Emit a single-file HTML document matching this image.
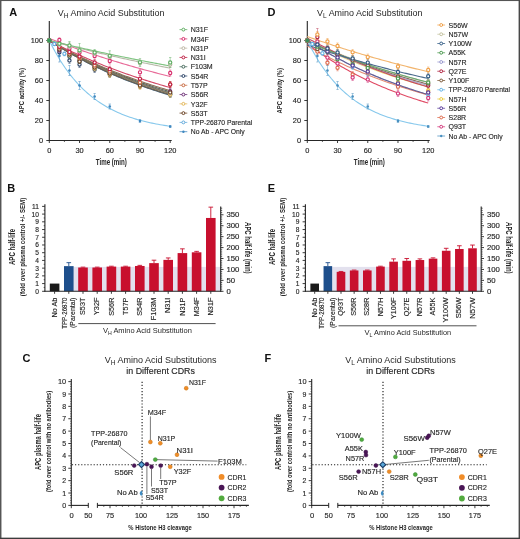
<!DOCTYPE html>
<html><head><meta charset="utf-8"><style>
html,body{margin:0;padding:0;background:#fff;}
svg{display:block;filter:blur(0.3px);}
text{font-family:"Liberation Sans", sans-serif;}
</style></head><body>
<svg width="520" height="539" viewBox="0 0 520 539" font-family="Liberation Sans, sans-serif">
<rect x="0" y="0" width="520" height="539" fill="#fff"/>
<text x="9.20" y="15.58" font-size="11" fill="#111" font-weight="bold">A</text>
<text x="7.20" y="191.58" font-size="11" fill="#111" font-weight="bold">B</text>
<text x="22.50" y="362.18" font-size="11" fill="#111" font-weight="bold">C</text>
<text x="267.50" y="16.28" font-size="11" fill="#111" font-weight="bold">D</text>
<text x="267.70" y="191.68" font-size="11" fill="#111" font-weight="bold">E</text>
<text x="264.50" y="362.08" font-size="11" fill="#111" font-weight="bold">F</text>
<text x="57.80" y="16.3" font-size="8.95" fill="#262626">V<tspan font-size="6.6" dy="1.5">H</tspan><tspan dy="-1.5"> Amino Acid Substitution</tspan></text>
<line x1="49.30" y1="21.00" x2="49.30" y2="141.00" stroke="#262626" stroke-width="1.1"/>
<line x1="48.80" y1="140.50" x2="171.71" y2="140.50" stroke="#262626" stroke-width="1.1"/>
<line x1="46.30" y1="140.50" x2="49.30" y2="140.50" stroke="#262626" stroke-width="0.9"/>
<text x="43.00" y="143.05" font-size="7.4" fill="#262626" stroke="#262626" stroke-width="0.15" text-anchor="end">0</text>
<line x1="46.30" y1="120.50" x2="49.30" y2="120.50" stroke="#262626" stroke-width="0.9"/>
<text x="43.00" y="123.05" font-size="7.4" fill="#262626" stroke="#262626" stroke-width="0.15" text-anchor="end">20</text>
<line x1="46.30" y1="100.50" x2="49.30" y2="100.50" stroke="#262626" stroke-width="0.9"/>
<text x="43.00" y="103.05" font-size="7.4" fill="#262626" stroke="#262626" stroke-width="0.15" text-anchor="end">40</text>
<line x1="46.30" y1="80.50" x2="49.30" y2="80.50" stroke="#262626" stroke-width="0.9"/>
<text x="43.00" y="83.05" font-size="7.4" fill="#262626" stroke="#262626" stroke-width="0.15" text-anchor="end">60</text>
<line x1="46.30" y1="60.50" x2="49.30" y2="60.50" stroke="#262626" stroke-width="0.9"/>
<text x="43.00" y="63.05" font-size="7.4" fill="#262626" stroke="#262626" stroke-width="0.15" text-anchor="end">80</text>
<line x1="46.30" y1="40.50" x2="49.30" y2="40.50" stroke="#262626" stroke-width="0.9"/>
<text x="43.00" y="43.05" font-size="7.4" fill="#262626" stroke="#262626" stroke-width="0.15" text-anchor="end">100</text>
<line x1="49.30" y1="140.50" x2="49.30" y2="143.00" stroke="#262626" stroke-width="0.9"/>
<text x="49.30" y="152.75" font-size="7.4" fill="#262626" stroke="#262626" stroke-width="0.15" text-anchor="middle">0</text>
<line x1="79.53" y1="140.50" x2="79.53" y2="143.00" stroke="#262626" stroke-width="0.9"/>
<text x="79.53" y="152.75" font-size="7.4" fill="#262626" stroke="#262626" stroke-width="0.15" text-anchor="middle">30</text>
<line x1="109.75" y1="140.50" x2="109.75" y2="143.00" stroke="#262626" stroke-width="0.9"/>
<text x="109.75" y="152.75" font-size="7.4" fill="#262626" stroke="#262626" stroke-width="0.15" text-anchor="middle">60</text>
<line x1="139.98" y1="140.50" x2="139.98" y2="143.00" stroke="#262626" stroke-width="0.9"/>
<text x="139.98" y="152.75" font-size="7.4" fill="#262626" stroke="#262626" stroke-width="0.15" text-anchor="middle">90</text>
<line x1="170.20" y1="140.50" x2="170.20" y2="143.00" stroke="#262626" stroke-width="0.9"/>
<text x="170.20" y="152.75" font-size="7.4" fill="#262626" stroke="#262626" stroke-width="0.15" text-anchor="middle">120</text>
<line x1="64.41" y1="140.50" x2="64.41" y2="142.00" stroke="#262626" stroke-width="0.7"/>
<line x1="94.64" y1="140.50" x2="94.64" y2="142.00" stroke="#262626" stroke-width="0.7"/>
<line x1="124.86" y1="140.50" x2="124.86" y2="142.00" stroke="#262626" stroke-width="0.7"/>
<line x1="155.09" y1="140.50" x2="155.09" y2="142.00" stroke="#262626" stroke-width="0.7"/>
<text x="111.30" y="164.86" font-size="8.3" fill="#262626" font-weight="bold" text-anchor="middle" textLength="31" lengthAdjust="spacingAndGlyphs">Time (min)</text>
<text transform="translate(21.50,90.70) rotate(-90)" x="0" y="2.68" font-size="7.8" fill="#262626" font-weight="bold" text-anchor="middle" textLength="45.5" lengthAdjust="spacingAndGlyphs">APC activity (%)</text>
<path d="M49.30,40.50 L51.31,41.81 L53.33,43.11 L55.34,44.38 L57.36,45.64 L59.38,46.89 L61.39,48.11 L63.41,49.33 L65.42,50.52 L67.44,51.70 L69.45,52.87 L71.47,54.02 L73.48,55.15 L75.50,56.27 L77.51,57.37 L79.53,58.46 L81.54,59.54 L83.56,60.60 L85.57,61.65 L87.59,62.68 L89.60,63.70 L91.62,64.71 L93.63,65.70 L95.65,66.68 L97.66,67.65 L99.67,68.61 L101.69,69.55 L103.70,70.48 L105.72,71.40 L107.73,72.31 L109.75,73.20 L111.77,74.08 L113.78,74.95 L115.80,75.81 L117.81,76.66 L119.83,77.50 L121.84,78.32 L123.86,79.14 L125.87,79.94 L127.89,80.74 L129.90,81.52 L131.92,82.30 L133.93,83.06 L135.94,83.81 L137.96,84.55 L139.98,85.29 L141.99,86.01 L144.00,86.73 L146.02,87.43 L148.03,88.13 L150.05,88.81 L152.06,89.49 L154.08,90.16 L156.09,90.82 L158.11,91.47 L160.12,92.12 L162.14,92.75 L164.16,93.38 L166.17,93.99 L168.19,94.60 L170.20,95.21" stroke="#8cc6ea" stroke-width="1.1" fill="none"/>
<path d="M49.30,40.50 L51.31,41.81 L53.33,43.11 L55.34,44.38 L57.36,45.64 L59.38,46.89 L61.39,48.11 L63.41,49.33 L65.42,50.52 L67.44,51.70 L69.45,52.87 L71.47,54.02 L73.48,55.15 L75.50,56.27 L77.51,57.37 L79.53,58.46 L81.54,59.54 L83.56,60.60 L85.57,61.65 L87.59,62.68 L89.60,63.70 L91.62,64.71 L93.63,65.70 L95.65,66.68 L97.66,67.65 L99.67,68.61 L101.69,69.55 L103.70,70.48 L105.72,71.40 L107.73,72.31 L109.75,73.20 L111.77,74.08 L113.78,74.95 L115.80,75.81 L117.81,76.66 L119.83,77.50 L121.84,78.32 L123.86,79.14 L125.87,79.94 L127.89,80.74 L129.90,81.52 L131.92,82.30 L133.93,83.06 L135.94,83.81 L137.96,84.55 L139.98,85.29 L141.99,86.01 L144.00,86.73 L146.02,87.43 L148.03,88.13 L150.05,88.81 L152.06,89.49 L154.08,90.16 L156.09,90.82 L158.11,91.47 L160.12,92.12 L162.14,92.75 L164.16,93.38 L166.17,93.99 L168.19,94.60 L170.20,95.21" stroke="#56606a" stroke-width="1.1" fill="none"/>
<path d="M49.30,40.50 L51.31,41.73 L53.33,42.95 L55.34,44.15 L57.36,45.34 L59.38,46.51 L61.39,47.67 L63.41,48.81 L65.42,49.94 L67.44,51.06 L69.45,52.16 L71.47,53.25 L73.48,54.33 L75.50,55.39 L77.51,56.44 L79.53,57.47 L81.54,58.50 L83.56,59.51 L85.57,60.50 L87.59,61.49 L89.60,62.46 L91.62,63.43 L93.63,64.38 L95.65,65.31 L97.66,66.24 L99.67,67.16 L101.69,68.06 L103.70,68.95 L105.72,69.83 L107.73,70.70 L109.75,71.56 L111.77,72.41 L113.78,73.25 L115.80,74.08 L117.81,74.90 L119.83,75.71 L121.84,76.51 L123.86,77.30 L125.87,78.07 L127.89,78.84 L129.90,79.60 L131.92,80.35 L133.93,81.10 L135.94,81.83 L137.96,82.55 L139.98,83.26 L141.99,83.97 L144.00,84.67 L146.02,85.35 L148.03,86.03 L150.05,86.71 L152.06,87.37 L154.08,88.02 L156.09,88.67 L158.11,89.31 L160.12,89.94 L162.14,90.56 L164.16,91.18 L166.17,91.79 L168.19,92.39 L170.20,92.98" stroke="#66586a" stroke-width="1.1" fill="none"/>
<path d="M49.30,40.50 L51.31,41.69 L53.33,42.87 L55.34,44.04 L57.36,45.19 L59.38,46.32 L61.39,47.45 L63.41,48.56 L65.42,49.65 L67.44,50.74 L69.45,51.81 L71.47,52.87 L73.48,53.91 L75.50,54.94 L77.51,55.96 L79.53,56.97 L81.54,57.97 L83.56,58.95 L85.57,59.93 L87.59,60.89 L89.60,61.84 L91.62,62.78 L93.63,63.70 L95.65,64.62 L97.66,65.52 L99.67,66.42 L101.69,67.30 L103.70,68.17 L105.72,69.04 L107.73,69.89 L109.75,70.73 L111.77,71.56 L113.78,72.39 L115.80,73.20 L117.81,74.00 L119.83,74.80 L121.84,75.58 L123.86,76.35 L125.87,77.12 L127.89,77.87 L129.90,78.62 L131.92,79.36 L133.93,80.09 L135.94,80.81 L137.96,81.52 L139.98,82.23 L141.99,82.92 L144.00,83.61 L146.02,84.29 L148.03,84.96 L150.05,85.62 L152.06,86.27 L154.08,86.92 L156.09,87.56 L158.11,88.19 L160.12,88.81 L162.14,89.43 L164.16,90.04 L166.17,90.64 L168.19,91.24 L170.20,91.82" stroke="#5a6a5a" stroke-width="1.1" fill="none"/>
<path d="M49.30,40.50 L51.31,41.75 L53.33,42.99 L55.34,44.21 L57.36,45.42 L59.38,46.61 L61.39,47.78 L63.41,48.94 L65.42,50.09 L67.44,51.22 L69.45,52.34 L71.47,53.44 L73.48,54.53 L75.50,55.61 L77.51,56.67 L79.53,57.72 L81.54,58.76 L83.56,59.78 L85.57,60.79 L87.59,61.79 L89.60,62.78 L91.62,63.75 L93.63,64.71 L95.65,65.66 L97.66,66.60 L99.67,67.52 L101.69,68.43 L103.70,69.34 L105.72,70.23 L107.73,71.11 L109.75,71.98 L111.77,72.83 L113.78,73.68 L115.80,74.52 L117.81,75.34 L119.83,76.16 L121.84,76.97 L123.86,77.76 L125.87,78.55 L127.89,79.32 L129.90,80.09 L131.92,80.85 L133.93,81.59 L135.94,82.33 L137.96,83.06 L139.98,83.78 L141.99,84.49 L144.00,85.19 L146.02,85.88 L148.03,86.57 L150.05,87.24 L152.06,87.91 L154.08,88.57 L156.09,89.22 L158.11,89.86 L160.12,90.49 L162.14,91.12 L164.16,91.74 L166.17,92.35 L168.19,92.95 L170.20,93.55" stroke="#8a8060" stroke-width="1.1" fill="none"/>
<path d="M49.30,40.50 L51.31,41.79 L53.33,43.07 L55.34,44.32 L57.36,45.57 L59.38,46.79 L61.39,48.00 L63.41,49.20 L65.42,50.38 L67.44,51.54 L69.45,52.69 L71.47,53.82 L73.48,54.94 L75.50,56.05 L77.51,57.14 L79.53,58.22 L81.54,59.28 L83.56,60.33 L85.57,61.36 L87.59,62.39 L89.60,63.39 L91.62,64.39 L93.63,65.37 L95.65,66.34 L97.66,67.30 L99.67,68.25 L101.69,69.18 L103.70,70.10 L105.72,71.01 L107.73,71.91 L109.75,72.79 L111.77,73.67 L113.78,74.53 L115.80,75.38 L117.81,76.23 L119.83,77.06 L121.84,77.87 L123.86,78.68 L125.87,79.48 L127.89,80.27 L129.90,81.05 L131.92,81.82 L133.93,82.57 L135.94,83.32 L137.96,84.06 L139.98,84.79 L141.99,85.51 L144.00,86.22 L146.02,86.92 L148.03,87.61 L150.05,88.30 L152.06,88.97 L154.08,89.64 L156.09,90.29 L158.11,90.94 L160.12,91.58 L162.14,92.21 L164.16,92.84 L166.17,93.45 L168.19,94.06 L170.20,94.66" stroke="#6a6050" stroke-width="1.1" fill="none"/>
<path d="M49.30,40.50 L51.31,41.65 L53.33,42.79 L55.34,43.92 L57.36,45.03 L59.38,46.14 L61.39,47.22 L63.41,48.30 L65.42,49.36 L67.44,50.41 L69.45,51.45 L71.47,52.48 L73.48,53.49 L75.50,54.50 L77.51,55.49 L79.53,56.47 L81.54,57.44 L83.56,58.40 L85.57,59.34 L87.59,60.28 L89.60,61.21 L91.62,62.12 L93.63,63.02 L95.65,63.92 L97.66,64.80 L99.67,65.67 L101.69,66.54 L103.70,67.39 L105.72,68.23 L107.73,69.07 L109.75,69.89 L111.77,70.70 L113.78,71.51 L115.80,72.31 L117.81,73.09 L119.83,73.87 L121.84,74.64 L123.86,75.40 L125.87,76.15 L127.89,76.89 L129.90,77.62 L131.92,78.35 L133.93,79.07 L135.94,79.77 L137.96,80.47 L139.98,81.17 L141.99,81.85 L144.00,82.53 L146.02,83.20 L148.03,83.86 L150.05,84.51 L152.06,85.16 L154.08,85.79 L156.09,86.43 L158.11,87.05 L160.12,87.67 L162.14,88.27 L164.16,88.88 L166.17,89.47 L168.19,90.06 L170.20,90.64" stroke="#8a7058" stroke-width="1.1" fill="none"/>
<path d="M49.30,40.50 L51.31,41.55 L53.33,42.60 L55.34,43.63 L57.36,44.65 L59.38,45.66 L61.39,46.66 L63.41,47.65 L65.42,48.63 L67.44,49.60 L69.45,50.56 L71.47,51.51 L73.48,52.44 L75.50,53.37 L77.51,54.29 L79.53,55.20 L81.54,56.10 L83.56,56.99 L85.57,57.87 L87.59,58.74 L89.60,59.60 L91.62,60.46 L93.63,61.30 L95.65,62.14 L97.66,62.96 L99.67,63.78 L101.69,64.59 L103.70,65.39 L105.72,66.18 L107.73,66.96 L109.75,67.74 L111.77,68.51 L113.78,69.27 L115.80,70.02 L117.81,70.76 L119.83,71.50 L121.84,72.22 L123.86,72.94 L125.87,73.66 L127.89,74.36 L129.90,75.06 L131.92,75.75 L133.93,76.43 L135.94,77.11 L137.96,77.77 L139.98,78.44 L141.99,79.09 L144.00,79.74 L146.02,80.38 L148.03,81.01 L150.05,81.64 L152.06,82.26 L154.08,82.87 L156.09,83.48 L158.11,84.08 L160.12,84.68 L162.14,85.27 L164.16,85.85 L166.17,86.43 L168.19,87.00 L170.20,87.56" stroke="#d04a66" stroke-width="1.1" fill="none"/>
<path d="M49.30,38.50 L51.31,39.29 L53.33,40.07 L55.34,40.85 L57.36,41.62 L59.38,42.38 L61.39,43.14 L63.41,43.89 L65.42,44.64 L67.44,45.38 L69.45,46.12 L71.47,46.85 L73.48,47.57 L75.50,48.29 L77.51,49.00 L79.53,49.71 L81.54,50.41 L83.56,51.11 L85.57,51.80 L87.59,52.48 L89.60,53.16 L91.62,53.84 L93.63,54.51 L95.65,55.17 L97.66,55.83 L99.67,56.49 L101.69,57.14 L103.70,57.78 L105.72,58.42 L107.73,59.05 L109.75,59.68 L111.77,60.31 L113.78,60.93 L115.80,61.54 L117.81,62.15 L119.83,62.76 L121.84,63.36 L123.86,63.96 L125.87,64.55 L127.89,65.14 L129.90,65.72 L131.92,66.30 L133.93,66.87 L135.94,67.44 L137.96,68.00 L139.98,68.56 L141.99,69.12 L144.00,69.67 L146.02,70.22 L148.03,70.76 L150.05,71.30 L152.06,71.84 L154.08,72.37 L156.09,72.89 L158.11,73.42 L160.12,73.94 L162.14,74.45 L164.16,74.96 L166.17,75.47 L168.19,75.97 L170.20,76.47" stroke="#e86a98" stroke-width="1.1" fill="none"/>
<path d="M49.30,40.50 L51.31,41.04 L53.33,41.57 L55.34,42.11 L57.36,42.64 L59.38,43.16 L61.39,43.69 L63.41,44.21 L65.42,44.73 L67.44,45.24 L69.45,45.76 L71.47,46.27 L73.48,46.77 L75.50,47.28 L77.51,47.78 L79.53,48.28 L81.54,48.78 L83.56,49.27 L85.57,49.76 L87.59,50.25 L89.60,50.74 L91.62,51.22 L93.63,51.70 L95.65,52.18 L97.66,52.66 L99.67,53.13 L101.69,53.60 L103.70,54.07 L105.72,54.53 L107.73,55.00 L109.75,55.46 L111.77,55.91 L113.78,56.37 L115.80,56.82 L117.81,57.27 L119.83,57.72 L121.84,58.17 L123.86,58.61 L125.87,59.05 L127.89,59.49 L129.90,59.93 L131.92,60.36 L133.93,60.79 L135.94,61.22 L137.96,61.65 L139.98,62.07 L141.99,62.50 L144.00,62.92 L146.02,63.33 L148.03,63.75 L150.05,64.16 L152.06,64.57 L154.08,64.98 L156.09,65.39 L158.11,65.79 L160.12,66.20 L162.14,66.60 L164.16,66.99 L166.17,67.39 L168.19,67.78 L170.20,68.17" stroke="#b8b8a8" stroke-width="1.1" fill="none"/>
<path d="M49.30,40.50 L51.31,40.99 L53.33,41.48 L55.34,41.96 L57.36,42.44 L59.38,42.92 L61.39,43.40 L63.41,43.87 L65.42,44.34 L67.44,44.81 L69.45,45.28 L71.47,45.75 L73.48,46.21 L75.50,46.67 L77.51,47.13 L79.53,47.59 L81.54,48.04 L83.56,48.49 L85.57,48.94 L87.59,49.39 L89.60,49.84 L91.62,50.28 L93.63,50.72 L95.65,51.16 L97.66,51.59 L99.67,52.03 L101.69,52.46 L103.70,52.89 L105.72,53.32 L107.73,53.75 L109.75,54.17 L111.77,54.59 L113.78,55.01 L115.80,55.43 L117.81,55.85 L119.83,56.26 L121.84,56.67 L123.86,57.08 L125.87,57.49 L127.89,57.90 L129.90,58.30 L131.92,58.70 L133.93,59.10 L135.94,59.50 L137.96,59.89 L139.98,60.29 L141.99,60.68 L144.00,61.07 L146.02,61.46 L148.03,61.85 L150.05,62.23 L152.06,62.61 L154.08,62.99 L156.09,63.37 L158.11,63.75 L160.12,64.12 L162.14,64.50 L164.16,64.87 L166.17,65.24 L168.19,65.61 L170.20,65.97" stroke="#7cc27e" stroke-width="1.1" fill="none"/>
<path d="M49.30,40.50 L51.31,44.53 L53.33,48.38 L55.34,52.07 L57.36,55.59 L59.38,58.96 L61.39,62.18 L63.41,65.27 L65.42,68.21 L67.44,71.03 L69.45,73.72 L71.47,76.30 L73.48,78.76 L75.50,81.11 L77.51,83.36 L79.53,85.52 L81.54,87.58 L83.56,89.54 L85.57,91.43 L87.59,93.22 L89.60,94.95 L91.62,96.59 L93.63,98.16 L95.65,99.67 L97.66,101.11 L99.67,102.48 L101.69,103.80 L103.70,105.05 L105.72,106.26 L107.73,107.41 L109.75,108.51 L111.77,109.56 L113.78,110.56 L115.80,111.52 L117.81,112.44 L119.83,113.32 L121.84,114.16 L123.86,114.97 L125.87,115.73 L127.89,116.47 L129.90,117.17 L131.92,117.84 L133.93,118.48 L135.94,119.10 L137.96,119.69 L139.98,120.25 L141.99,120.78 L144.00,121.30 L146.02,121.79 L148.03,122.26 L150.05,122.71 L152.06,123.13 L154.08,123.55 L156.09,123.94 L158.11,124.31 L160.12,124.67 L162.14,125.01 L164.16,125.34 L166.17,125.66 L168.19,125.96 L170.20,126.24" stroke="#86c8ec" stroke-width="1.1" fill="none"/>
<line x1="54.34" y1="42.50" x2="54.34" y2="45.50" stroke="#62aadc" stroke-width="0.6" opacity="0.8"/>
<line x1="53.14" y1="42.50" x2="55.54" y2="42.50" stroke="#62aadc" stroke-width="0.6" opacity="0.8"/>
<line x1="53.14" y1="45.50" x2="55.54" y2="45.50" stroke="#62aadc" stroke-width="0.6" opacity="0.8"/>
<line x1="64.41" y1="51.80" x2="64.41" y2="55.80" stroke="#62aadc" stroke-width="0.6" opacity="0.8"/>
<line x1="63.21" y1="51.80" x2="65.61" y2="51.80" stroke="#62aadc" stroke-width="0.6" opacity="0.8"/>
<line x1="63.21" y1="55.80" x2="65.61" y2="55.80" stroke="#62aadc" stroke-width="0.6" opacity="0.8"/>
<line x1="79.53" y1="55.50" x2="79.53" y2="61.50" stroke="#62aadc" stroke-width="0.6" opacity="0.8"/>
<line x1="78.33" y1="55.50" x2="80.73" y2="55.50" stroke="#62aadc" stroke-width="0.6" opacity="0.8"/>
<line x1="78.33" y1="61.50" x2="80.73" y2="61.50" stroke="#62aadc" stroke-width="0.6" opacity="0.8"/>
<line x1="94.64" y1="63.50" x2="94.64" y2="69.50" stroke="#62aadc" stroke-width="0.6" opacity="0.8"/>
<line x1="93.44" y1="63.50" x2="95.84" y2="63.50" stroke="#62aadc" stroke-width="0.6" opacity="0.8"/>
<line x1="93.44" y1="69.50" x2="95.84" y2="69.50" stroke="#62aadc" stroke-width="0.6" opacity="0.8"/>
<line x1="109.75" y1="70.50" x2="109.75" y2="76.50" stroke="#62aadc" stroke-width="0.6" opacity="0.8"/>
<line x1="108.55" y1="70.50" x2="110.95" y2="70.50" stroke="#62aadc" stroke-width="0.6" opacity="0.8"/>
<line x1="108.55" y1="76.50" x2="110.95" y2="76.50" stroke="#62aadc" stroke-width="0.6" opacity="0.8"/>
<line x1="139.98" y1="82.50" x2="139.98" y2="88.50" stroke="#62aadc" stroke-width="0.6" opacity="0.8"/>
<line x1="138.78" y1="82.50" x2="141.18" y2="82.50" stroke="#62aadc" stroke-width="0.6" opacity="0.8"/>
<line x1="138.78" y1="88.50" x2="141.18" y2="88.50" stroke="#62aadc" stroke-width="0.6" opacity="0.8"/>
<line x1="170.20" y1="91.50" x2="170.20" y2="97.50" stroke="#62aadc" stroke-width="0.6" opacity="0.8"/>
<line x1="169.00" y1="91.50" x2="171.40" y2="91.50" stroke="#62aadc" stroke-width="0.6" opacity="0.8"/>
<line x1="169.00" y1="97.50" x2="171.40" y2="97.50" stroke="#62aadc" stroke-width="0.6" opacity="0.8"/>
<line x1="59.38" y1="49.20" x2="59.38" y2="55.20" stroke="#2c4468" stroke-width="0.6" opacity="0.8"/>
<line x1="58.17" y1="49.20" x2="60.58" y2="49.20" stroke="#2c4468" stroke-width="0.6" opacity="0.8"/>
<line x1="58.17" y1="55.20" x2="60.58" y2="55.20" stroke="#2c4468" stroke-width="0.6" opacity="0.8"/>
<line x1="69.45" y1="57.40" x2="69.45" y2="63.40" stroke="#2c4468" stroke-width="0.6" opacity="0.8"/>
<line x1="68.25" y1="57.40" x2="70.65" y2="57.40" stroke="#2c4468" stroke-width="0.6" opacity="0.8"/>
<line x1="68.25" y1="63.40" x2="70.65" y2="63.40" stroke="#2c4468" stroke-width="0.6" opacity="0.8"/>
<line x1="79.53" y1="61.50" x2="79.53" y2="67.50" stroke="#2c4468" stroke-width="0.6" opacity="0.8"/>
<line x1="78.33" y1="61.50" x2="80.73" y2="61.50" stroke="#2c4468" stroke-width="0.6" opacity="0.8"/>
<line x1="78.33" y1="67.50" x2="80.73" y2="67.50" stroke="#2c4468" stroke-width="0.6" opacity="0.8"/>
<line x1="94.64" y1="66.50" x2="94.64" y2="72.50" stroke="#2c4468" stroke-width="0.6" opacity="0.8"/>
<line x1="93.44" y1="66.50" x2="95.84" y2="66.50" stroke="#2c4468" stroke-width="0.6" opacity="0.8"/>
<line x1="93.44" y1="72.50" x2="95.84" y2="72.50" stroke="#2c4468" stroke-width="0.6" opacity="0.8"/>
<line x1="109.75" y1="71.50" x2="109.75" y2="77.50" stroke="#2c4468" stroke-width="0.6" opacity="0.8"/>
<line x1="108.55" y1="71.50" x2="110.95" y2="71.50" stroke="#2c4468" stroke-width="0.6" opacity="0.8"/>
<line x1="108.55" y1="77.50" x2="110.95" y2="77.50" stroke="#2c4468" stroke-width="0.6" opacity="0.8"/>
<line x1="139.98" y1="82.50" x2="139.98" y2="88.50" stroke="#2c4468" stroke-width="0.6" opacity="0.8"/>
<line x1="138.78" y1="82.50" x2="141.18" y2="82.50" stroke="#2c4468" stroke-width="0.6" opacity="0.8"/>
<line x1="138.78" y1="88.50" x2="141.18" y2="88.50" stroke="#2c4468" stroke-width="0.6" opacity="0.8"/>
<line x1="170.20" y1="91.50" x2="170.20" y2="97.50" stroke="#2c4468" stroke-width="0.6" opacity="0.8"/>
<line x1="169.00" y1="91.50" x2="171.40" y2="91.50" stroke="#2c4468" stroke-width="0.6" opacity="0.8"/>
<line x1="169.00" y1="97.50" x2="171.40" y2="97.50" stroke="#2c4468" stroke-width="0.6" opacity="0.8"/>
<line x1="59.38" y1="47.50" x2="59.38" y2="53.50" stroke="#6a2c74" stroke-width="0.6" opacity="0.8"/>
<line x1="58.17" y1="47.50" x2="60.58" y2="47.50" stroke="#6a2c74" stroke-width="0.6" opacity="0.8"/>
<line x1="58.17" y1="53.50" x2="60.58" y2="53.50" stroke="#6a2c74" stroke-width="0.6" opacity="0.8"/>
<line x1="69.45" y1="52.50" x2="69.45" y2="58.50" stroke="#6a2c74" stroke-width="0.6" opacity="0.8"/>
<line x1="68.25" y1="52.50" x2="70.65" y2="52.50" stroke="#6a2c74" stroke-width="0.6" opacity="0.8"/>
<line x1="68.25" y1="58.50" x2="70.65" y2="58.50" stroke="#6a2c74" stroke-width="0.6" opacity="0.8"/>
<line x1="79.53" y1="57.50" x2="79.53" y2="63.50" stroke="#6a2c74" stroke-width="0.6" opacity="0.8"/>
<line x1="78.33" y1="57.50" x2="80.73" y2="57.50" stroke="#6a2c74" stroke-width="0.6" opacity="0.8"/>
<line x1="78.33" y1="63.50" x2="80.73" y2="63.50" stroke="#6a2c74" stroke-width="0.6" opacity="0.8"/>
<line x1="94.64" y1="63.50" x2="94.64" y2="69.50" stroke="#6a2c74" stroke-width="0.6" opacity="0.8"/>
<line x1="93.44" y1="63.50" x2="95.84" y2="63.50" stroke="#6a2c74" stroke-width="0.6" opacity="0.8"/>
<line x1="93.44" y1="69.50" x2="95.84" y2="69.50" stroke="#6a2c74" stroke-width="0.6" opacity="0.8"/>
<line x1="109.75" y1="70.50" x2="109.75" y2="76.50" stroke="#6a2c74" stroke-width="0.6" opacity="0.8"/>
<line x1="108.55" y1="70.50" x2="110.95" y2="70.50" stroke="#6a2c74" stroke-width="0.6" opacity="0.8"/>
<line x1="108.55" y1="76.50" x2="110.95" y2="76.50" stroke="#6a2c74" stroke-width="0.6" opacity="0.8"/>
<line x1="139.98" y1="81.50" x2="139.98" y2="87.50" stroke="#6a2c74" stroke-width="0.6" opacity="0.8"/>
<line x1="138.78" y1="81.50" x2="141.18" y2="81.50" stroke="#6a2c74" stroke-width="0.6" opacity="0.8"/>
<line x1="138.78" y1="87.50" x2="141.18" y2="87.50" stroke="#6a2c74" stroke-width="0.6" opacity="0.8"/>
<line x1="170.20" y1="88.50" x2="170.20" y2="94.50" stroke="#6a2c74" stroke-width="0.6" opacity="0.8"/>
<line x1="169.00" y1="88.50" x2="171.40" y2="88.50" stroke="#6a2c74" stroke-width="0.6" opacity="0.8"/>
<line x1="169.00" y1="94.50" x2="171.40" y2="94.50" stroke="#6a2c74" stroke-width="0.6" opacity="0.8"/>
<line x1="59.38" y1="45.70" x2="59.38" y2="51.70" stroke="#466a5c" stroke-width="0.6" opacity="0.8"/>
<line x1="58.17" y1="45.70" x2="60.58" y2="45.70" stroke="#466a5c" stroke-width="0.6" opacity="0.8"/>
<line x1="58.17" y1="51.70" x2="60.58" y2="51.70" stroke="#466a5c" stroke-width="0.6" opacity="0.8"/>
<line x1="69.45" y1="53.50" x2="69.45" y2="59.50" stroke="#466a5c" stroke-width="0.6" opacity="0.8"/>
<line x1="68.25" y1="53.50" x2="70.65" y2="53.50" stroke="#466a5c" stroke-width="0.6" opacity="0.8"/>
<line x1="68.25" y1="59.50" x2="70.65" y2="59.50" stroke="#466a5c" stroke-width="0.6" opacity="0.8"/>
<line x1="79.53" y1="58.50" x2="79.53" y2="64.50" stroke="#466a5c" stroke-width="0.6" opacity="0.8"/>
<line x1="78.33" y1="58.50" x2="80.73" y2="58.50" stroke="#466a5c" stroke-width="0.6" opacity="0.8"/>
<line x1="78.33" y1="64.50" x2="80.73" y2="64.50" stroke="#466a5c" stroke-width="0.6" opacity="0.8"/>
<line x1="94.64" y1="64.50" x2="94.64" y2="70.50" stroke="#466a5c" stroke-width="0.6" opacity="0.8"/>
<line x1="93.44" y1="64.50" x2="95.84" y2="64.50" stroke="#466a5c" stroke-width="0.6" opacity="0.8"/>
<line x1="93.44" y1="70.50" x2="95.84" y2="70.50" stroke="#466a5c" stroke-width="0.6" opacity="0.8"/>
<line x1="109.75" y1="70.00" x2="109.75" y2="76.00" stroke="#466a5c" stroke-width="0.6" opacity="0.8"/>
<line x1="108.55" y1="70.00" x2="110.95" y2="70.00" stroke="#466a5c" stroke-width="0.6" opacity="0.8"/>
<line x1="108.55" y1="76.00" x2="110.95" y2="76.00" stroke="#466a5c" stroke-width="0.6" opacity="0.8"/>
<line x1="139.98" y1="81.50" x2="139.98" y2="87.50" stroke="#466a5c" stroke-width="0.6" opacity="0.8"/>
<line x1="138.78" y1="81.50" x2="141.18" y2="81.50" stroke="#466a5c" stroke-width="0.6" opacity="0.8"/>
<line x1="138.78" y1="87.50" x2="141.18" y2="87.50" stroke="#466a5c" stroke-width="0.6" opacity="0.8"/>
<line x1="170.20" y1="90.50" x2="170.20" y2="96.50" stroke="#466a5c" stroke-width="0.6" opacity="0.8"/>
<line x1="169.00" y1="90.50" x2="171.40" y2="90.50" stroke="#466a5c" stroke-width="0.6" opacity="0.8"/>
<line x1="169.00" y1="96.50" x2="171.40" y2="96.50" stroke="#466a5c" stroke-width="0.6" opacity="0.8"/>
<line x1="59.38" y1="44.50" x2="59.38" y2="50.50" stroke="#e4b85a" stroke-width="0.6" opacity="0.8"/>
<line x1="58.17" y1="44.50" x2="60.58" y2="44.50" stroke="#e4b85a" stroke-width="0.6" opacity="0.8"/>
<line x1="58.17" y1="50.50" x2="60.58" y2="50.50" stroke="#e4b85a" stroke-width="0.6" opacity="0.8"/>
<line x1="69.45" y1="51.50" x2="69.45" y2="57.50" stroke="#e4b85a" stroke-width="0.6" opacity="0.8"/>
<line x1="68.25" y1="51.50" x2="70.65" y2="51.50" stroke="#e4b85a" stroke-width="0.6" opacity="0.8"/>
<line x1="68.25" y1="57.50" x2="70.65" y2="57.50" stroke="#e4b85a" stroke-width="0.6" opacity="0.8"/>
<line x1="79.53" y1="55.50" x2="79.53" y2="61.50" stroke="#e4b85a" stroke-width="0.6" opacity="0.8"/>
<line x1="78.33" y1="55.50" x2="80.73" y2="55.50" stroke="#e4b85a" stroke-width="0.6" opacity="0.8"/>
<line x1="78.33" y1="61.50" x2="80.73" y2="61.50" stroke="#e4b85a" stroke-width="0.6" opacity="0.8"/>
<line x1="94.64" y1="65.50" x2="94.64" y2="71.50" stroke="#e4b85a" stroke-width="0.6" opacity="0.8"/>
<line x1="93.44" y1="65.50" x2="95.84" y2="65.50" stroke="#e4b85a" stroke-width="0.6" opacity="0.8"/>
<line x1="93.44" y1="71.50" x2="95.84" y2="71.50" stroke="#e4b85a" stroke-width="0.6" opacity="0.8"/>
<line x1="109.75" y1="71.50" x2="109.75" y2="77.50" stroke="#e4b85a" stroke-width="0.6" opacity="0.8"/>
<line x1="108.55" y1="71.50" x2="110.95" y2="71.50" stroke="#e4b85a" stroke-width="0.6" opacity="0.8"/>
<line x1="108.55" y1="77.50" x2="110.95" y2="77.50" stroke="#e4b85a" stroke-width="0.6" opacity="0.8"/>
<line x1="139.98" y1="83.50" x2="139.98" y2="89.50" stroke="#e4b85a" stroke-width="0.6" opacity="0.8"/>
<line x1="138.78" y1="83.50" x2="141.18" y2="83.50" stroke="#e4b85a" stroke-width="0.6" opacity="0.8"/>
<line x1="138.78" y1="89.50" x2="141.18" y2="89.50" stroke="#e4b85a" stroke-width="0.6" opacity="0.8"/>
<line x1="170.20" y1="91.50" x2="170.20" y2="97.50" stroke="#e4b85a" stroke-width="0.6" opacity="0.8"/>
<line x1="169.00" y1="91.50" x2="171.40" y2="91.50" stroke="#e4b85a" stroke-width="0.6" opacity="0.8"/>
<line x1="169.00" y1="97.50" x2="171.40" y2="97.50" stroke="#e4b85a" stroke-width="0.6" opacity="0.8"/>
<line x1="59.38" y1="46.50" x2="59.38" y2="52.50" stroke="#6e4628" stroke-width="0.6" opacity="0.8"/>
<line x1="58.17" y1="46.50" x2="60.58" y2="46.50" stroke="#6e4628" stroke-width="0.6" opacity="0.8"/>
<line x1="58.17" y1="52.50" x2="60.58" y2="52.50" stroke="#6e4628" stroke-width="0.6" opacity="0.8"/>
<line x1="69.45" y1="51.50" x2="69.45" y2="57.50" stroke="#6e4628" stroke-width="0.6" opacity="0.8"/>
<line x1="68.25" y1="51.50" x2="70.65" y2="51.50" stroke="#6e4628" stroke-width="0.6" opacity="0.8"/>
<line x1="68.25" y1="57.50" x2="70.65" y2="57.50" stroke="#6e4628" stroke-width="0.6" opacity="0.8"/>
<line x1="79.53" y1="58.50" x2="79.53" y2="64.50" stroke="#6e4628" stroke-width="0.6" opacity="0.8"/>
<line x1="78.33" y1="58.50" x2="80.73" y2="58.50" stroke="#6e4628" stroke-width="0.6" opacity="0.8"/>
<line x1="78.33" y1="64.50" x2="80.73" y2="64.50" stroke="#6e4628" stroke-width="0.6" opacity="0.8"/>
<line x1="94.64" y1="64.50" x2="94.64" y2="70.50" stroke="#6e4628" stroke-width="0.6" opacity="0.8"/>
<line x1="93.44" y1="64.50" x2="95.84" y2="64.50" stroke="#6e4628" stroke-width="0.6" opacity="0.8"/>
<line x1="93.44" y1="70.50" x2="95.84" y2="70.50" stroke="#6e4628" stroke-width="0.6" opacity="0.8"/>
<line x1="109.75" y1="70.50" x2="109.75" y2="76.50" stroke="#6e4628" stroke-width="0.6" opacity="0.8"/>
<line x1="108.55" y1="70.50" x2="110.95" y2="70.50" stroke="#6e4628" stroke-width="0.6" opacity="0.8"/>
<line x1="108.55" y1="76.50" x2="110.95" y2="76.50" stroke="#6e4628" stroke-width="0.6" opacity="0.8"/>
<line x1="139.98" y1="82.50" x2="139.98" y2="88.50" stroke="#6e4628" stroke-width="0.6" opacity="0.8"/>
<line x1="138.78" y1="82.50" x2="141.18" y2="82.50" stroke="#6e4628" stroke-width="0.6" opacity="0.8"/>
<line x1="138.78" y1="88.50" x2="141.18" y2="88.50" stroke="#6e4628" stroke-width="0.6" opacity="0.8"/>
<line x1="170.20" y1="89.50" x2="170.20" y2="95.50" stroke="#6e4628" stroke-width="0.6" opacity="0.8"/>
<line x1="169.00" y1="89.50" x2="171.40" y2="89.50" stroke="#6e4628" stroke-width="0.6" opacity="0.8"/>
<line x1="169.00" y1="95.50" x2="171.40" y2="95.50" stroke="#6e4628" stroke-width="0.6" opacity="0.8"/>
<line x1="59.38" y1="44.50" x2="59.38" y2="50.50" stroke="#c86a40" stroke-width="0.6" opacity="0.8"/>
<line x1="58.17" y1="44.50" x2="60.58" y2="44.50" stroke="#c86a40" stroke-width="0.6" opacity="0.8"/>
<line x1="58.17" y1="50.50" x2="60.58" y2="50.50" stroke="#c86a40" stroke-width="0.6" opacity="0.8"/>
<line x1="69.45" y1="49.50" x2="69.45" y2="55.50" stroke="#c86a40" stroke-width="0.6" opacity="0.8"/>
<line x1="68.25" y1="49.50" x2="70.65" y2="49.50" stroke="#c86a40" stroke-width="0.6" opacity="0.8"/>
<line x1="68.25" y1="55.50" x2="70.65" y2="55.50" stroke="#c86a40" stroke-width="0.6" opacity="0.8"/>
<line x1="79.53" y1="54.50" x2="79.53" y2="60.50" stroke="#c86a40" stroke-width="0.6" opacity="0.8"/>
<line x1="78.33" y1="54.50" x2="80.73" y2="54.50" stroke="#c86a40" stroke-width="0.6" opacity="0.8"/>
<line x1="78.33" y1="60.50" x2="80.73" y2="60.50" stroke="#c86a40" stroke-width="0.6" opacity="0.8"/>
<line x1="94.64" y1="62.50" x2="94.64" y2="68.50" stroke="#c86a40" stroke-width="0.6" opacity="0.8"/>
<line x1="93.44" y1="62.50" x2="95.84" y2="62.50" stroke="#c86a40" stroke-width="0.6" opacity="0.8"/>
<line x1="93.44" y1="68.50" x2="95.84" y2="68.50" stroke="#c86a40" stroke-width="0.6" opacity="0.8"/>
<line x1="109.75" y1="68.50" x2="109.75" y2="74.50" stroke="#c86a40" stroke-width="0.6" opacity="0.8"/>
<line x1="108.55" y1="68.50" x2="110.95" y2="68.50" stroke="#c86a40" stroke-width="0.6" opacity="0.8"/>
<line x1="108.55" y1="74.50" x2="110.95" y2="74.50" stroke="#c86a40" stroke-width="0.6" opacity="0.8"/>
<line x1="139.98" y1="79.50" x2="139.98" y2="85.50" stroke="#c86a40" stroke-width="0.6" opacity="0.8"/>
<line x1="138.78" y1="79.50" x2="141.18" y2="79.50" stroke="#c86a40" stroke-width="0.6" opacity="0.8"/>
<line x1="138.78" y1="85.50" x2="141.18" y2="85.50" stroke="#c86a40" stroke-width="0.6" opacity="0.8"/>
<line x1="170.20" y1="81.50" x2="170.20" y2="87.50" stroke="#c86a40" stroke-width="0.6" opacity="0.8"/>
<line x1="169.00" y1="81.50" x2="171.40" y2="81.50" stroke="#c86a40" stroke-width="0.6" opacity="0.8"/>
<line x1="169.00" y1="87.50" x2="171.40" y2="87.50" stroke="#c86a40" stroke-width="0.6" opacity="0.8"/>
<line x1="59.38" y1="43.80" x2="59.38" y2="49.80" stroke="#be1a40" stroke-width="0.6" opacity="0.8"/>
<line x1="58.17" y1="43.80" x2="60.58" y2="43.80" stroke="#be1a40" stroke-width="0.6" opacity="0.8"/>
<line x1="58.17" y1="49.80" x2="60.58" y2="49.80" stroke="#be1a40" stroke-width="0.6" opacity="0.8"/>
<line x1="69.45" y1="48.90" x2="69.45" y2="54.90" stroke="#be1a40" stroke-width="0.6" opacity="0.8"/>
<line x1="68.25" y1="48.90" x2="70.65" y2="48.90" stroke="#be1a40" stroke-width="0.6" opacity="0.8"/>
<line x1="68.25" y1="54.90" x2="70.65" y2="54.90" stroke="#be1a40" stroke-width="0.6" opacity="0.8"/>
<line x1="79.53" y1="53.50" x2="79.53" y2="59.50" stroke="#be1a40" stroke-width="0.6" opacity="0.8"/>
<line x1="78.33" y1="53.50" x2="80.73" y2="53.50" stroke="#be1a40" stroke-width="0.6" opacity="0.8"/>
<line x1="78.33" y1="59.50" x2="80.73" y2="59.50" stroke="#be1a40" stroke-width="0.6" opacity="0.8"/>
<line x1="94.64" y1="59.50" x2="94.64" y2="65.50" stroke="#be1a40" stroke-width="0.6" opacity="0.8"/>
<line x1="93.44" y1="59.50" x2="95.84" y2="59.50" stroke="#be1a40" stroke-width="0.6" opacity="0.8"/>
<line x1="93.44" y1="65.50" x2="95.84" y2="65.50" stroke="#be1a40" stroke-width="0.6" opacity="0.8"/>
<line x1="109.75" y1="66.20" x2="109.75" y2="72.20" stroke="#be1a40" stroke-width="0.6" opacity="0.8"/>
<line x1="108.55" y1="66.20" x2="110.95" y2="66.20" stroke="#be1a40" stroke-width="0.6" opacity="0.8"/>
<line x1="108.55" y1="72.20" x2="110.95" y2="72.20" stroke="#be1a40" stroke-width="0.6" opacity="0.8"/>
<line x1="139.98" y1="75.80" x2="139.98" y2="81.80" stroke="#be1a40" stroke-width="0.6" opacity="0.8"/>
<line x1="138.78" y1="75.80" x2="141.18" y2="75.80" stroke="#be1a40" stroke-width="0.6" opacity="0.8"/>
<line x1="138.78" y1="81.80" x2="141.18" y2="81.80" stroke="#be1a40" stroke-width="0.6" opacity="0.8"/>
<line x1="170.20" y1="81.50" x2="170.20" y2="87.50" stroke="#be1a40" stroke-width="0.6" opacity="0.8"/>
<line x1="169.00" y1="81.50" x2="171.40" y2="81.50" stroke="#be1a40" stroke-width="0.6" opacity="0.8"/>
<line x1="169.00" y1="87.50" x2="171.40" y2="87.50" stroke="#be1a40" stroke-width="0.6" opacity="0.8"/>
<line x1="59.38" y1="37.90" x2="59.38" y2="41.90" stroke="#d8306e" stroke-width="0.6" opacity="0.8"/>
<line x1="58.17" y1="37.90" x2="60.58" y2="37.90" stroke="#d8306e" stroke-width="0.6" opacity="0.8"/>
<line x1="58.17" y1="41.90" x2="60.58" y2="41.90" stroke="#d8306e" stroke-width="0.6" opacity="0.8"/>
<line x1="69.45" y1="45.50" x2="69.45" y2="51.50" stroke="#d8306e" stroke-width="0.6" opacity="0.8"/>
<line x1="68.25" y1="45.50" x2="70.65" y2="45.50" stroke="#d8306e" stroke-width="0.6" opacity="0.8"/>
<line x1="68.25" y1="51.50" x2="70.65" y2="51.50" stroke="#d8306e" stroke-width="0.6" opacity="0.8"/>
<line x1="79.53" y1="49.50" x2="79.53" y2="55.50" stroke="#d8306e" stroke-width="0.6" opacity="0.8"/>
<line x1="78.33" y1="49.50" x2="80.73" y2="49.50" stroke="#d8306e" stroke-width="0.6" opacity="0.8"/>
<line x1="78.33" y1="55.50" x2="80.73" y2="55.50" stroke="#d8306e" stroke-width="0.6" opacity="0.8"/>
<line x1="94.64" y1="54.00" x2="94.64" y2="58.00" stroke="#d8306e" stroke-width="0.6" opacity="0.8"/>
<line x1="93.44" y1="54.00" x2="95.84" y2="54.00" stroke="#d8306e" stroke-width="0.6" opacity="0.8"/>
<line x1="93.44" y1="58.00" x2="95.84" y2="58.00" stroke="#d8306e" stroke-width="0.6" opacity="0.8"/>
<line x1="109.75" y1="58.00" x2="109.75" y2="64.00" stroke="#d8306e" stroke-width="0.6" opacity="0.8"/>
<line x1="108.55" y1="58.00" x2="110.95" y2="58.00" stroke="#d8306e" stroke-width="0.6" opacity="0.8"/>
<line x1="108.55" y1="64.00" x2="110.95" y2="64.00" stroke="#d8306e" stroke-width="0.6" opacity="0.8"/>
<line x1="139.98" y1="69.30" x2="139.98" y2="75.30" stroke="#d8306e" stroke-width="0.6" opacity="0.8"/>
<line x1="138.78" y1="69.30" x2="141.18" y2="69.30" stroke="#d8306e" stroke-width="0.6" opacity="0.8"/>
<line x1="138.78" y1="75.30" x2="141.18" y2="75.30" stroke="#d8306e" stroke-width="0.6" opacity="0.8"/>
<line x1="170.20" y1="70.00" x2="170.20" y2="76.00" stroke="#d8306e" stroke-width="0.6" opacity="0.8"/>
<line x1="169.00" y1="70.00" x2="171.40" y2="70.00" stroke="#d8306e" stroke-width="0.6" opacity="0.8"/>
<line x1="169.00" y1="76.00" x2="171.40" y2="76.00" stroke="#d8306e" stroke-width="0.6" opacity="0.8"/>
<line x1="59.38" y1="41.50" x2="59.38" y2="47.50" stroke="#bdb6a4" stroke-width="0.6" opacity="0.8"/>
<line x1="58.17" y1="41.50" x2="60.58" y2="41.50" stroke="#bdb6a4" stroke-width="0.6" opacity="0.8"/>
<line x1="58.17" y1="47.50" x2="60.58" y2="47.50" stroke="#bdb6a4" stroke-width="0.6" opacity="0.8"/>
<line x1="69.45" y1="42.50" x2="69.45" y2="50.50" stroke="#bdb6a4" stroke-width="0.6" opacity="0.8"/>
<line x1="68.25" y1="42.50" x2="70.65" y2="42.50" stroke="#bdb6a4" stroke-width="0.6" opacity="0.8"/>
<line x1="68.25" y1="50.50" x2="70.65" y2="50.50" stroke="#bdb6a4" stroke-width="0.6" opacity="0.8"/>
<line x1="79.53" y1="47.00" x2="79.53" y2="55.00" stroke="#bdb6a4" stroke-width="0.6" opacity="0.8"/>
<line x1="78.33" y1="47.00" x2="80.73" y2="47.00" stroke="#bdb6a4" stroke-width="0.6" opacity="0.8"/>
<line x1="78.33" y1="55.00" x2="80.73" y2="55.00" stroke="#bdb6a4" stroke-width="0.6" opacity="0.8"/>
<line x1="94.64" y1="50.50" x2="94.64" y2="56.50" stroke="#bdb6a4" stroke-width="0.6" opacity="0.8"/>
<line x1="93.44" y1="50.50" x2="95.84" y2="50.50" stroke="#bdb6a4" stroke-width="0.6" opacity="0.8"/>
<line x1="93.44" y1="56.50" x2="95.84" y2="56.50" stroke="#bdb6a4" stroke-width="0.6" opacity="0.8"/>
<line x1="109.75" y1="54.00" x2="109.75" y2="60.00" stroke="#bdb6a4" stroke-width="0.6" opacity="0.8"/>
<line x1="108.55" y1="54.00" x2="110.95" y2="54.00" stroke="#bdb6a4" stroke-width="0.6" opacity="0.8"/>
<line x1="108.55" y1="60.00" x2="110.95" y2="60.00" stroke="#bdb6a4" stroke-width="0.6" opacity="0.8"/>
<line x1="139.98" y1="60.00" x2="139.98" y2="66.00" stroke="#bdb6a4" stroke-width="0.6" opacity="0.8"/>
<line x1="138.78" y1="60.00" x2="141.18" y2="60.00" stroke="#bdb6a4" stroke-width="0.6" opacity="0.8"/>
<line x1="138.78" y1="66.00" x2="141.18" y2="66.00" stroke="#bdb6a4" stroke-width="0.6" opacity="0.8"/>
<line x1="170.20" y1="61.50" x2="170.20" y2="67.50" stroke="#bdb6a4" stroke-width="0.6" opacity="0.8"/>
<line x1="169.00" y1="61.50" x2="171.40" y2="61.50" stroke="#bdb6a4" stroke-width="0.6" opacity="0.8"/>
<line x1="169.00" y1="67.50" x2="171.40" y2="67.50" stroke="#bdb6a4" stroke-width="0.6" opacity="0.8"/>
<line x1="59.38" y1="40.70" x2="59.38" y2="46.70" stroke="#5fae62" stroke-width="0.6" opacity="0.8"/>
<line x1="58.17" y1="40.70" x2="60.58" y2="40.70" stroke="#5fae62" stroke-width="0.6" opacity="0.8"/>
<line x1="58.17" y1="46.70" x2="60.58" y2="46.70" stroke="#5fae62" stroke-width="0.6" opacity="0.8"/>
<line x1="69.45" y1="41.50" x2="69.45" y2="49.50" stroke="#5fae62" stroke-width="0.6" opacity="0.8"/>
<line x1="68.25" y1="41.50" x2="70.65" y2="41.50" stroke="#5fae62" stroke-width="0.6" opacity="0.8"/>
<line x1="68.25" y1="49.50" x2="70.65" y2="49.50" stroke="#5fae62" stroke-width="0.6" opacity="0.8"/>
<line x1="79.53" y1="43.30" x2="79.53" y2="57.30" stroke="#5fae62" stroke-width="0.6" opacity="0.8"/>
<line x1="78.33" y1="43.30" x2="80.73" y2="43.30" stroke="#5fae62" stroke-width="0.6" opacity="0.8"/>
<line x1="78.33" y1="57.30" x2="80.73" y2="57.30" stroke="#5fae62" stroke-width="0.6" opacity="0.8"/>
<line x1="94.64" y1="49.50" x2="94.64" y2="55.50" stroke="#5fae62" stroke-width="0.6" opacity="0.8"/>
<line x1="93.44" y1="49.50" x2="95.84" y2="49.50" stroke="#5fae62" stroke-width="0.6" opacity="0.8"/>
<line x1="93.44" y1="55.50" x2="95.84" y2="55.50" stroke="#5fae62" stroke-width="0.6" opacity="0.8"/>
<line x1="109.75" y1="50.80" x2="109.75" y2="60.80" stroke="#5fae62" stroke-width="0.6" opacity="0.8"/>
<line x1="108.55" y1="50.80" x2="110.95" y2="50.80" stroke="#5fae62" stroke-width="0.6" opacity="0.8"/>
<line x1="108.55" y1="60.80" x2="110.95" y2="60.80" stroke="#5fae62" stroke-width="0.6" opacity="0.8"/>
<line x1="139.98" y1="58.30" x2="139.98" y2="66.30" stroke="#5fae62" stroke-width="0.6" opacity="0.8"/>
<line x1="138.78" y1="58.30" x2="141.18" y2="58.30" stroke="#5fae62" stroke-width="0.6" opacity="0.8"/>
<line x1="138.78" y1="66.30" x2="141.18" y2="66.30" stroke="#5fae62" stroke-width="0.6" opacity="0.8"/>
<line x1="170.20" y1="57.50" x2="170.20" y2="67.50" stroke="#5fae62" stroke-width="0.6" opacity="0.8"/>
<line x1="169.00" y1="57.50" x2="171.40" y2="57.50" stroke="#5fae62" stroke-width="0.6" opacity="0.8"/>
<line x1="169.00" y1="67.50" x2="171.40" y2="67.50" stroke="#5fae62" stroke-width="0.6" opacity="0.8"/>
<line x1="59.38" y1="50.00" x2="59.38" y2="62.00" stroke="#3f88c0" stroke-width="0.6" opacity="0.8"/>
<line x1="58.17" y1="50.00" x2="60.58" y2="50.00" stroke="#3f88c0" stroke-width="0.6" opacity="0.8"/>
<line x1="58.17" y1="62.00" x2="60.58" y2="62.00" stroke="#3f88c0" stroke-width="0.6" opacity="0.8"/>
<line x1="69.45" y1="65.50" x2="69.45" y2="75.50" stroke="#3f88c0" stroke-width="0.6" opacity="0.8"/>
<line x1="68.25" y1="65.50" x2="70.65" y2="65.50" stroke="#3f88c0" stroke-width="0.6" opacity="0.8"/>
<line x1="68.25" y1="75.50" x2="70.65" y2="75.50" stroke="#3f88c0" stroke-width="0.6" opacity="0.8"/>
<line x1="79.53" y1="81.50" x2="79.53" y2="89.50" stroke="#3f88c0" stroke-width="0.6" opacity="0.8"/>
<line x1="78.33" y1="81.50" x2="80.73" y2="81.50" stroke="#3f88c0" stroke-width="0.6" opacity="0.8"/>
<line x1="78.33" y1="89.50" x2="80.73" y2="89.50" stroke="#3f88c0" stroke-width="0.6" opacity="0.8"/>
<line x1="94.64" y1="93.50" x2="94.64" y2="99.50" stroke="#3f88c0" stroke-width="0.6" opacity="0.8"/>
<line x1="93.44" y1="93.50" x2="95.84" y2="93.50" stroke="#3f88c0" stroke-width="0.6" opacity="0.8"/>
<line x1="93.44" y1="99.50" x2="95.84" y2="99.50" stroke="#3f88c0" stroke-width="0.6" opacity="0.8"/>
<line x1="109.75" y1="104.00" x2="109.75" y2="109.00" stroke="#3f88c0" stroke-width="0.6" opacity="0.8"/>
<line x1="108.55" y1="104.00" x2="110.95" y2="104.00" stroke="#3f88c0" stroke-width="0.6" opacity="0.8"/>
<line x1="108.55" y1="109.00" x2="110.95" y2="109.00" stroke="#3f88c0" stroke-width="0.6" opacity="0.8"/>
<line x1="139.98" y1="119.50" x2="139.98" y2="122.50" stroke="#3f88c0" stroke-width="0.6" opacity="0.8"/>
<line x1="138.78" y1="119.50" x2="141.18" y2="119.50" stroke="#3f88c0" stroke-width="0.6" opacity="0.8"/>
<line x1="138.78" y1="122.50" x2="141.18" y2="122.50" stroke="#3f88c0" stroke-width="0.6" opacity="0.8"/>
<line x1="170.20" y1="125.50" x2="170.20" y2="127.50" stroke="#3f88c0" stroke-width="0.6" opacity="0.8"/>
<line x1="169.00" y1="125.50" x2="171.40" y2="125.50" stroke="#3f88c0" stroke-width="0.6" opacity="0.8"/>
<line x1="169.00" y1="127.50" x2="171.40" y2="127.50" stroke="#3f88c0" stroke-width="0.6" opacity="0.8"/>
<circle cx="49.30" cy="40.50" r="1.6" fill="white" stroke="#62aadc" stroke-width="1.15"/>
<circle cx="54.34" cy="44.00" r="1.6" fill="white" stroke="#62aadc" stroke-width="1.15"/>
<circle cx="64.41" cy="53.80" r="1.6" fill="white" stroke="#62aadc" stroke-width="1.15"/>
<circle cx="79.53" cy="58.50" r="1.6" fill="white" stroke="#62aadc" stroke-width="1.15"/>
<circle cx="94.64" cy="66.50" r="1.6" fill="white" stroke="#62aadc" stroke-width="1.15"/>
<circle cx="109.75" cy="73.50" r="1.6" fill="white" stroke="#62aadc" stroke-width="1.15"/>
<circle cx="139.98" cy="85.50" r="1.6" fill="white" stroke="#62aadc" stroke-width="1.15"/>
<circle cx="170.20" cy="94.50" r="1.6" fill="white" stroke="#62aadc" stroke-width="1.15"/>
<circle cx="49.30" cy="40.50" r="1.6" fill="white" stroke="#2c4468" stroke-width="1.15"/>
<circle cx="59.38" cy="52.20" r="1.6" fill="white" stroke="#2c4468" stroke-width="1.15"/>
<circle cx="69.45" cy="60.40" r="1.6" fill="white" stroke="#2c4468" stroke-width="1.15"/>
<circle cx="79.53" cy="64.50" r="1.6" fill="white" stroke="#2c4468" stroke-width="1.15"/>
<circle cx="94.64" cy="69.50" r="1.6" fill="white" stroke="#2c4468" stroke-width="1.15"/>
<circle cx="109.75" cy="74.50" r="1.6" fill="white" stroke="#2c4468" stroke-width="1.15"/>
<circle cx="139.98" cy="85.50" r="1.6" fill="white" stroke="#2c4468" stroke-width="1.15"/>
<circle cx="170.20" cy="94.50" r="1.6" fill="white" stroke="#2c4468" stroke-width="1.15"/>
<circle cx="49.30" cy="40.50" r="1.6" fill="white" stroke="#6a2c74" stroke-width="1.15"/>
<circle cx="59.38" cy="50.50" r="1.6" fill="white" stroke="#6a2c74" stroke-width="1.15"/>
<circle cx="69.45" cy="55.50" r="1.6" fill="white" stroke="#6a2c74" stroke-width="1.15"/>
<circle cx="79.53" cy="60.50" r="1.6" fill="white" stroke="#6a2c74" stroke-width="1.15"/>
<circle cx="94.64" cy="66.50" r="1.6" fill="white" stroke="#6a2c74" stroke-width="1.15"/>
<circle cx="109.75" cy="73.50" r="1.6" fill="white" stroke="#6a2c74" stroke-width="1.15"/>
<circle cx="139.98" cy="84.50" r="1.6" fill="white" stroke="#6a2c74" stroke-width="1.15"/>
<circle cx="170.20" cy="91.50" r="1.6" fill="white" stroke="#6a2c74" stroke-width="1.15"/>
<circle cx="49.30" cy="40.50" r="1.6" fill="white" stroke="#466a5c" stroke-width="1.15"/>
<circle cx="59.38" cy="48.70" r="1.6" fill="white" stroke="#466a5c" stroke-width="1.15"/>
<circle cx="69.45" cy="56.50" r="1.6" fill="white" stroke="#466a5c" stroke-width="1.15"/>
<circle cx="79.53" cy="61.50" r="1.6" fill="white" stroke="#466a5c" stroke-width="1.15"/>
<circle cx="94.64" cy="67.50" r="1.6" fill="white" stroke="#466a5c" stroke-width="1.15"/>
<circle cx="109.75" cy="73.00" r="1.6" fill="white" stroke="#466a5c" stroke-width="1.15"/>
<circle cx="139.98" cy="84.50" r="1.6" fill="white" stroke="#466a5c" stroke-width="1.15"/>
<circle cx="170.20" cy="93.50" r="1.6" fill="white" stroke="#466a5c" stroke-width="1.15"/>
<circle cx="49.30" cy="40.50" r="1.6" fill="white" stroke="#e4b85a" stroke-width="1.15"/>
<circle cx="59.38" cy="47.50" r="1.6" fill="white" stroke="#e4b85a" stroke-width="1.15"/>
<circle cx="69.45" cy="54.50" r="1.6" fill="white" stroke="#e4b85a" stroke-width="1.15"/>
<circle cx="79.53" cy="58.50" r="1.6" fill="white" stroke="#e4b85a" stroke-width="1.15"/>
<circle cx="94.64" cy="68.50" r="1.6" fill="white" stroke="#e4b85a" stroke-width="1.15"/>
<circle cx="109.75" cy="74.50" r="1.6" fill="white" stroke="#e4b85a" stroke-width="1.15"/>
<circle cx="139.98" cy="86.50" r="1.6" fill="white" stroke="#e4b85a" stroke-width="1.15"/>
<circle cx="170.20" cy="94.50" r="1.6" fill="white" stroke="#e4b85a" stroke-width="1.15"/>
<circle cx="49.30" cy="40.50" r="1.6" fill="white" stroke="#6e4628" stroke-width="1.15"/>
<circle cx="59.38" cy="49.50" r="1.6" fill="white" stroke="#6e4628" stroke-width="1.15"/>
<circle cx="69.45" cy="54.50" r="1.6" fill="white" stroke="#6e4628" stroke-width="1.15"/>
<circle cx="79.53" cy="61.50" r="1.6" fill="white" stroke="#6e4628" stroke-width="1.15"/>
<circle cx="94.64" cy="67.50" r="1.6" fill="white" stroke="#6e4628" stroke-width="1.15"/>
<circle cx="109.75" cy="73.50" r="1.6" fill="white" stroke="#6e4628" stroke-width="1.15"/>
<circle cx="139.98" cy="85.50" r="1.6" fill="white" stroke="#6e4628" stroke-width="1.15"/>
<circle cx="170.20" cy="92.50" r="1.6" fill="white" stroke="#6e4628" stroke-width="1.15"/>
<circle cx="49.30" cy="40.50" r="1.6" fill="white" stroke="#c86a40" stroke-width="1.15"/>
<circle cx="59.38" cy="47.50" r="1.6" fill="white" stroke="#c86a40" stroke-width="1.15"/>
<circle cx="69.45" cy="52.50" r="1.6" fill="white" stroke="#c86a40" stroke-width="1.15"/>
<circle cx="79.53" cy="57.50" r="1.6" fill="white" stroke="#c86a40" stroke-width="1.15"/>
<circle cx="94.64" cy="65.50" r="1.6" fill="white" stroke="#c86a40" stroke-width="1.15"/>
<circle cx="109.75" cy="71.50" r="1.6" fill="white" stroke="#c86a40" stroke-width="1.15"/>
<circle cx="139.98" cy="82.50" r="1.6" fill="white" stroke="#c86a40" stroke-width="1.15"/>
<circle cx="170.20" cy="84.50" r="1.6" fill="white" stroke="#c86a40" stroke-width="1.15"/>
<circle cx="49.30" cy="40.50" r="1.6" fill="white" stroke="#be1a40" stroke-width="1.15"/>
<circle cx="59.38" cy="46.80" r="1.6" fill="white" stroke="#be1a40" stroke-width="1.15"/>
<circle cx="69.45" cy="51.90" r="1.6" fill="white" stroke="#be1a40" stroke-width="1.15"/>
<circle cx="79.53" cy="56.50" r="1.6" fill="white" stroke="#be1a40" stroke-width="1.15"/>
<circle cx="94.64" cy="62.50" r="1.6" fill="white" stroke="#be1a40" stroke-width="1.15"/>
<circle cx="109.75" cy="69.20" r="1.6" fill="white" stroke="#be1a40" stroke-width="1.15"/>
<circle cx="139.98" cy="78.80" r="1.6" fill="white" stroke="#be1a40" stroke-width="1.15"/>
<circle cx="170.20" cy="84.50" r="1.6" fill="white" stroke="#be1a40" stroke-width="1.15"/>
<circle cx="49.30" cy="40.50" r="1.6" fill="white" stroke="#d8306e" stroke-width="1.15"/>
<circle cx="59.38" cy="39.90" r="1.6" fill="white" stroke="#d8306e" stroke-width="1.15"/>
<circle cx="69.45" cy="48.50" r="1.6" fill="white" stroke="#d8306e" stroke-width="1.15"/>
<circle cx="79.53" cy="52.50" r="1.6" fill="white" stroke="#d8306e" stroke-width="1.15"/>
<circle cx="94.64" cy="56.00" r="1.6" fill="white" stroke="#d8306e" stroke-width="1.15"/>
<circle cx="109.75" cy="61.00" r="1.6" fill="white" stroke="#d8306e" stroke-width="1.15"/>
<circle cx="139.98" cy="72.30" r="1.6" fill="white" stroke="#d8306e" stroke-width="1.15"/>
<circle cx="170.20" cy="73.00" r="1.6" fill="white" stroke="#d8306e" stroke-width="1.15"/>
<circle cx="49.30" cy="40.50" r="1.6" fill="white" stroke="#bdb6a4" stroke-width="1.15"/>
<circle cx="59.38" cy="44.50" r="1.6" fill="white" stroke="#bdb6a4" stroke-width="1.15"/>
<circle cx="69.45" cy="46.50" r="1.6" fill="white" stroke="#bdb6a4" stroke-width="1.15"/>
<circle cx="79.53" cy="51.00" r="1.6" fill="white" stroke="#bdb6a4" stroke-width="1.15"/>
<circle cx="94.64" cy="53.50" r="1.6" fill="white" stroke="#bdb6a4" stroke-width="1.15"/>
<circle cx="109.75" cy="57.00" r="1.6" fill="white" stroke="#bdb6a4" stroke-width="1.15"/>
<circle cx="139.98" cy="63.00" r="1.6" fill="white" stroke="#bdb6a4" stroke-width="1.15"/>
<circle cx="170.20" cy="64.50" r="1.6" fill="white" stroke="#bdb6a4" stroke-width="1.15"/>
<circle cx="49.30" cy="40.50" r="1.6" fill="white" stroke="#5fae62" stroke-width="1.15"/>
<circle cx="59.38" cy="43.70" r="1.6" fill="white" stroke="#5fae62" stroke-width="1.15"/>
<circle cx="69.45" cy="45.50" r="1.6" fill="white" stroke="#5fae62" stroke-width="1.15"/>
<circle cx="79.53" cy="50.30" r="1.6" fill="white" stroke="#5fae62" stroke-width="1.15"/>
<circle cx="94.64" cy="52.50" r="1.6" fill="white" stroke="#5fae62" stroke-width="1.15"/>
<circle cx="109.75" cy="55.80" r="1.6" fill="white" stroke="#5fae62" stroke-width="1.15"/>
<circle cx="139.98" cy="62.30" r="1.6" fill="white" stroke="#5fae62" stroke-width="1.15"/>
<circle cx="170.20" cy="62.50" r="1.6" fill="white" stroke="#5fae62" stroke-width="1.15"/>
<circle cx="49.30" cy="40.50" r="1.3" fill="#3f88c0" stroke="none" stroke-width="1"/>
<circle cx="59.38" cy="56.00" r="1.3" fill="#3f88c0" stroke="none" stroke-width="1"/>
<circle cx="69.45" cy="70.50" r="1.3" fill="#3f88c0" stroke="none" stroke-width="1"/>
<circle cx="79.53" cy="85.50" r="1.3" fill="#3f88c0" stroke="none" stroke-width="1"/>
<circle cx="94.64" cy="96.50" r="1.3" fill="#3f88c0" stroke="none" stroke-width="1"/>
<circle cx="109.75" cy="106.50" r="1.3" fill="#3f88c0" stroke="none" stroke-width="1"/>
<circle cx="139.98" cy="121.00" r="1.3" fill="#3f88c0" stroke="none" stroke-width="1"/>
<circle cx="170.20" cy="126.50" r="1.3" fill="#3f88c0" stroke="none" stroke-width="1"/>
<circle cx="49.30" cy="40.50" r="1.7" fill="#3a9a5c" stroke="#3a9a5c" stroke-width="0.9"/>
<line x1="179.50" y1="29.60" x2="187.30" y2="29.60" stroke="#5fae62" stroke-width="1.0" opacity="0.75"/>
<circle cx="183.40" cy="29.60" r="1.45" fill="white" stroke="#5fae62" stroke-width="1.0"/>
<text x="190.80" y="32.28" font-size="7.8" fill="#262626" stroke="#262626" stroke-width="0.15" textLength="17.17" lengthAdjust="spacingAndGlyphs">N31F</text>
<line x1="179.50" y1="38.88" x2="187.30" y2="38.88" stroke="#d8306e" stroke-width="1.0" opacity="0.75"/>
<circle cx="183.40" cy="38.88" r="1.45" fill="white" stroke="#d8306e" stroke-width="1.0"/>
<text x="190.80" y="41.56" font-size="7.8" fill="#262626" stroke="#262626" stroke-width="0.15" textLength="17.94" lengthAdjust="spacingAndGlyphs">M34F</text>
<line x1="179.50" y1="48.16" x2="187.30" y2="48.16" stroke="#bdb6a4" stroke-width="1.0" opacity="0.75"/>
<circle cx="183.40" cy="48.16" r="1.45" fill="white" stroke="#bdb6a4" stroke-width="1.0"/>
<text x="190.80" y="50.84" font-size="7.8" fill="#262626" stroke="#262626" stroke-width="0.15" textLength="17.56" lengthAdjust="spacingAndGlyphs">N31P</text>
<line x1="179.50" y1="57.44" x2="187.30" y2="57.44" stroke="#be1a40" stroke-width="1.0" opacity="0.75"/>
<circle cx="183.40" cy="57.44" r="1.45" fill="white" stroke="#be1a40" stroke-width="1.0"/>
<text x="190.80" y="60.12" font-size="7.8" fill="#262626" stroke="#262626" stroke-width="0.15" textLength="14.83" lengthAdjust="spacingAndGlyphs">N31I</text>
<line x1="179.50" y1="66.72" x2="187.30" y2="66.72" stroke="#466a5c" stroke-width="1.0" opacity="0.75"/>
<circle cx="183.40" cy="66.72" r="1.45" fill="white" stroke="#466a5c" stroke-width="1.0"/>
<text x="190.80" y="69.40" font-size="7.8" fill="#262626" stroke="#262626" stroke-width="0.15" textLength="21.85" lengthAdjust="spacingAndGlyphs">F103M</text>
<line x1="179.50" y1="76.00" x2="187.30" y2="76.00" stroke="#2c4468" stroke-width="1.0" opacity="0.75"/>
<circle cx="183.40" cy="76.00" r="1.45" fill="white" stroke="#2c4468" stroke-width="1.0"/>
<text x="190.80" y="78.68" font-size="7.8" fill="#262626" stroke="#262626" stroke-width="0.15" textLength="17.56" lengthAdjust="spacingAndGlyphs">S54R</text>
<line x1="179.50" y1="85.28" x2="187.30" y2="85.28" stroke="#c86a40" stroke-width="1.0" opacity="0.75"/>
<circle cx="183.40" cy="85.28" r="1.45" fill="white" stroke="#c86a40" stroke-width="1.0"/>
<text x="190.80" y="87.96" font-size="7.8" fill="#262626" stroke="#262626" stroke-width="0.15" textLength="16.78" lengthAdjust="spacingAndGlyphs">T57P</text>
<line x1="179.50" y1="94.56" x2="187.30" y2="94.56" stroke="#6a2c74" stroke-width="1.0" opacity="0.75"/>
<circle cx="183.40" cy="94.56" r="1.45" fill="white" stroke="#6a2c74" stroke-width="1.0"/>
<text x="190.80" y="97.24" font-size="7.8" fill="#262626" stroke="#262626" stroke-width="0.15" textLength="17.56" lengthAdjust="spacingAndGlyphs">S56R</text>
<line x1="179.50" y1="103.84" x2="187.30" y2="103.84" stroke="#e4b85a" stroke-width="1.0" opacity="0.75"/>
<circle cx="183.40" cy="103.84" r="1.45" fill="white" stroke="#e4b85a" stroke-width="1.0"/>
<text x="190.80" y="106.52" font-size="7.8" fill="#262626" stroke="#262626" stroke-width="0.15" textLength="16.78" lengthAdjust="spacingAndGlyphs">Y32F</text>
<line x1="179.50" y1="113.12" x2="187.30" y2="113.12" stroke="#6e4628" stroke-width="1.0" opacity="0.75"/>
<circle cx="183.40" cy="113.12" r="1.45" fill="white" stroke="#6e4628" stroke-width="1.0"/>
<text x="190.80" y="115.80" font-size="7.8" fill="#262626" stroke="#262626" stroke-width="0.15" textLength="16.78" lengthAdjust="spacingAndGlyphs">S53T</text>
<line x1="179.50" y1="122.40" x2="187.30" y2="122.40" stroke="#62aadc" stroke-width="1.0" opacity="0.75"/>
<circle cx="183.40" cy="122.40" r="1.45" fill="white" stroke="#62aadc" stroke-width="1.0"/>
<text x="190.80" y="125.08" font-size="7.8" fill="#262626" stroke="#262626" stroke-width="0.15" textLength="61.49" lengthAdjust="spacingAndGlyphs">TPP-26870 Parental</text>
<line x1="179.50" y1="131.68" x2="187.30" y2="131.68" stroke="#3f88c0" stroke-width="1.0" opacity="0.75"/>
<circle cx="183.40" cy="131.68" r="1.2" fill="#3f88c0" stroke="none" stroke-width="1"/>
<text x="190.80" y="134.36" font-size="7.8" fill="#262626" stroke="#262626" stroke-width="0.15" textLength="53.93" lengthAdjust="spacingAndGlyphs">No Ab - APC Only</text>
<text x="317.00" y="16.3" font-size="8.95" fill="#262626">V<tspan font-size="6.6" dy="1.5">L</tspan><tspan dy="-1.5"> Amino Acid Substitution</tspan></text>
<line x1="307.30" y1="21.00" x2="307.30" y2="141.00" stroke="#262626" stroke-width="1.1"/>
<line x1="306.80" y1="140.50" x2="429.71" y2="140.50" stroke="#262626" stroke-width="1.1"/>
<line x1="304.30" y1="140.50" x2="307.30" y2="140.50" stroke="#262626" stroke-width="0.9"/>
<text x="301.00" y="143.05" font-size="7.4" fill="#262626" stroke="#262626" stroke-width="0.15" text-anchor="end">0</text>
<line x1="304.30" y1="120.50" x2="307.30" y2="120.50" stroke="#262626" stroke-width="0.9"/>
<text x="301.00" y="123.05" font-size="7.4" fill="#262626" stroke="#262626" stroke-width="0.15" text-anchor="end">20</text>
<line x1="304.30" y1="100.50" x2="307.30" y2="100.50" stroke="#262626" stroke-width="0.9"/>
<text x="301.00" y="103.05" font-size="7.4" fill="#262626" stroke="#262626" stroke-width="0.15" text-anchor="end">40</text>
<line x1="304.30" y1="80.50" x2="307.30" y2="80.50" stroke="#262626" stroke-width="0.9"/>
<text x="301.00" y="83.05" font-size="7.4" fill="#262626" stroke="#262626" stroke-width="0.15" text-anchor="end">60</text>
<line x1="304.30" y1="60.50" x2="307.30" y2="60.50" stroke="#262626" stroke-width="0.9"/>
<text x="301.00" y="63.05" font-size="7.4" fill="#262626" stroke="#262626" stroke-width="0.15" text-anchor="end">80</text>
<line x1="304.30" y1="40.50" x2="307.30" y2="40.50" stroke="#262626" stroke-width="0.9"/>
<text x="301.00" y="43.05" font-size="7.4" fill="#262626" stroke="#262626" stroke-width="0.15" text-anchor="end">100</text>
<line x1="307.30" y1="140.50" x2="307.30" y2="143.00" stroke="#262626" stroke-width="0.9"/>
<text x="307.30" y="152.75" font-size="7.4" fill="#262626" stroke="#262626" stroke-width="0.15" text-anchor="middle">0</text>
<line x1="337.53" y1="140.50" x2="337.53" y2="143.00" stroke="#262626" stroke-width="0.9"/>
<text x="337.53" y="152.75" font-size="7.4" fill="#262626" stroke="#262626" stroke-width="0.15" text-anchor="middle">30</text>
<line x1="367.75" y1="140.50" x2="367.75" y2="143.00" stroke="#262626" stroke-width="0.9"/>
<text x="367.75" y="152.75" font-size="7.4" fill="#262626" stroke="#262626" stroke-width="0.15" text-anchor="middle">60</text>
<line x1="397.98" y1="140.50" x2="397.98" y2="143.00" stroke="#262626" stroke-width="0.9"/>
<text x="397.98" y="152.75" font-size="7.4" fill="#262626" stroke="#262626" stroke-width="0.15" text-anchor="middle">90</text>
<line x1="428.20" y1="140.50" x2="428.20" y2="143.00" stroke="#262626" stroke-width="0.9"/>
<text x="428.20" y="152.75" font-size="7.4" fill="#262626" stroke="#262626" stroke-width="0.15" text-anchor="middle">120</text>
<line x1="322.41" y1="140.50" x2="322.41" y2="142.00" stroke="#262626" stroke-width="0.7"/>
<line x1="352.64" y1="140.50" x2="352.64" y2="142.00" stroke="#262626" stroke-width="0.7"/>
<line x1="382.86" y1="140.50" x2="382.86" y2="142.00" stroke="#262626" stroke-width="0.7"/>
<line x1="413.09" y1="140.50" x2="413.09" y2="142.00" stroke="#262626" stroke-width="0.7"/>
<text x="369.30" y="164.86" font-size="8.3" fill="#262626" font-weight="bold" text-anchor="middle" textLength="31" lengthAdjust="spacingAndGlyphs">Time (min)</text>
<text transform="translate(279.50,90.70) rotate(-90)" x="0" y="2.68" font-size="7.8" fill="#262626" font-weight="bold" text-anchor="middle" textLength="45.5" lengthAdjust="spacingAndGlyphs">APC activity (%)</text>
<path d="M307.30,40.50 L309.31,41.79 L311.33,43.07 L313.35,44.32 L315.36,45.57 L317.38,46.79 L319.39,48.00 L321.41,49.20 L323.42,50.38 L325.44,51.54 L327.45,52.69 L329.47,53.82 L331.48,54.94 L333.50,56.05 L335.51,57.14 L337.53,58.22 L339.54,59.28 L341.56,60.33 L343.57,61.36 L345.59,62.39 L347.60,63.39 L349.62,64.39 L351.63,65.37 L353.65,66.34 L355.66,67.30 L357.68,68.25 L359.69,69.18 L361.71,70.10 L363.72,71.01 L365.74,71.91 L367.75,72.79 L369.76,73.67 L371.78,74.53 L373.80,75.38 L375.81,76.23 L377.83,77.06 L379.84,77.87 L381.86,78.68 L383.87,79.48 L385.88,80.27 L387.90,81.05 L389.92,81.82 L391.93,82.57 L393.95,83.32 L395.96,84.06 L397.98,84.79 L399.99,85.51 L402.00,86.22 L404.02,86.92 L406.04,87.61 L408.05,88.30 L410.06,88.97 L412.08,89.64 L414.10,90.29 L416.11,90.94 L418.12,91.58 L420.14,92.21 L422.16,92.84 L424.17,93.45 L426.19,94.06 L428.20,94.66" stroke="#90caee" stroke-width="1.1" fill="none"/>
<path d="M307.30,40.50 L309.31,41.53 L311.33,42.56 L313.35,43.57 L315.36,44.57 L317.38,45.57 L319.39,46.55 L321.41,47.52 L323.42,48.48 L325.44,49.44 L327.45,50.38 L329.47,51.31 L331.48,52.23 L333.50,53.15 L335.51,54.05 L337.53,54.94 L339.54,55.83 L341.56,56.71 L343.57,57.57 L345.59,58.43 L347.60,59.28 L349.62,60.12 L351.63,60.95 L353.65,61.77 L355.66,62.59 L357.68,63.39 L359.69,64.19 L361.71,64.98 L363.72,65.76 L365.74,66.54 L367.75,67.30 L369.76,68.06 L371.78,68.81 L373.80,69.55 L375.81,70.28 L377.83,71.01 L379.84,71.73 L381.86,72.44 L383.87,73.15 L385.88,73.84 L387.90,74.53 L389.92,75.21 L391.93,75.89 L393.95,76.56 L395.96,77.22 L397.98,77.87 L399.99,78.52 L402.00,79.16 L404.02,79.80 L406.04,80.43 L408.05,81.05 L410.06,81.66 L412.08,82.27 L414.10,82.87 L416.11,83.47 L418.12,84.06 L420.14,84.64 L422.16,85.22 L424.17,85.79 L426.19,86.36 L428.20,86.92" stroke="#eed468" stroke-width="1.1" fill="none"/>
<path d="M307.30,45.90 L309.31,47.05 L311.33,48.18 L313.35,49.30 L315.36,50.41 L317.38,51.50 L319.39,52.58 L321.41,53.64 L323.42,54.70 L325.44,55.74 L327.45,56.76 L329.47,57.78 L331.48,58.78 L333.50,59.77 L335.51,60.75 L337.53,61.72 L339.54,62.68 L341.56,63.62 L343.57,64.55 L345.59,65.47 L347.60,66.38 L349.62,67.28 L351.63,68.17 L353.65,69.05 L355.66,69.91 L357.68,70.77 L359.69,71.61 L361.71,72.45 L363.72,73.27 L365.74,74.09 L367.75,74.89 L369.76,75.69 L371.78,76.48 L373.80,77.25 L375.81,78.02 L377.83,78.78 L379.84,79.53 L381.86,80.26 L383.87,81.00 L385.88,81.72 L387.90,82.43 L389.92,83.13 L391.93,83.83 L393.95,84.52 L395.96,85.20 L397.98,85.87 L399.99,86.53 L402.00,87.18 L404.02,87.83 L406.04,88.47 L408.05,89.10 L410.06,89.72 L412.08,90.34 L414.10,90.95 L416.11,91.55 L418.12,92.14 L420.14,92.73 L422.16,93.31 L424.17,93.88 L426.19,94.44 L428.20,95.00" stroke="#e48c74" stroke-width="1.1" fill="none"/>
<path d="M307.30,40.50 L309.31,41.50 L311.33,42.48 L313.35,43.46 L315.36,44.42 L317.38,45.38 L319.39,46.32 L321.41,47.26 L323.42,48.19 L325.44,49.11 L327.45,50.02 L329.47,50.92 L331.48,51.81 L333.50,52.69 L335.51,53.56 L337.53,54.43 L339.54,55.29 L341.56,56.13 L343.57,56.97 L345.59,57.80 L347.60,58.63 L349.62,59.44 L351.63,60.25 L353.65,61.05 L355.66,61.84 L357.68,62.62 L359.69,63.39 L361.71,64.16 L363.72,64.92 L365.74,65.67 L367.75,66.42 L369.76,67.16 L371.78,67.89 L373.80,68.61 L375.81,69.32 L377.83,70.03 L379.84,70.73 L381.86,71.43 L383.87,72.11 L385.88,72.79 L387.90,73.47 L389.92,74.13 L391.93,74.80 L393.95,75.45 L395.96,76.10 L397.98,76.74 L399.99,77.37 L402.00,78.00 L404.02,78.62 L406.04,79.24 L408.05,79.85 L410.06,80.45 L412.08,81.05 L414.10,81.64 L416.11,82.23 L418.12,82.81 L420.14,83.38 L422.16,83.95 L424.17,84.51 L426.19,85.07 L428.20,85.62" stroke="#aaaad4" stroke-width="1.1" fill="none"/>
<path d="M307.30,40.50 L309.31,41.40 L311.33,42.30 L313.35,43.19 L315.36,44.07 L317.38,44.94 L319.39,45.80 L321.41,46.66 L323.42,47.51 L325.44,48.35 L327.45,49.18 L329.47,50.01 L331.48,50.82 L333.50,51.63 L335.51,52.44 L337.53,53.23 L339.54,54.02 L341.56,54.80 L343.57,55.58 L345.59,56.35 L347.60,57.11 L349.62,57.86 L351.63,58.61 L353.65,59.35 L355.66,60.08 L357.68,60.81 L359.69,61.53 L361.71,62.24 L363.72,62.95 L365.74,63.65 L367.75,64.35 L369.76,65.03 L371.78,65.72 L373.80,66.39 L375.81,67.06 L377.83,67.73 L379.84,68.38 L381.86,69.03 L383.87,69.68 L385.88,70.32 L387.90,70.96 L389.92,71.58 L391.93,72.21 L393.95,72.82 L395.96,73.44 L397.98,74.04 L399.99,74.64 L402.00,75.24 L404.02,75.83 L406.04,76.41 L408.05,76.99 L410.06,77.57 L412.08,78.13 L414.10,78.70 L416.11,79.26 L418.12,79.81 L420.14,80.36 L422.16,80.90 L424.17,81.44 L426.19,81.98 L428.20,82.50" stroke="#c8c8b0" stroke-width="1.1" fill="none"/>
<path d="M307.30,38.10 L309.31,39.20 L311.33,40.29 L313.35,41.36 L315.36,42.43 L317.38,43.48 L319.39,44.53 L321.41,45.56 L323.42,46.58 L325.44,47.58 L327.45,48.58 L329.47,49.57 L331.48,50.55 L333.50,51.51 L335.51,52.47 L337.53,53.41 L339.54,54.35 L341.56,55.28 L343.57,56.19 L345.59,57.10 L347.60,57.99 L349.62,58.88 L351.63,59.76 L353.65,60.62 L355.66,61.48 L357.68,62.33 L359.69,63.17 L361.71,64.00 L363.72,64.82 L365.74,65.63 L367.75,66.44 L369.76,67.23 L371.78,68.02 L373.80,68.80 L375.81,69.57 L377.83,70.33 L379.84,71.09 L381.86,71.83 L383.87,72.57 L385.88,73.30 L387.90,74.02 L389.92,74.74 L391.93,75.44 L393.95,76.14 L395.96,76.83 L397.98,77.52 L399.99,78.19 L402.00,78.86 L404.02,79.52 L406.04,80.18 L408.05,80.83 L410.06,81.47 L412.08,82.10 L414.10,82.73 L416.11,83.35 L418.12,83.96 L420.14,84.57 L422.16,85.17 L424.17,85.77 L426.19,86.35 L428.20,86.94" stroke="#c44a62" stroke-width="1.1" fill="none"/>
<path d="M307.30,40.50 L309.31,41.46 L311.33,42.40 L313.35,43.34 L315.36,44.27 L317.38,45.19 L319.39,46.10 L321.41,47.00 L323.42,47.89 L325.44,48.78 L327.45,49.65 L329.47,50.52 L331.48,51.38 L333.50,52.23 L335.51,53.08 L337.53,53.91 L339.54,54.74 L341.56,55.56 L343.57,56.37 L345.59,57.17 L347.60,57.97 L349.62,58.76 L351.63,59.54 L353.65,60.31 L355.66,61.08 L357.68,61.84 L359.69,62.59 L361.71,63.33 L363.72,64.07 L365.74,64.80 L367.75,65.52 L369.76,66.24 L371.78,66.95 L373.80,67.65 L375.81,68.35 L377.83,69.04 L379.84,69.72 L381.86,70.40 L383.87,71.07 L385.88,71.73 L387.90,72.39 L389.92,73.04 L391.93,73.68 L393.95,74.32 L395.96,74.95 L397.98,75.58 L399.99,76.20 L402.00,76.81 L404.02,77.42 L406.04,78.02 L408.05,78.62 L410.06,79.21 L412.08,79.80 L414.10,80.38 L416.11,80.95 L418.12,81.52 L420.14,82.09 L422.16,82.64 L424.17,83.20 L426.19,83.74 L428.20,84.29" stroke="#857060" stroke-width="1.1" fill="none"/>
<path d="M307.30,41.80 L309.31,42.66 L311.33,43.52 L313.35,44.37 L315.36,45.21 L317.38,46.05 L319.39,46.88 L321.41,47.70 L323.42,48.51 L325.44,49.32 L327.45,50.11 L329.47,50.91 L331.48,51.69 L333.50,52.47 L335.51,53.24 L337.53,54.01 L339.54,54.76 L341.56,55.51 L343.57,56.26 L345.59,57.00 L347.60,57.73 L349.62,58.45 L351.63,59.17 L353.65,59.88 L355.66,60.59 L357.68,61.29 L359.69,61.99 L361.71,62.67 L363.72,63.36 L365.74,64.03 L367.75,64.70 L369.76,65.37 L371.78,66.02 L373.80,66.68 L375.81,67.32 L377.83,67.96 L379.84,68.60 L381.86,69.23 L383.87,69.85 L385.88,70.47 L387.90,71.09 L389.92,71.69 L391.93,72.30 L393.95,72.89 L395.96,73.49 L397.98,74.07 L399.99,74.66 L402.00,75.23 L404.02,75.80 L406.04,76.37 L408.05,76.93 L410.06,77.49 L412.08,78.04 L414.10,78.59 L416.11,79.13 L418.12,79.67 L420.14,80.20 L422.16,80.73 L424.17,81.25 L426.19,81.77 L428.20,82.29" stroke="#6aa86e" stroke-width="1.1" fill="none"/>
<path d="M307.30,40.50 L309.31,41.79 L311.33,43.07 L313.35,44.32 L315.36,45.57 L317.38,46.79 L319.39,48.00 L321.41,49.20 L323.42,50.38 L325.44,51.54 L327.45,52.69 L329.47,53.82 L331.48,54.94 L333.50,56.05 L335.51,57.14 L337.53,58.22 L339.54,59.28 L341.56,60.33 L343.57,61.36 L345.59,62.39 L347.60,63.39 L349.62,64.39 L351.63,65.37 L353.65,66.34 L355.66,67.30 L357.68,68.25 L359.69,69.18 L361.71,70.10 L363.72,71.01 L365.74,71.91 L367.75,72.79 L369.76,73.67 L371.78,74.53 L373.80,75.38 L375.81,76.23 L377.83,77.06 L379.84,77.87 L381.86,78.68 L383.87,79.48 L385.88,80.27 L387.90,81.05 L389.92,81.82 L391.93,82.57 L393.95,83.32 L395.96,84.06 L397.98,84.79 L399.99,85.51 L402.00,86.22 L404.02,86.92 L406.04,87.61 L408.05,88.30 L410.06,88.97 L412.08,89.64 L414.10,90.29 L416.11,90.94 L418.12,91.58 L420.14,92.21 L422.16,92.84 L424.17,93.45 L426.19,94.06 L428.20,94.66" stroke="#6a5a90" stroke-width="1.1" fill="none"/>
<path d="M307.30,43.90 L309.31,45.41 L311.33,46.90 L313.35,48.37 L315.36,49.82 L317.38,51.24 L319.39,52.64 L321.41,54.01 L323.42,55.37 L325.44,56.70 L327.45,58.02 L329.47,59.31 L331.48,60.58 L333.50,61.84 L335.51,63.07 L337.53,64.28 L339.54,65.48 L341.56,66.65 L343.57,67.81 L345.59,68.95 L347.60,70.07 L349.62,71.18 L351.63,72.26 L353.65,73.33 L355.66,74.39 L357.68,75.42 L359.69,76.44 L361.71,77.45 L363.72,78.44 L365.74,79.41 L367.75,80.37 L369.76,81.31 L371.78,82.24 L373.80,83.15 L375.81,84.05 L377.83,84.93 L379.84,85.80 L381.86,86.66 L383.87,87.51 L385.88,88.34 L387.90,89.15 L389.92,89.96 L391.93,90.75 L393.95,91.53 L395.96,92.30 L397.98,93.05 L399.99,93.80 L402.00,94.53 L404.02,95.25 L406.04,95.96 L408.05,96.66 L410.06,97.35 L412.08,98.02 L414.10,98.69 L416.11,99.34 L418.12,99.99 L420.14,100.62 L422.16,101.25 L424.17,101.86 L426.19,102.47 L428.20,103.07" stroke="#e04a64" stroke-width="1.1" fill="none"/>
<path d="M307.30,45.00 L309.31,45.69 L311.33,46.37 L313.35,47.04 L315.36,47.71 L317.38,48.38 L319.39,49.04 L321.41,49.69 L323.42,50.35 L325.44,50.99 L327.45,51.63 L329.47,52.27 L331.48,52.90 L333.50,53.53 L335.51,54.16 L337.53,54.78 L339.54,55.39 L341.56,56.00 L343.57,56.61 L345.59,57.21 L347.60,57.81 L349.62,58.40 L351.63,58.99 L353.65,59.57 L355.66,60.16 L357.68,60.73 L359.69,61.30 L361.71,61.87 L363.72,62.44 L365.74,63.00 L367.75,63.55 L369.76,64.10 L371.78,64.65 L373.80,65.20 L375.81,65.74 L377.83,66.27 L379.84,66.81 L381.86,67.33 L383.87,67.86 L385.88,68.38 L387.90,68.90 L389.92,69.41 L391.93,69.92 L393.95,70.43 L395.96,70.93 L397.98,71.43 L399.99,71.93 L402.00,72.42 L404.02,72.91 L406.04,73.39 L408.05,73.87 L410.06,74.35 L412.08,74.82 L414.10,75.30 L416.11,75.76 L418.12,76.23 L420.14,76.69 L422.16,77.15 L424.17,77.60 L426.19,78.05 L428.20,78.50" stroke="#4a6a8c" stroke-width="1.1" fill="none"/>
<path d="M307.30,36.50 L309.31,37.22 L311.33,37.93 L313.35,38.63 L315.36,39.33 L317.38,40.03 L319.39,40.72 L321.41,41.40 L323.42,42.09 L325.44,42.76 L327.45,43.43 L329.47,44.10 L331.48,44.76 L333.50,45.42 L335.51,46.08 L337.53,46.73 L339.54,47.37 L341.56,48.01 L343.57,48.65 L345.59,49.28 L347.60,49.91 L349.62,50.53 L351.63,51.15 L353.65,51.76 L355.66,52.37 L357.68,52.98 L359.69,53.58 L361.71,54.18 L363.72,54.77 L365.74,55.36 L367.75,55.95 L369.76,56.53 L371.78,57.10 L373.80,57.68 L375.81,58.25 L377.83,58.81 L379.84,59.38 L381.86,59.93 L383.87,60.49 L385.88,61.04 L387.90,61.58 L389.92,62.13 L391.93,62.67 L393.95,63.20 L395.96,63.73 L397.98,64.26 L399.99,64.78 L402.00,65.30 L404.02,65.82 L406.04,66.34 L408.05,66.85 L410.06,67.35 L412.08,67.85 L414.10,68.35 L416.11,68.85 L418.12,69.34 L420.14,69.83 L422.16,70.32 L424.17,70.80 L426.19,71.28 L428.20,71.76" stroke="#f2b46c" stroke-width="1.1" fill="none"/>
<path d="M307.30,40.50 L309.31,44.53 L311.33,48.38 L313.35,52.07 L315.36,55.59 L317.38,58.96 L319.39,62.18 L321.41,65.27 L323.42,68.21 L325.44,71.03 L327.45,73.72 L329.47,76.30 L331.48,78.76 L333.50,81.11 L335.51,83.36 L337.53,85.52 L339.54,87.58 L341.56,89.54 L343.57,91.43 L345.59,93.22 L347.60,94.95 L349.62,96.59 L351.63,98.16 L353.65,99.67 L355.66,101.11 L357.68,102.48 L359.69,103.80 L361.71,105.05 L363.72,106.26 L365.74,107.41 L367.75,108.51 L369.76,109.56 L371.78,110.56 L373.80,111.52 L375.81,112.44 L377.83,113.32 L379.84,114.16 L381.86,114.97 L383.87,115.73 L385.88,116.47 L387.90,117.17 L389.92,117.84 L391.93,118.48 L393.95,119.10 L395.96,119.69 L397.98,120.25 L399.99,120.78 L402.00,121.30 L404.02,121.79 L406.04,122.26 L408.05,122.71 L410.06,123.13 L412.08,123.55 L414.10,123.94 L416.11,124.31 L418.12,124.67 L420.14,125.01 L422.16,125.34 L424.17,125.66 L426.19,125.96 L428.20,126.24" stroke="#86c8ec" stroke-width="1.1" fill="none"/>
<line x1="312.34" y1="42.50" x2="312.34" y2="45.50" stroke="#64b4e6" stroke-width="0.6" opacity="0.8"/>
<line x1="311.14" y1="42.50" x2="313.54" y2="42.50" stroke="#64b4e6" stroke-width="0.6" opacity="0.8"/>
<line x1="311.14" y1="45.50" x2="313.54" y2="45.50" stroke="#64b4e6" stroke-width="0.6" opacity="0.8"/>
<line x1="322.41" y1="51.30" x2="322.41" y2="55.30" stroke="#64b4e6" stroke-width="0.6" opacity="0.8"/>
<line x1="321.21" y1="51.30" x2="323.61" y2="51.30" stroke="#64b4e6" stroke-width="0.6" opacity="0.8"/>
<line x1="321.21" y1="55.30" x2="323.61" y2="55.30" stroke="#64b4e6" stroke-width="0.6" opacity="0.8"/>
<line x1="337.53" y1="55.50" x2="337.53" y2="61.50" stroke="#64b4e6" stroke-width="0.6" opacity="0.8"/>
<line x1="336.33" y1="55.50" x2="338.73" y2="55.50" stroke="#64b4e6" stroke-width="0.6" opacity="0.8"/>
<line x1="336.33" y1="61.50" x2="338.73" y2="61.50" stroke="#64b4e6" stroke-width="0.6" opacity="0.8"/>
<line x1="352.64" y1="63.50" x2="352.64" y2="69.50" stroke="#64b4e6" stroke-width="0.6" opacity="0.8"/>
<line x1="351.44" y1="63.50" x2="353.84" y2="63.50" stroke="#64b4e6" stroke-width="0.6" opacity="0.8"/>
<line x1="351.44" y1="69.50" x2="353.84" y2="69.50" stroke="#64b4e6" stroke-width="0.6" opacity="0.8"/>
<line x1="367.75" y1="70.50" x2="367.75" y2="76.50" stroke="#64b4e6" stroke-width="0.6" opacity="0.8"/>
<line x1="366.55" y1="70.50" x2="368.95" y2="70.50" stroke="#64b4e6" stroke-width="0.6" opacity="0.8"/>
<line x1="366.55" y1="76.50" x2="368.95" y2="76.50" stroke="#64b4e6" stroke-width="0.6" opacity="0.8"/>
<line x1="397.98" y1="82.50" x2="397.98" y2="88.50" stroke="#64b4e6" stroke-width="0.6" opacity="0.8"/>
<line x1="396.78" y1="82.50" x2="399.18" y2="82.50" stroke="#64b4e6" stroke-width="0.6" opacity="0.8"/>
<line x1="396.78" y1="88.50" x2="399.18" y2="88.50" stroke="#64b4e6" stroke-width="0.6" opacity="0.8"/>
<line x1="428.20" y1="91.50" x2="428.20" y2="97.50" stroke="#64b4e6" stroke-width="0.6" opacity="0.8"/>
<line x1="427.00" y1="91.50" x2="429.40" y2="91.50" stroke="#64b4e6" stroke-width="0.6" opacity="0.8"/>
<line x1="427.00" y1="97.50" x2="429.40" y2="97.50" stroke="#64b4e6" stroke-width="0.6" opacity="0.8"/>
<line x1="317.38" y1="38.50" x2="317.38" y2="44.50" stroke="#eccc40" stroke-width="0.6" opacity="0.8"/>
<line x1="316.18" y1="38.50" x2="318.57" y2="38.50" stroke="#eccc40" stroke-width="0.6" opacity="0.8"/>
<line x1="316.18" y1="44.50" x2="318.57" y2="44.50" stroke="#eccc40" stroke-width="0.6" opacity="0.8"/>
<line x1="327.45" y1="46.50" x2="327.45" y2="52.50" stroke="#eccc40" stroke-width="0.6" opacity="0.8"/>
<line x1="326.25" y1="46.50" x2="328.65" y2="46.50" stroke="#eccc40" stroke-width="0.6" opacity="0.8"/>
<line x1="326.25" y1="52.50" x2="328.65" y2="52.50" stroke="#eccc40" stroke-width="0.6" opacity="0.8"/>
<line x1="337.53" y1="53.50" x2="337.53" y2="59.50" stroke="#eccc40" stroke-width="0.6" opacity="0.8"/>
<line x1="336.33" y1="53.50" x2="338.73" y2="53.50" stroke="#eccc40" stroke-width="0.6" opacity="0.8"/>
<line x1="336.33" y1="59.50" x2="338.73" y2="59.50" stroke="#eccc40" stroke-width="0.6" opacity="0.8"/>
<line x1="352.64" y1="60.50" x2="352.64" y2="66.50" stroke="#eccc40" stroke-width="0.6" opacity="0.8"/>
<line x1="351.44" y1="60.50" x2="353.84" y2="60.50" stroke="#eccc40" stroke-width="0.6" opacity="0.8"/>
<line x1="351.44" y1="66.50" x2="353.84" y2="66.50" stroke="#eccc40" stroke-width="0.6" opacity="0.8"/>
<line x1="367.75" y1="65.50" x2="367.75" y2="71.50" stroke="#eccc40" stroke-width="0.6" opacity="0.8"/>
<line x1="366.55" y1="65.50" x2="368.95" y2="65.50" stroke="#eccc40" stroke-width="0.6" opacity="0.8"/>
<line x1="366.55" y1="71.50" x2="368.95" y2="71.50" stroke="#eccc40" stroke-width="0.6" opacity="0.8"/>
<line x1="397.98" y1="79.50" x2="397.98" y2="85.50" stroke="#eccc40" stroke-width="0.6" opacity="0.8"/>
<line x1="396.78" y1="79.50" x2="399.18" y2="79.50" stroke="#eccc40" stroke-width="0.6" opacity="0.8"/>
<line x1="396.78" y1="85.50" x2="399.18" y2="85.50" stroke="#eccc40" stroke-width="0.6" opacity="0.8"/>
<line x1="428.20" y1="87.50" x2="428.20" y2="93.50" stroke="#eccc40" stroke-width="0.6" opacity="0.8"/>
<line x1="427.00" y1="87.50" x2="429.40" y2="87.50" stroke="#eccc40" stroke-width="0.6" opacity="0.8"/>
<line x1="427.00" y1="93.50" x2="429.40" y2="93.50" stroke="#eccc40" stroke-width="0.6" opacity="0.8"/>
<line x1="317.38" y1="48.60" x2="317.38" y2="54.60" stroke="#de6a4c" stroke-width="0.6" opacity="0.8"/>
<line x1="316.18" y1="48.60" x2="318.57" y2="48.60" stroke="#de6a4c" stroke-width="0.6" opacity="0.8"/>
<line x1="316.18" y1="54.60" x2="318.57" y2="54.60" stroke="#de6a4c" stroke-width="0.6" opacity="0.8"/>
<line x1="327.45" y1="59.70" x2="327.45" y2="65.70" stroke="#de6a4c" stroke-width="0.6" opacity="0.8"/>
<line x1="326.25" y1="59.70" x2="328.65" y2="59.70" stroke="#de6a4c" stroke-width="0.6" opacity="0.8"/>
<line x1="326.25" y1="65.70" x2="328.65" y2="65.70" stroke="#de6a4c" stroke-width="0.6" opacity="0.8"/>
<line x1="337.53" y1="64.80" x2="337.53" y2="70.80" stroke="#de6a4c" stroke-width="0.6" opacity="0.8"/>
<line x1="336.33" y1="64.80" x2="338.73" y2="64.80" stroke="#de6a4c" stroke-width="0.6" opacity="0.8"/>
<line x1="336.33" y1="70.80" x2="338.73" y2="70.80" stroke="#de6a4c" stroke-width="0.6" opacity="0.8"/>
<line x1="352.64" y1="71.50" x2="352.64" y2="77.50" stroke="#de6a4c" stroke-width="0.6" opacity="0.8"/>
<line x1="351.44" y1="71.50" x2="353.84" y2="71.50" stroke="#de6a4c" stroke-width="0.6" opacity="0.8"/>
<line x1="351.44" y1="77.50" x2="353.84" y2="77.50" stroke="#de6a4c" stroke-width="0.6" opacity="0.8"/>
<line x1="367.75" y1="69.70" x2="367.75" y2="75.70" stroke="#de6a4c" stroke-width="0.6" opacity="0.8"/>
<line x1="366.55" y1="69.70" x2="368.95" y2="69.70" stroke="#de6a4c" stroke-width="0.6" opacity="0.8"/>
<line x1="366.55" y1="75.70" x2="368.95" y2="75.70" stroke="#de6a4c" stroke-width="0.6" opacity="0.8"/>
<line x1="397.98" y1="83.70" x2="397.98" y2="89.70" stroke="#de6a4c" stroke-width="0.6" opacity="0.8"/>
<line x1="396.78" y1="83.70" x2="399.18" y2="83.70" stroke="#de6a4c" stroke-width="0.6" opacity="0.8"/>
<line x1="396.78" y1="89.70" x2="399.18" y2="89.70" stroke="#de6a4c" stroke-width="0.6" opacity="0.8"/>
<line x1="428.20" y1="89.30" x2="428.20" y2="95.30" stroke="#de6a4c" stroke-width="0.6" opacity="0.8"/>
<line x1="427.00" y1="89.30" x2="429.40" y2="89.30" stroke="#de6a4c" stroke-width="0.6" opacity="0.8"/>
<line x1="427.00" y1="95.30" x2="429.40" y2="95.30" stroke="#de6a4c" stroke-width="0.6" opacity="0.8"/>
<line x1="317.38" y1="42.50" x2="317.38" y2="48.50" stroke="#9c9cd0" stroke-width="0.6" opacity="0.8"/>
<line x1="316.18" y1="42.50" x2="318.57" y2="42.50" stroke="#9c9cd0" stroke-width="0.6" opacity="0.8"/>
<line x1="316.18" y1="48.50" x2="318.57" y2="48.50" stroke="#9c9cd0" stroke-width="0.6" opacity="0.8"/>
<line x1="327.45" y1="47.50" x2="327.45" y2="53.50" stroke="#9c9cd0" stroke-width="0.6" opacity="0.8"/>
<line x1="326.25" y1="47.50" x2="328.65" y2="47.50" stroke="#9c9cd0" stroke-width="0.6" opacity="0.8"/>
<line x1="326.25" y1="53.50" x2="328.65" y2="53.50" stroke="#9c9cd0" stroke-width="0.6" opacity="0.8"/>
<line x1="337.53" y1="52.50" x2="337.53" y2="58.50" stroke="#9c9cd0" stroke-width="0.6" opacity="0.8"/>
<line x1="336.33" y1="52.50" x2="338.73" y2="52.50" stroke="#9c9cd0" stroke-width="0.6" opacity="0.8"/>
<line x1="336.33" y1="58.50" x2="338.73" y2="58.50" stroke="#9c9cd0" stroke-width="0.6" opacity="0.8"/>
<line x1="352.64" y1="58.50" x2="352.64" y2="64.50" stroke="#9c9cd0" stroke-width="0.6" opacity="0.8"/>
<line x1="351.44" y1="58.50" x2="353.84" y2="58.50" stroke="#9c9cd0" stroke-width="0.6" opacity="0.8"/>
<line x1="351.44" y1="64.50" x2="353.84" y2="64.50" stroke="#9c9cd0" stroke-width="0.6" opacity="0.8"/>
<line x1="367.75" y1="63.50" x2="367.75" y2="69.50" stroke="#9c9cd0" stroke-width="0.6" opacity="0.8"/>
<line x1="366.55" y1="63.50" x2="368.95" y2="63.50" stroke="#9c9cd0" stroke-width="0.6" opacity="0.8"/>
<line x1="366.55" y1="69.50" x2="368.95" y2="69.50" stroke="#9c9cd0" stroke-width="0.6" opacity="0.8"/>
<line x1="397.98" y1="74.50" x2="397.98" y2="80.50" stroke="#9c9cd0" stroke-width="0.6" opacity="0.8"/>
<line x1="396.78" y1="74.50" x2="399.18" y2="74.50" stroke="#9c9cd0" stroke-width="0.6" opacity="0.8"/>
<line x1="396.78" y1="80.50" x2="399.18" y2="80.50" stroke="#9c9cd0" stroke-width="0.6" opacity="0.8"/>
<line x1="428.20" y1="81.50" x2="428.20" y2="87.50" stroke="#9c9cd0" stroke-width="0.6" opacity="0.8"/>
<line x1="427.00" y1="81.50" x2="429.40" y2="81.50" stroke="#9c9cd0" stroke-width="0.6" opacity="0.8"/>
<line x1="427.00" y1="87.50" x2="429.40" y2="87.50" stroke="#9c9cd0" stroke-width="0.6" opacity="0.8"/>
<line x1="317.38" y1="40.50" x2="317.38" y2="46.50" stroke="#c4c2a0" stroke-width="0.6" opacity="0.8"/>
<line x1="316.18" y1="40.50" x2="318.57" y2="40.50" stroke="#c4c2a0" stroke-width="0.6" opacity="0.8"/>
<line x1="316.18" y1="46.50" x2="318.57" y2="46.50" stroke="#c4c2a0" stroke-width="0.6" opacity="0.8"/>
<line x1="327.45" y1="44.50" x2="327.45" y2="50.50" stroke="#c4c2a0" stroke-width="0.6" opacity="0.8"/>
<line x1="326.25" y1="44.50" x2="328.65" y2="44.50" stroke="#c4c2a0" stroke-width="0.6" opacity="0.8"/>
<line x1="326.25" y1="50.50" x2="328.65" y2="50.50" stroke="#c4c2a0" stroke-width="0.6" opacity="0.8"/>
<line x1="337.53" y1="49.50" x2="337.53" y2="55.50" stroke="#c4c2a0" stroke-width="0.6" opacity="0.8"/>
<line x1="336.33" y1="49.50" x2="338.73" y2="49.50" stroke="#c4c2a0" stroke-width="0.6" opacity="0.8"/>
<line x1="336.33" y1="55.50" x2="338.73" y2="55.50" stroke="#c4c2a0" stroke-width="0.6" opacity="0.8"/>
<line x1="352.64" y1="55.50" x2="352.64" y2="61.50" stroke="#c4c2a0" stroke-width="0.6" opacity="0.8"/>
<line x1="351.44" y1="55.50" x2="353.84" y2="55.50" stroke="#c4c2a0" stroke-width="0.6" opacity="0.8"/>
<line x1="351.44" y1="61.50" x2="353.84" y2="61.50" stroke="#c4c2a0" stroke-width="0.6" opacity="0.8"/>
<line x1="367.75" y1="61.50" x2="367.75" y2="67.50" stroke="#c4c2a0" stroke-width="0.6" opacity="0.8"/>
<line x1="366.55" y1="61.50" x2="368.95" y2="61.50" stroke="#c4c2a0" stroke-width="0.6" opacity="0.8"/>
<line x1="366.55" y1="67.50" x2="368.95" y2="67.50" stroke="#c4c2a0" stroke-width="0.6" opacity="0.8"/>
<line x1="397.98" y1="71.50" x2="397.98" y2="77.50" stroke="#c4c2a0" stroke-width="0.6" opacity="0.8"/>
<line x1="396.78" y1="71.50" x2="399.18" y2="71.50" stroke="#c4c2a0" stroke-width="0.6" opacity="0.8"/>
<line x1="396.78" y1="77.50" x2="399.18" y2="77.50" stroke="#c4c2a0" stroke-width="0.6" opacity="0.8"/>
<line x1="428.20" y1="78.50" x2="428.20" y2="84.50" stroke="#c4c2a0" stroke-width="0.6" opacity="0.8"/>
<line x1="427.00" y1="78.50" x2="429.40" y2="78.50" stroke="#c4c2a0" stroke-width="0.6" opacity="0.8"/>
<line x1="427.00" y1="84.50" x2="429.40" y2="84.50" stroke="#c4c2a0" stroke-width="0.6" opacity="0.8"/>
<line x1="317.38" y1="28.60" x2="317.38" y2="45.60" stroke="#b02240" stroke-width="0.6" opacity="0.8"/>
<line x1="316.18" y1="28.60" x2="318.57" y2="28.60" stroke="#b02240" stroke-width="0.6" opacity="0.8"/>
<line x1="316.18" y1="45.60" x2="318.57" y2="45.60" stroke="#b02240" stroke-width="0.6" opacity="0.8"/>
<line x1="327.45" y1="45.20" x2="327.45" y2="51.20" stroke="#b02240" stroke-width="0.6" opacity="0.8"/>
<line x1="326.25" y1="45.20" x2="328.65" y2="45.20" stroke="#b02240" stroke-width="0.6" opacity="0.8"/>
<line x1="326.25" y1="51.20" x2="328.65" y2="51.20" stroke="#b02240" stroke-width="0.6" opacity="0.8"/>
<line x1="337.53" y1="51.60" x2="337.53" y2="57.60" stroke="#b02240" stroke-width="0.6" opacity="0.8"/>
<line x1="336.33" y1="51.60" x2="338.73" y2="51.60" stroke="#b02240" stroke-width="0.6" opacity="0.8"/>
<line x1="336.33" y1="57.60" x2="338.73" y2="57.60" stroke="#b02240" stroke-width="0.6" opacity="0.8"/>
<line x1="352.64" y1="57.00" x2="352.64" y2="63.00" stroke="#b02240" stroke-width="0.6" opacity="0.8"/>
<line x1="351.44" y1="57.00" x2="353.84" y2="57.00" stroke="#b02240" stroke-width="0.6" opacity="0.8"/>
<line x1="351.44" y1="63.00" x2="353.84" y2="63.00" stroke="#b02240" stroke-width="0.6" opacity="0.8"/>
<line x1="367.75" y1="62.20" x2="367.75" y2="68.20" stroke="#b02240" stroke-width="0.6" opacity="0.8"/>
<line x1="366.55" y1="62.20" x2="368.95" y2="62.20" stroke="#b02240" stroke-width="0.6" opacity="0.8"/>
<line x1="366.55" y1="68.20" x2="368.95" y2="68.20" stroke="#b02240" stroke-width="0.6" opacity="0.8"/>
<line x1="397.98" y1="73.70" x2="397.98" y2="79.70" stroke="#b02240" stroke-width="0.6" opacity="0.8"/>
<line x1="396.78" y1="73.70" x2="399.18" y2="73.70" stroke="#b02240" stroke-width="0.6" opacity="0.8"/>
<line x1="396.78" y1="79.70" x2="399.18" y2="79.70" stroke="#b02240" stroke-width="0.6" opacity="0.8"/>
<line x1="428.20" y1="82.50" x2="428.20" y2="88.50" stroke="#b02240" stroke-width="0.6" opacity="0.8"/>
<line x1="427.00" y1="82.50" x2="429.40" y2="82.50" stroke="#b02240" stroke-width="0.6" opacity="0.8"/>
<line x1="427.00" y1="88.50" x2="429.40" y2="88.50" stroke="#b02240" stroke-width="0.6" opacity="0.8"/>
<line x1="317.38" y1="46.00" x2="317.38" y2="52.00" stroke="#7a5838" stroke-width="0.6" opacity="0.8"/>
<line x1="316.18" y1="46.00" x2="318.57" y2="46.00" stroke="#7a5838" stroke-width="0.6" opacity="0.8"/>
<line x1="316.18" y1="52.00" x2="318.57" y2="52.00" stroke="#7a5838" stroke-width="0.6" opacity="0.8"/>
<line x1="327.45" y1="47.50" x2="327.45" y2="53.50" stroke="#7a5838" stroke-width="0.6" opacity="0.8"/>
<line x1="326.25" y1="47.50" x2="328.65" y2="47.50" stroke="#7a5838" stroke-width="0.6" opacity="0.8"/>
<line x1="326.25" y1="53.50" x2="328.65" y2="53.50" stroke="#7a5838" stroke-width="0.6" opacity="0.8"/>
<line x1="337.53" y1="51.50" x2="337.53" y2="57.50" stroke="#7a5838" stroke-width="0.6" opacity="0.8"/>
<line x1="336.33" y1="51.50" x2="338.73" y2="51.50" stroke="#7a5838" stroke-width="0.6" opacity="0.8"/>
<line x1="336.33" y1="57.50" x2="338.73" y2="57.50" stroke="#7a5838" stroke-width="0.6" opacity="0.8"/>
<line x1="352.64" y1="57.50" x2="352.64" y2="63.50" stroke="#7a5838" stroke-width="0.6" opacity="0.8"/>
<line x1="351.44" y1="57.50" x2="353.84" y2="57.50" stroke="#7a5838" stroke-width="0.6" opacity="0.8"/>
<line x1="351.44" y1="63.50" x2="353.84" y2="63.50" stroke="#7a5838" stroke-width="0.6" opacity="0.8"/>
<line x1="367.75" y1="62.50" x2="367.75" y2="68.50" stroke="#7a5838" stroke-width="0.6" opacity="0.8"/>
<line x1="366.55" y1="62.50" x2="368.95" y2="62.50" stroke="#7a5838" stroke-width="0.6" opacity="0.8"/>
<line x1="366.55" y1="68.50" x2="368.95" y2="68.50" stroke="#7a5838" stroke-width="0.6" opacity="0.8"/>
<line x1="397.98" y1="73.50" x2="397.98" y2="79.50" stroke="#7a5838" stroke-width="0.6" opacity="0.8"/>
<line x1="396.78" y1="73.50" x2="399.18" y2="73.50" stroke="#7a5838" stroke-width="0.6" opacity="0.8"/>
<line x1="396.78" y1="79.50" x2="399.18" y2="79.50" stroke="#7a5838" stroke-width="0.6" opacity="0.8"/>
<line x1="428.20" y1="80.50" x2="428.20" y2="86.50" stroke="#7a5838" stroke-width="0.6" opacity="0.8"/>
<line x1="427.00" y1="80.50" x2="429.40" y2="80.50" stroke="#7a5838" stroke-width="0.6" opacity="0.8"/>
<line x1="427.00" y1="86.50" x2="429.40" y2="86.50" stroke="#7a5838" stroke-width="0.6" opacity="0.8"/>
<line x1="317.38" y1="43.50" x2="317.38" y2="49.50" stroke="#4c9a50" stroke-width="0.6" opacity="0.8"/>
<line x1="316.18" y1="43.50" x2="318.57" y2="43.50" stroke="#4c9a50" stroke-width="0.6" opacity="0.8"/>
<line x1="316.18" y1="49.50" x2="318.57" y2="49.50" stroke="#4c9a50" stroke-width="0.6" opacity="0.8"/>
<line x1="327.45" y1="49.00" x2="327.45" y2="55.00" stroke="#4c9a50" stroke-width="0.6" opacity="0.8"/>
<line x1="326.25" y1="49.00" x2="328.65" y2="49.00" stroke="#4c9a50" stroke-width="0.6" opacity="0.8"/>
<line x1="326.25" y1="55.00" x2="328.65" y2="55.00" stroke="#4c9a50" stroke-width="0.6" opacity="0.8"/>
<line x1="337.53" y1="56.30" x2="337.53" y2="62.30" stroke="#4c9a50" stroke-width="0.6" opacity="0.8"/>
<line x1="336.33" y1="56.30" x2="338.73" y2="56.30" stroke="#4c9a50" stroke-width="0.6" opacity="0.8"/>
<line x1="336.33" y1="62.30" x2="338.73" y2="62.30" stroke="#4c9a50" stroke-width="0.6" opacity="0.8"/>
<line x1="352.64" y1="61.50" x2="352.64" y2="67.50" stroke="#4c9a50" stroke-width="0.6" opacity="0.8"/>
<line x1="351.44" y1="61.50" x2="353.84" y2="61.50" stroke="#4c9a50" stroke-width="0.6" opacity="0.8"/>
<line x1="351.44" y1="67.50" x2="353.84" y2="67.50" stroke="#4c9a50" stroke-width="0.6" opacity="0.8"/>
<line x1="367.75" y1="64.90" x2="367.75" y2="70.90" stroke="#4c9a50" stroke-width="0.6" opacity="0.8"/>
<line x1="366.55" y1="64.90" x2="368.95" y2="64.90" stroke="#4c9a50" stroke-width="0.6" opacity="0.8"/>
<line x1="366.55" y1="70.90" x2="368.95" y2="70.90" stroke="#4c9a50" stroke-width="0.6" opacity="0.8"/>
<line x1="397.98" y1="75.50" x2="397.98" y2="81.50" stroke="#4c9a50" stroke-width="0.6" opacity="0.8"/>
<line x1="396.78" y1="75.50" x2="399.18" y2="75.50" stroke="#4c9a50" stroke-width="0.6" opacity="0.8"/>
<line x1="396.78" y1="81.50" x2="399.18" y2="81.50" stroke="#4c9a50" stroke-width="0.6" opacity="0.8"/>
<line x1="428.20" y1="79.50" x2="428.20" y2="85.50" stroke="#4c9a50" stroke-width="0.6" opacity="0.8"/>
<line x1="427.00" y1="79.50" x2="429.40" y2="79.50" stroke="#4c9a50" stroke-width="0.6" opacity="0.8"/>
<line x1="427.00" y1="85.50" x2="429.40" y2="85.50" stroke="#4c9a50" stroke-width="0.6" opacity="0.8"/>
<line x1="317.38" y1="41.50" x2="317.38" y2="47.50" stroke="#5a3c9a" stroke-width="0.6" opacity="0.8"/>
<line x1="316.18" y1="41.50" x2="318.57" y2="41.50" stroke="#5a3c9a" stroke-width="0.6" opacity="0.8"/>
<line x1="316.18" y1="47.50" x2="318.57" y2="47.50" stroke="#5a3c9a" stroke-width="0.6" opacity="0.8"/>
<line x1="327.45" y1="48.50" x2="327.45" y2="54.50" stroke="#5a3c9a" stroke-width="0.6" opacity="0.8"/>
<line x1="326.25" y1="48.50" x2="328.65" y2="48.50" stroke="#5a3c9a" stroke-width="0.6" opacity="0.8"/>
<line x1="326.25" y1="54.50" x2="328.65" y2="54.50" stroke="#5a3c9a" stroke-width="0.6" opacity="0.8"/>
<line x1="337.53" y1="54.50" x2="337.53" y2="60.50" stroke="#5a3c9a" stroke-width="0.6" opacity="0.8"/>
<line x1="336.33" y1="54.50" x2="338.73" y2="54.50" stroke="#5a3c9a" stroke-width="0.6" opacity="0.8"/>
<line x1="336.33" y1="60.50" x2="338.73" y2="60.50" stroke="#5a3c9a" stroke-width="0.6" opacity="0.8"/>
<line x1="352.64" y1="62.50" x2="352.64" y2="68.50" stroke="#5a3c9a" stroke-width="0.6" opacity="0.8"/>
<line x1="351.44" y1="62.50" x2="353.84" y2="62.50" stroke="#5a3c9a" stroke-width="0.6" opacity="0.8"/>
<line x1="351.44" y1="68.50" x2="353.84" y2="68.50" stroke="#5a3c9a" stroke-width="0.6" opacity="0.8"/>
<line x1="367.75" y1="68.50" x2="367.75" y2="74.50" stroke="#5a3c9a" stroke-width="0.6" opacity="0.8"/>
<line x1="366.55" y1="68.50" x2="368.95" y2="68.50" stroke="#5a3c9a" stroke-width="0.6" opacity="0.8"/>
<line x1="366.55" y1="74.50" x2="368.95" y2="74.50" stroke="#5a3c9a" stroke-width="0.6" opacity="0.8"/>
<line x1="397.98" y1="80.50" x2="397.98" y2="86.50" stroke="#5a3c9a" stroke-width="0.6" opacity="0.8"/>
<line x1="396.78" y1="80.50" x2="399.18" y2="80.50" stroke="#5a3c9a" stroke-width="0.6" opacity="0.8"/>
<line x1="396.78" y1="86.50" x2="399.18" y2="86.50" stroke="#5a3c9a" stroke-width="0.6" opacity="0.8"/>
<line x1="428.20" y1="89.50" x2="428.20" y2="95.50" stroke="#5a3c9a" stroke-width="0.6" opacity="0.8"/>
<line x1="427.00" y1="89.50" x2="429.40" y2="89.50" stroke="#5a3c9a" stroke-width="0.6" opacity="0.8"/>
<line x1="427.00" y1="95.50" x2="429.40" y2="95.50" stroke="#5a3c9a" stroke-width="0.6" opacity="0.8"/>
<line x1="317.38" y1="38.40" x2="317.38" y2="44.40" stroke="#d43a7c" stroke-width="0.6" opacity="0.8"/>
<line x1="316.18" y1="38.40" x2="318.57" y2="38.40" stroke="#d43a7c" stroke-width="0.6" opacity="0.8"/>
<line x1="316.18" y1="44.40" x2="318.57" y2="44.40" stroke="#d43a7c" stroke-width="0.6" opacity="0.8"/>
<line x1="327.45" y1="54.60" x2="327.45" y2="60.60" stroke="#d43a7c" stroke-width="0.6" opacity="0.8"/>
<line x1="326.25" y1="54.60" x2="328.65" y2="54.60" stroke="#d43a7c" stroke-width="0.6" opacity="0.8"/>
<line x1="326.25" y1="60.60" x2="328.65" y2="60.60" stroke="#d43a7c" stroke-width="0.6" opacity="0.8"/>
<line x1="337.53" y1="60.50" x2="337.53" y2="66.50" stroke="#d43a7c" stroke-width="0.6" opacity="0.8"/>
<line x1="336.33" y1="60.50" x2="338.73" y2="60.50" stroke="#d43a7c" stroke-width="0.6" opacity="0.8"/>
<line x1="336.33" y1="66.50" x2="338.73" y2="66.50" stroke="#d43a7c" stroke-width="0.6" opacity="0.8"/>
<line x1="352.64" y1="74.50" x2="352.64" y2="80.50" stroke="#d43a7c" stroke-width="0.6" opacity="0.8"/>
<line x1="351.44" y1="74.50" x2="353.84" y2="74.50" stroke="#d43a7c" stroke-width="0.6" opacity="0.8"/>
<line x1="351.44" y1="80.50" x2="353.84" y2="80.50" stroke="#d43a7c" stroke-width="0.6" opacity="0.8"/>
<line x1="367.75" y1="76.40" x2="367.75" y2="82.40" stroke="#d43a7c" stroke-width="0.6" opacity="0.8"/>
<line x1="366.55" y1="76.40" x2="368.95" y2="76.40" stroke="#d43a7c" stroke-width="0.6" opacity="0.8"/>
<line x1="366.55" y1="82.40" x2="368.95" y2="82.40" stroke="#d43a7c" stroke-width="0.6" opacity="0.8"/>
<line x1="397.98" y1="90.50" x2="397.98" y2="96.50" stroke="#d43a7c" stroke-width="0.6" opacity="0.8"/>
<line x1="396.78" y1="90.50" x2="399.18" y2="90.50" stroke="#d43a7c" stroke-width="0.6" opacity="0.8"/>
<line x1="396.78" y1="96.50" x2="399.18" y2="96.50" stroke="#d43a7c" stroke-width="0.6" opacity="0.8"/>
<line x1="428.20" y1="95.00" x2="428.20" y2="101.00" stroke="#d43a7c" stroke-width="0.6" opacity="0.8"/>
<line x1="427.00" y1="95.00" x2="429.40" y2="95.00" stroke="#d43a7c" stroke-width="0.6" opacity="0.8"/>
<line x1="427.00" y1="101.00" x2="429.40" y2="101.00" stroke="#d43a7c" stroke-width="0.6" opacity="0.8"/>
<line x1="317.38" y1="41.50" x2="317.38" y2="47.50" stroke="#2f5a84" stroke-width="0.6" opacity="0.8"/>
<line x1="316.18" y1="41.50" x2="318.57" y2="41.50" stroke="#2f5a84" stroke-width="0.6" opacity="0.8"/>
<line x1="316.18" y1="47.50" x2="318.57" y2="47.50" stroke="#2f5a84" stroke-width="0.6" opacity="0.8"/>
<line x1="327.45" y1="45.50" x2="327.45" y2="51.50" stroke="#2f5a84" stroke-width="0.6" opacity="0.8"/>
<line x1="326.25" y1="45.50" x2="328.65" y2="45.50" stroke="#2f5a84" stroke-width="0.6" opacity="0.8"/>
<line x1="326.25" y1="51.50" x2="328.65" y2="51.50" stroke="#2f5a84" stroke-width="0.6" opacity="0.8"/>
<line x1="337.53" y1="49.50" x2="337.53" y2="55.50" stroke="#2f5a84" stroke-width="0.6" opacity="0.8"/>
<line x1="336.33" y1="49.50" x2="338.73" y2="49.50" stroke="#2f5a84" stroke-width="0.6" opacity="0.8"/>
<line x1="336.33" y1="55.50" x2="338.73" y2="55.50" stroke="#2f5a84" stroke-width="0.6" opacity="0.8"/>
<line x1="352.64" y1="55.50" x2="352.64" y2="61.50" stroke="#2f5a84" stroke-width="0.6" opacity="0.8"/>
<line x1="351.44" y1="55.50" x2="353.84" y2="55.50" stroke="#2f5a84" stroke-width="0.6" opacity="0.8"/>
<line x1="351.44" y1="61.50" x2="353.84" y2="61.50" stroke="#2f5a84" stroke-width="0.6" opacity="0.8"/>
<line x1="367.75" y1="59.60" x2="367.75" y2="65.60" stroke="#2f5a84" stroke-width="0.6" opacity="0.8"/>
<line x1="366.55" y1="59.60" x2="368.95" y2="59.60" stroke="#2f5a84" stroke-width="0.6" opacity="0.8"/>
<line x1="366.55" y1="65.60" x2="368.95" y2="65.60" stroke="#2f5a84" stroke-width="0.6" opacity="0.8"/>
<line x1="397.98" y1="69.00" x2="397.98" y2="75.00" stroke="#2f5a84" stroke-width="0.6" opacity="0.8"/>
<line x1="396.78" y1="69.00" x2="399.18" y2="69.00" stroke="#2f5a84" stroke-width="0.6" opacity="0.8"/>
<line x1="396.78" y1="75.00" x2="399.18" y2="75.00" stroke="#2f5a84" stroke-width="0.6" opacity="0.8"/>
<line x1="428.20" y1="73.20" x2="428.20" y2="79.20" stroke="#2f5a84" stroke-width="0.6" opacity="0.8"/>
<line x1="427.00" y1="73.20" x2="429.40" y2="73.20" stroke="#2f5a84" stroke-width="0.6" opacity="0.8"/>
<line x1="427.00" y1="79.20" x2="429.40" y2="79.20" stroke="#2f5a84" stroke-width="0.6" opacity="0.8"/>
<line x1="317.38" y1="31.50" x2="317.38" y2="37.50" stroke="#f0a048" stroke-width="0.6" opacity="0.8"/>
<line x1="316.18" y1="31.50" x2="318.57" y2="31.50" stroke="#f0a048" stroke-width="0.6" opacity="0.8"/>
<line x1="316.18" y1="37.50" x2="318.57" y2="37.50" stroke="#f0a048" stroke-width="0.6" opacity="0.8"/>
<line x1="327.45" y1="38.40" x2="327.45" y2="44.40" stroke="#f0a048" stroke-width="0.6" opacity="0.8"/>
<line x1="326.25" y1="38.40" x2="328.65" y2="38.40" stroke="#f0a048" stroke-width="0.6" opacity="0.8"/>
<line x1="326.25" y1="44.40" x2="328.65" y2="44.40" stroke="#f0a048" stroke-width="0.6" opacity="0.8"/>
<line x1="337.53" y1="43.00" x2="337.53" y2="49.00" stroke="#f0a048" stroke-width="0.6" opacity="0.8"/>
<line x1="336.33" y1="43.00" x2="338.73" y2="43.00" stroke="#f0a048" stroke-width="0.6" opacity="0.8"/>
<line x1="336.33" y1="49.00" x2="338.73" y2="49.00" stroke="#f0a048" stroke-width="0.6" opacity="0.8"/>
<line x1="352.64" y1="49.30" x2="352.64" y2="55.30" stroke="#f0a048" stroke-width="0.6" opacity="0.8"/>
<line x1="351.44" y1="49.30" x2="353.84" y2="49.30" stroke="#f0a048" stroke-width="0.6" opacity="0.8"/>
<line x1="351.44" y1="55.30" x2="353.84" y2="55.30" stroke="#f0a048" stroke-width="0.6" opacity="0.8"/>
<line x1="367.75" y1="54.10" x2="367.75" y2="60.10" stroke="#f0a048" stroke-width="0.6" opacity="0.8"/>
<line x1="366.55" y1="54.10" x2="368.95" y2="54.10" stroke="#f0a048" stroke-width="0.6" opacity="0.8"/>
<line x1="366.55" y1="60.10" x2="368.95" y2="60.10" stroke="#f0a048" stroke-width="0.6" opacity="0.8"/>
<line x1="397.98" y1="63.50" x2="397.98" y2="69.50" stroke="#f0a048" stroke-width="0.6" opacity="0.8"/>
<line x1="396.78" y1="63.50" x2="399.18" y2="63.50" stroke="#f0a048" stroke-width="0.6" opacity="0.8"/>
<line x1="396.78" y1="69.50" x2="399.18" y2="69.50" stroke="#f0a048" stroke-width="0.6" opacity="0.8"/>
<line x1="428.20" y1="67.00" x2="428.20" y2="73.00" stroke="#f0a048" stroke-width="0.6" opacity="0.8"/>
<line x1="427.00" y1="67.00" x2="429.40" y2="67.00" stroke="#f0a048" stroke-width="0.6" opacity="0.8"/>
<line x1="427.00" y1="73.00" x2="429.40" y2="73.00" stroke="#f0a048" stroke-width="0.6" opacity="0.8"/>
<line x1="317.38" y1="50.00" x2="317.38" y2="62.00" stroke="#4a90c0" stroke-width="0.6" opacity="0.8"/>
<line x1="316.18" y1="50.00" x2="318.57" y2="50.00" stroke="#4a90c0" stroke-width="0.6" opacity="0.8"/>
<line x1="316.18" y1="62.00" x2="318.57" y2="62.00" stroke="#4a90c0" stroke-width="0.6" opacity="0.8"/>
<line x1="327.45" y1="65.50" x2="327.45" y2="75.50" stroke="#4a90c0" stroke-width="0.6" opacity="0.8"/>
<line x1="326.25" y1="65.50" x2="328.65" y2="65.50" stroke="#4a90c0" stroke-width="0.6" opacity="0.8"/>
<line x1="326.25" y1="75.50" x2="328.65" y2="75.50" stroke="#4a90c0" stroke-width="0.6" opacity="0.8"/>
<line x1="337.53" y1="81.50" x2="337.53" y2="89.50" stroke="#4a90c0" stroke-width="0.6" opacity="0.8"/>
<line x1="336.33" y1="81.50" x2="338.73" y2="81.50" stroke="#4a90c0" stroke-width="0.6" opacity="0.8"/>
<line x1="336.33" y1="89.50" x2="338.73" y2="89.50" stroke="#4a90c0" stroke-width="0.6" opacity="0.8"/>
<line x1="352.64" y1="93.50" x2="352.64" y2="99.50" stroke="#4a90c0" stroke-width="0.6" opacity="0.8"/>
<line x1="351.44" y1="93.50" x2="353.84" y2="93.50" stroke="#4a90c0" stroke-width="0.6" opacity="0.8"/>
<line x1="351.44" y1="99.50" x2="353.84" y2="99.50" stroke="#4a90c0" stroke-width="0.6" opacity="0.8"/>
<line x1="367.75" y1="104.00" x2="367.75" y2="109.00" stroke="#4a90c0" stroke-width="0.6" opacity="0.8"/>
<line x1="366.55" y1="104.00" x2="368.95" y2="104.00" stroke="#4a90c0" stroke-width="0.6" opacity="0.8"/>
<line x1="366.55" y1="109.00" x2="368.95" y2="109.00" stroke="#4a90c0" stroke-width="0.6" opacity="0.8"/>
<line x1="397.98" y1="119.50" x2="397.98" y2="122.50" stroke="#4a90c0" stroke-width="0.6" opacity="0.8"/>
<line x1="396.78" y1="119.50" x2="399.18" y2="119.50" stroke="#4a90c0" stroke-width="0.6" opacity="0.8"/>
<line x1="396.78" y1="122.50" x2="399.18" y2="122.50" stroke="#4a90c0" stroke-width="0.6" opacity="0.8"/>
<line x1="428.20" y1="125.50" x2="428.20" y2="127.50" stroke="#4a90c0" stroke-width="0.6" opacity="0.8"/>
<line x1="427.00" y1="125.50" x2="429.40" y2="125.50" stroke="#4a90c0" stroke-width="0.6" opacity="0.8"/>
<line x1="427.00" y1="127.50" x2="429.40" y2="127.50" stroke="#4a90c0" stroke-width="0.6" opacity="0.8"/>
<circle cx="307.30" cy="40.50" r="1.6" fill="white" stroke="#64b4e6" stroke-width="1.15"/>
<circle cx="312.34" cy="44.00" r="1.6" fill="white" stroke="#64b4e6" stroke-width="1.15"/>
<circle cx="322.41" cy="53.30" r="1.6" fill="white" stroke="#64b4e6" stroke-width="1.15"/>
<circle cx="337.53" cy="58.50" r="1.6" fill="white" stroke="#64b4e6" stroke-width="1.15"/>
<circle cx="352.64" cy="66.50" r="1.6" fill="white" stroke="#64b4e6" stroke-width="1.15"/>
<circle cx="367.75" cy="73.50" r="1.6" fill="white" stroke="#64b4e6" stroke-width="1.15"/>
<circle cx="397.98" cy="85.50" r="1.6" fill="white" stroke="#64b4e6" stroke-width="1.15"/>
<circle cx="428.20" cy="94.50" r="1.6" fill="white" stroke="#64b4e6" stroke-width="1.15"/>
<circle cx="307.30" cy="40.50" r="1.6" fill="white" stroke="#eccc40" stroke-width="1.15"/>
<circle cx="317.38" cy="41.50" r="1.6" fill="white" stroke="#eccc40" stroke-width="1.15"/>
<circle cx="327.45" cy="49.50" r="1.6" fill="white" stroke="#eccc40" stroke-width="1.15"/>
<circle cx="337.53" cy="56.50" r="1.6" fill="white" stroke="#eccc40" stroke-width="1.15"/>
<circle cx="352.64" cy="63.50" r="1.6" fill="white" stroke="#eccc40" stroke-width="1.15"/>
<circle cx="367.75" cy="68.50" r="1.6" fill="white" stroke="#eccc40" stroke-width="1.15"/>
<circle cx="397.98" cy="82.50" r="1.6" fill="white" stroke="#eccc40" stroke-width="1.15"/>
<circle cx="428.20" cy="90.50" r="1.6" fill="white" stroke="#eccc40" stroke-width="1.15"/>
<circle cx="307.30" cy="40.50" r="1.6" fill="white" stroke="#de6a4c" stroke-width="1.15"/>
<circle cx="317.38" cy="51.60" r="1.6" fill="white" stroke="#de6a4c" stroke-width="1.15"/>
<circle cx="327.45" cy="62.70" r="1.6" fill="white" stroke="#de6a4c" stroke-width="1.15"/>
<circle cx="337.53" cy="67.80" r="1.6" fill="white" stroke="#de6a4c" stroke-width="1.15"/>
<circle cx="352.64" cy="74.50" r="1.6" fill="white" stroke="#de6a4c" stroke-width="1.15"/>
<circle cx="367.75" cy="72.70" r="1.6" fill="white" stroke="#de6a4c" stroke-width="1.15"/>
<circle cx="397.98" cy="86.70" r="1.6" fill="white" stroke="#de6a4c" stroke-width="1.15"/>
<circle cx="428.20" cy="92.30" r="1.6" fill="white" stroke="#de6a4c" stroke-width="1.15"/>
<circle cx="307.30" cy="40.50" r="1.6" fill="white" stroke="#9c9cd0" stroke-width="1.15"/>
<circle cx="317.38" cy="45.50" r="1.6" fill="white" stroke="#9c9cd0" stroke-width="1.15"/>
<circle cx="327.45" cy="50.50" r="1.6" fill="white" stroke="#9c9cd0" stroke-width="1.15"/>
<circle cx="337.53" cy="55.50" r="1.6" fill="white" stroke="#9c9cd0" stroke-width="1.15"/>
<circle cx="352.64" cy="61.50" r="1.6" fill="white" stroke="#9c9cd0" stroke-width="1.15"/>
<circle cx="367.75" cy="66.50" r="1.6" fill="white" stroke="#9c9cd0" stroke-width="1.15"/>
<circle cx="397.98" cy="77.50" r="1.6" fill="white" stroke="#9c9cd0" stroke-width="1.15"/>
<circle cx="428.20" cy="84.50" r="1.6" fill="white" stroke="#9c9cd0" stroke-width="1.15"/>
<circle cx="307.30" cy="40.50" r="1.6" fill="white" stroke="#c4c2a0" stroke-width="1.15"/>
<circle cx="317.38" cy="43.50" r="1.6" fill="white" stroke="#c4c2a0" stroke-width="1.15"/>
<circle cx="327.45" cy="47.50" r="1.6" fill="white" stroke="#c4c2a0" stroke-width="1.15"/>
<circle cx="337.53" cy="52.50" r="1.6" fill="white" stroke="#c4c2a0" stroke-width="1.15"/>
<circle cx="352.64" cy="58.50" r="1.6" fill="white" stroke="#c4c2a0" stroke-width="1.15"/>
<circle cx="367.75" cy="64.50" r="1.6" fill="white" stroke="#c4c2a0" stroke-width="1.15"/>
<circle cx="397.98" cy="74.50" r="1.6" fill="white" stroke="#c4c2a0" stroke-width="1.15"/>
<circle cx="428.20" cy="81.50" r="1.6" fill="white" stroke="#c4c2a0" stroke-width="1.15"/>
<circle cx="307.30" cy="40.50" r="1.6" fill="white" stroke="#b02240" stroke-width="1.15"/>
<circle cx="317.38" cy="37.10" r="1.6" fill="white" stroke="#b02240" stroke-width="1.15"/>
<circle cx="327.45" cy="48.20" r="1.6" fill="white" stroke="#b02240" stroke-width="1.15"/>
<circle cx="337.53" cy="54.60" r="1.6" fill="white" stroke="#b02240" stroke-width="1.15"/>
<circle cx="352.64" cy="60.00" r="1.6" fill="white" stroke="#b02240" stroke-width="1.15"/>
<circle cx="367.75" cy="65.20" r="1.6" fill="white" stroke="#b02240" stroke-width="1.15"/>
<circle cx="397.98" cy="76.70" r="1.6" fill="white" stroke="#b02240" stroke-width="1.15"/>
<circle cx="428.20" cy="85.50" r="1.6" fill="white" stroke="#b02240" stroke-width="1.15"/>
<circle cx="307.30" cy="40.50" r="1.6" fill="white" stroke="#7a5838" stroke-width="1.15"/>
<circle cx="317.38" cy="49.00" r="1.6" fill="white" stroke="#7a5838" stroke-width="1.15"/>
<circle cx="327.45" cy="50.50" r="1.6" fill="white" stroke="#7a5838" stroke-width="1.15"/>
<circle cx="337.53" cy="54.50" r="1.6" fill="white" stroke="#7a5838" stroke-width="1.15"/>
<circle cx="352.64" cy="60.50" r="1.6" fill="white" stroke="#7a5838" stroke-width="1.15"/>
<circle cx="367.75" cy="65.50" r="1.6" fill="white" stroke="#7a5838" stroke-width="1.15"/>
<circle cx="397.98" cy="76.50" r="1.6" fill="white" stroke="#7a5838" stroke-width="1.15"/>
<circle cx="428.20" cy="83.50" r="1.6" fill="white" stroke="#7a5838" stroke-width="1.15"/>
<circle cx="307.30" cy="40.50" r="1.6" fill="white" stroke="#4c9a50" stroke-width="1.15"/>
<circle cx="317.38" cy="46.50" r="1.6" fill="white" stroke="#4c9a50" stroke-width="1.15"/>
<circle cx="327.45" cy="52.00" r="1.6" fill="white" stroke="#4c9a50" stroke-width="1.15"/>
<circle cx="337.53" cy="59.30" r="1.6" fill="white" stroke="#4c9a50" stroke-width="1.15"/>
<circle cx="352.64" cy="64.50" r="1.6" fill="white" stroke="#4c9a50" stroke-width="1.15"/>
<circle cx="367.75" cy="67.90" r="1.6" fill="white" stroke="#4c9a50" stroke-width="1.15"/>
<circle cx="397.98" cy="78.50" r="1.6" fill="white" stroke="#4c9a50" stroke-width="1.15"/>
<circle cx="428.20" cy="82.50" r="1.6" fill="white" stroke="#4c9a50" stroke-width="1.15"/>
<circle cx="307.30" cy="40.50" r="1.6" fill="white" stroke="#5a3c9a" stroke-width="1.15"/>
<circle cx="317.38" cy="44.50" r="1.6" fill="white" stroke="#5a3c9a" stroke-width="1.15"/>
<circle cx="327.45" cy="51.50" r="1.6" fill="white" stroke="#5a3c9a" stroke-width="1.15"/>
<circle cx="337.53" cy="57.50" r="1.6" fill="white" stroke="#5a3c9a" stroke-width="1.15"/>
<circle cx="352.64" cy="65.50" r="1.6" fill="white" stroke="#5a3c9a" stroke-width="1.15"/>
<circle cx="367.75" cy="71.50" r="1.6" fill="white" stroke="#5a3c9a" stroke-width="1.15"/>
<circle cx="397.98" cy="83.50" r="1.6" fill="white" stroke="#5a3c9a" stroke-width="1.15"/>
<circle cx="428.20" cy="92.50" r="1.6" fill="white" stroke="#5a3c9a" stroke-width="1.15"/>
<circle cx="307.30" cy="40.50" r="1.6" fill="white" stroke="#d43a7c" stroke-width="1.15"/>
<circle cx="317.38" cy="41.40" r="1.6" fill="white" stroke="#d43a7c" stroke-width="1.15"/>
<circle cx="327.45" cy="57.60" r="1.6" fill="white" stroke="#d43a7c" stroke-width="1.15"/>
<circle cx="337.53" cy="63.50" r="1.6" fill="white" stroke="#d43a7c" stroke-width="1.15"/>
<circle cx="352.64" cy="77.50" r="1.6" fill="white" stroke="#d43a7c" stroke-width="1.15"/>
<circle cx="367.75" cy="79.40" r="1.6" fill="white" stroke="#d43a7c" stroke-width="1.15"/>
<circle cx="397.98" cy="93.50" r="1.6" fill="white" stroke="#d43a7c" stroke-width="1.15"/>
<circle cx="428.20" cy="98.00" r="1.6" fill="white" stroke="#d43a7c" stroke-width="1.15"/>
<circle cx="307.30" cy="40.50" r="1.6" fill="white" stroke="#2f5a84" stroke-width="1.15"/>
<circle cx="317.38" cy="44.50" r="1.6" fill="white" stroke="#2f5a84" stroke-width="1.15"/>
<circle cx="327.45" cy="48.50" r="1.6" fill="white" stroke="#2f5a84" stroke-width="1.15"/>
<circle cx="337.53" cy="52.50" r="1.6" fill="white" stroke="#2f5a84" stroke-width="1.15"/>
<circle cx="352.64" cy="58.50" r="1.6" fill="white" stroke="#2f5a84" stroke-width="1.15"/>
<circle cx="367.75" cy="62.60" r="1.6" fill="white" stroke="#2f5a84" stroke-width="1.15"/>
<circle cx="397.98" cy="72.00" r="1.6" fill="white" stroke="#2f5a84" stroke-width="1.15"/>
<circle cx="428.20" cy="76.20" r="1.6" fill="white" stroke="#2f5a84" stroke-width="1.15"/>
<circle cx="307.30" cy="40.50" r="1.6" fill="white" stroke="#f0a048" stroke-width="1.15"/>
<circle cx="317.38" cy="34.50" r="1.6" fill="white" stroke="#f0a048" stroke-width="1.15"/>
<circle cx="327.45" cy="41.40" r="1.6" fill="white" stroke="#f0a048" stroke-width="1.15"/>
<circle cx="337.53" cy="46.00" r="1.6" fill="white" stroke="#f0a048" stroke-width="1.15"/>
<circle cx="352.64" cy="52.30" r="1.6" fill="white" stroke="#f0a048" stroke-width="1.15"/>
<circle cx="367.75" cy="57.10" r="1.6" fill="white" stroke="#f0a048" stroke-width="1.15"/>
<circle cx="397.98" cy="66.50" r="1.6" fill="white" stroke="#f0a048" stroke-width="1.15"/>
<circle cx="428.20" cy="70.00" r="1.6" fill="white" stroke="#f0a048" stroke-width="1.15"/>
<circle cx="307.30" cy="40.50" r="1.3" fill="#4a90c0" stroke="none" stroke-width="1"/>
<circle cx="317.38" cy="56.00" r="1.3" fill="#4a90c0" stroke="none" stroke-width="1"/>
<circle cx="327.45" cy="70.50" r="1.3" fill="#4a90c0" stroke="none" stroke-width="1"/>
<circle cx="337.53" cy="85.50" r="1.3" fill="#4a90c0" stroke="none" stroke-width="1"/>
<circle cx="352.64" cy="96.50" r="1.3" fill="#4a90c0" stroke="none" stroke-width="1"/>
<circle cx="367.75" cy="106.50" r="1.3" fill="#4a90c0" stroke="none" stroke-width="1"/>
<circle cx="397.98" cy="121.00" r="1.3" fill="#4a90c0" stroke="none" stroke-width="1"/>
<circle cx="428.20" cy="126.50" r="1.3" fill="#4a90c0" stroke="none" stroke-width="1"/>
<circle cx="307.30" cy="40.50" r="1.7" fill="#3a8a5a" stroke="#3a8a5a" stroke-width="0.9"/>
<line x1="437.30" y1="25.00" x2="445.10" y2="25.00" stroke="#f0a048" stroke-width="1.0" opacity="0.75"/>
<circle cx="441.20" cy="25.00" r="1.45" fill="white" stroke="#f0a048" stroke-width="1.0"/>
<text x="448.60" y="27.68" font-size="7.8" fill="#262626" stroke="#262626" stroke-width="0.15" textLength="19.12" lengthAdjust="spacingAndGlyphs">S56W</text>
<line x1="437.30" y1="34.25" x2="445.10" y2="34.25" stroke="#c4c2a0" stroke-width="1.0" opacity="0.75"/>
<circle cx="441.20" cy="34.25" r="1.45" fill="white" stroke="#c4c2a0" stroke-width="1.0"/>
<text x="448.60" y="36.93" font-size="7.8" fill="#262626" stroke="#262626" stroke-width="0.15" textLength="19.5" lengthAdjust="spacingAndGlyphs">N57W</text>
<line x1="437.30" y1="43.50" x2="445.10" y2="43.50" stroke="#2f5a84" stroke-width="1.0" opacity="0.75"/>
<circle cx="441.20" cy="43.50" r="1.45" fill="white" stroke="#2f5a84" stroke-width="1.0"/>
<text x="448.60" y="46.18" font-size="7.8" fill="#262626" stroke="#262626" stroke-width="0.15" textLength="23.02" lengthAdjust="spacingAndGlyphs">Y100W</text>
<line x1="437.30" y1="52.75" x2="445.10" y2="52.75" stroke="#4c9a50" stroke-width="1.0" opacity="0.75"/>
<circle cx="441.20" cy="52.75" r="1.45" fill="white" stroke="#4c9a50" stroke-width="1.0"/>
<text x="448.60" y="55.43" font-size="7.8" fill="#262626" stroke="#262626" stroke-width="0.15" textLength="17.17" lengthAdjust="spacingAndGlyphs">A55K</text>
<line x1="437.30" y1="62.00" x2="445.10" y2="62.00" stroke="#9c9cd0" stroke-width="1.0" opacity="0.75"/>
<circle cx="441.20" cy="62.00" r="1.45" fill="white" stroke="#9c9cd0" stroke-width="1.0"/>
<text x="448.60" y="64.68" font-size="7.8" fill="#262626" stroke="#262626" stroke-width="0.15" textLength="17.95" lengthAdjust="spacingAndGlyphs">N57R</text>
<line x1="437.30" y1="71.25" x2="445.10" y2="71.25" stroke="#b02240" stroke-width="1.0" opacity="0.75"/>
<circle cx="441.20" cy="71.25" r="1.45" fill="white" stroke="#b02240" stroke-width="1.0"/>
<text x="448.60" y="73.93" font-size="7.8" fill="#262626" stroke="#262626" stroke-width="0.15" textLength="17.95" lengthAdjust="spacingAndGlyphs">Q27E</text>
<line x1="437.30" y1="80.50" x2="445.10" y2="80.50" stroke="#7a5838" stroke-width="1.0" opacity="0.75"/>
<circle cx="441.20" cy="80.50" r="1.45" fill="white" stroke="#7a5838" stroke-width="1.0"/>
<text x="448.60" y="83.18" font-size="7.8" fill="#262626" stroke="#262626" stroke-width="0.15" textLength="20.68" lengthAdjust="spacingAndGlyphs">Y100F</text>
<line x1="437.30" y1="89.75" x2="445.10" y2="89.75" stroke="#64b4e6" stroke-width="1.0" opacity="0.75"/>
<circle cx="441.20" cy="89.75" r="1.45" fill="white" stroke="#64b4e6" stroke-width="1.0"/>
<text x="448.60" y="92.43" font-size="7.8" fill="#262626" stroke="#262626" stroke-width="0.15" textLength="61.49" lengthAdjust="spacingAndGlyphs">TPP-26870 Parental</text>
<line x1="437.30" y1="99.00" x2="445.10" y2="99.00" stroke="#eccc40" stroke-width="1.0" opacity="0.75"/>
<circle cx="441.20" cy="99.00" r="1.45" fill="white" stroke="#eccc40" stroke-width="1.0"/>
<text x="448.60" y="101.68" font-size="7.8" fill="#262626" stroke="#262626" stroke-width="0.15" textLength="17.95" lengthAdjust="spacingAndGlyphs">N57H</text>
<line x1="437.30" y1="108.25" x2="445.10" y2="108.25" stroke="#5a3c9a" stroke-width="1.0" opacity="0.75"/>
<circle cx="441.20" cy="108.25" r="1.45" fill="white" stroke="#5a3c9a" stroke-width="1.0"/>
<text x="448.60" y="110.93" font-size="7.8" fill="#262626" stroke="#262626" stroke-width="0.15" textLength="17.56" lengthAdjust="spacingAndGlyphs">S56R</text>
<line x1="437.30" y1="117.50" x2="445.10" y2="117.50" stroke="#de6a4c" stroke-width="1.0" opacity="0.75"/>
<circle cx="441.20" cy="117.50" r="1.45" fill="white" stroke="#de6a4c" stroke-width="1.0"/>
<text x="448.60" y="120.18" font-size="7.8" fill="#262626" stroke="#262626" stroke-width="0.15" textLength="17.56" lengthAdjust="spacingAndGlyphs">S28R</text>
<line x1="437.30" y1="126.75" x2="445.10" y2="126.75" stroke="#d43a7c" stroke-width="1.0" opacity="0.75"/>
<circle cx="441.20" cy="126.75" r="1.45" fill="white" stroke="#d43a7c" stroke-width="1.0"/>
<text x="448.60" y="129.43" font-size="7.8" fill="#262626" stroke="#262626" stroke-width="0.15" textLength="17.56" lengthAdjust="spacingAndGlyphs">Q93T</text>
<line x1="437.30" y1="136.00" x2="445.10" y2="136.00" stroke="#4a90c0" stroke-width="1.0" opacity="0.75"/>
<circle cx="441.20" cy="136.00" r="1.2" fill="#4a90c0" stroke="none" stroke-width="1"/>
<text x="448.60" y="138.68" font-size="7.8" fill="#262626" stroke="#262626" stroke-width="0.15" textLength="53.93" lengthAdjust="spacingAndGlyphs">No Ab - APC Only</text>
<rect x="73.60" y="266.90" width="147.10" height="24.40" fill="#e3e1ee"/>
<rect x="49.80" y="283.58" width="9.60" height="7.72" fill="#1a1a1a"/>
<line x1="68.80" y1="266.13" x2="68.80" y2="262.66" stroke="#1e4f8c" stroke-width="0.9"/>
<line x1="66.50" y1="262.66" x2="71.10" y2="262.66" stroke="#1e4f8c" stroke-width="0.9"/>
<rect x="64.00" y="266.13" width="9.60" height="25.17" fill="#1e4f8c"/>
<line x1="83.00" y1="267.52" x2="83.00" y2="267.14" stroke="#c8102e" stroke-width="0.9"/>
<line x1="80.70" y1="267.14" x2="85.30" y2="267.14" stroke="#c8102e" stroke-width="0.9"/>
<rect x="78.20" y="267.52" width="9.60" height="23.78" fill="#c8102e"/>
<line x1="97.20" y1="267.52" x2="97.20" y2="267.14" stroke="#c8102e" stroke-width="0.9"/>
<line x1="94.90" y1="267.14" x2="99.50" y2="267.14" stroke="#c8102e" stroke-width="0.9"/>
<rect x="92.40" y="267.52" width="9.60" height="23.78" fill="#c8102e"/>
<line x1="111.40" y1="266.60" x2="111.40" y2="266.21" stroke="#c8102e" stroke-width="0.9"/>
<line x1="109.10" y1="266.21" x2="113.70" y2="266.21" stroke="#c8102e" stroke-width="0.9"/>
<rect x="106.60" y="266.60" width="9.60" height="24.70" fill="#c8102e"/>
<line x1="125.60" y1="266.60" x2="125.60" y2="266.21" stroke="#c8102e" stroke-width="0.9"/>
<line x1="123.30" y1="266.21" x2="127.90" y2="266.21" stroke="#c8102e" stroke-width="0.9"/>
<rect x="120.80" y="266.60" width="9.60" height="24.70" fill="#c8102e"/>
<line x1="139.80" y1="265.98" x2="139.80" y2="265.36" stroke="#c8102e" stroke-width="0.9"/>
<line x1="137.50" y1="265.36" x2="142.10" y2="265.36" stroke="#c8102e" stroke-width="0.9"/>
<rect x="135.00" y="265.98" width="9.60" height="25.32" fill="#c8102e"/>
<line x1="154.00" y1="263.12" x2="154.00" y2="260.19" stroke="#c8102e" stroke-width="0.9"/>
<line x1="151.70" y1="260.19" x2="156.30" y2="260.19" stroke="#c8102e" stroke-width="0.9"/>
<rect x="149.20" y="263.12" width="9.60" height="28.18" fill="#c8102e"/>
<line x1="168.20" y1="259.88" x2="168.20" y2="257.95" stroke="#c8102e" stroke-width="0.9"/>
<line x1="165.90" y1="257.95" x2="170.50" y2="257.95" stroke="#c8102e" stroke-width="0.9"/>
<rect x="163.40" y="259.88" width="9.60" height="31.42" fill="#c8102e"/>
<line x1="182.40" y1="253.09" x2="182.40" y2="248.84" stroke="#c8102e" stroke-width="0.9"/>
<line x1="180.10" y1="248.84" x2="184.70" y2="248.84" stroke="#c8102e" stroke-width="0.9"/>
<rect x="177.60" y="253.09" width="9.60" height="38.21" fill="#c8102e"/>
<line x1="196.60" y1="252.31" x2="196.60" y2="251.39" stroke="#c8102e" stroke-width="0.9"/>
<line x1="194.30" y1="251.39" x2="198.90" y2="251.39" stroke="#c8102e" stroke-width="0.9"/>
<rect x="191.80" y="252.31" width="9.60" height="38.99" fill="#c8102e"/>
<line x1="210.80" y1="217.96" x2="210.80" y2="207.15" stroke="#c8102e" stroke-width="0.9"/>
<line x1="208.50" y1="207.15" x2="213.10" y2="207.15" stroke="#c8102e" stroke-width="0.9"/>
<rect x="206.00" y="217.96" width="9.60" height="73.34" fill="#c8102e"/>
<line x1="44.90" y1="204.30" x2="44.90" y2="291.80" stroke="#262626" stroke-width="1.1"/>
<line x1="42.10" y1="291.30" x2="44.90" y2="291.30" stroke="#262626" stroke-width="0.9"/>
<text x="39.00" y="293.71" font-size="7.0" fill="#262626" stroke="#262626" stroke-width="0.15" text-anchor="end" textLength="3.7" lengthAdjust="spacingAndGlyphs">0</text>
<line x1="42.10" y1="283.58" x2="44.90" y2="283.58" stroke="#262626" stroke-width="0.9"/>
<text x="39.00" y="285.99" font-size="7.0" fill="#262626" stroke="#262626" stroke-width="0.15" text-anchor="end" textLength="3.7" lengthAdjust="spacingAndGlyphs">1</text>
<line x1="42.10" y1="275.86" x2="44.90" y2="275.86" stroke="#262626" stroke-width="0.9"/>
<text x="39.00" y="278.27" font-size="7.0" fill="#262626" stroke="#262626" stroke-width="0.15" text-anchor="end" textLength="3.7" lengthAdjust="spacingAndGlyphs">2</text>
<line x1="42.10" y1="268.14" x2="44.90" y2="268.14" stroke="#262626" stroke-width="0.9"/>
<text x="39.00" y="270.55" font-size="7.0" fill="#262626" stroke="#262626" stroke-width="0.15" text-anchor="end" textLength="3.7" lengthAdjust="spacingAndGlyphs">3</text>
<line x1="42.10" y1="260.42" x2="44.90" y2="260.42" stroke="#262626" stroke-width="0.9"/>
<text x="39.00" y="262.83" font-size="7.0" fill="#262626" stroke="#262626" stroke-width="0.15" text-anchor="end" textLength="3.7" lengthAdjust="spacingAndGlyphs">4</text>
<line x1="42.10" y1="252.70" x2="44.90" y2="252.70" stroke="#262626" stroke-width="0.9"/>
<text x="39.00" y="255.11" font-size="7.0" fill="#262626" stroke="#262626" stroke-width="0.15" text-anchor="end" textLength="3.7" lengthAdjust="spacingAndGlyphs">5</text>
<line x1="42.10" y1="244.98" x2="44.90" y2="244.98" stroke="#262626" stroke-width="0.9"/>
<text x="39.00" y="247.39" font-size="7.0" fill="#262626" stroke="#262626" stroke-width="0.15" text-anchor="end" textLength="3.7" lengthAdjust="spacingAndGlyphs">6</text>
<line x1="42.10" y1="237.26" x2="44.90" y2="237.26" stroke="#262626" stroke-width="0.9"/>
<text x="39.00" y="239.67" font-size="7.0" fill="#262626" stroke="#262626" stroke-width="0.15" text-anchor="end" textLength="3.7" lengthAdjust="spacingAndGlyphs">7</text>
<line x1="42.10" y1="229.54" x2="44.90" y2="229.54" stroke="#262626" stroke-width="0.9"/>
<text x="39.00" y="231.95" font-size="7.0" fill="#262626" stroke="#262626" stroke-width="0.15" text-anchor="end" textLength="3.7" lengthAdjust="spacingAndGlyphs">8</text>
<line x1="42.10" y1="221.82" x2="44.90" y2="221.82" stroke="#262626" stroke-width="0.9"/>
<text x="39.00" y="224.23" font-size="7.0" fill="#262626" stroke="#262626" stroke-width="0.15" text-anchor="end" textLength="3.7" lengthAdjust="spacingAndGlyphs">9</text>
<line x1="42.10" y1="214.10" x2="44.90" y2="214.10" stroke="#262626" stroke-width="0.9"/>
<text x="39.00" y="216.51" font-size="7.0" fill="#262626" stroke="#262626" stroke-width="0.15" text-anchor="end" textLength="7.4" lengthAdjust="spacingAndGlyphs">10</text>
<line x1="42.10" y1="206.38" x2="44.90" y2="206.38" stroke="#262626" stroke-width="0.9"/>
<text x="39.00" y="208.79" font-size="7.0" fill="#262626" stroke="#262626" stroke-width="0.15" text-anchor="end" textLength="6.9" lengthAdjust="spacingAndGlyphs">11</text>
<line x1="43.70" y1="287.44" x2="44.90" y2="287.44" stroke="#262626" stroke-width="0.8"/>
<line x1="43.70" y1="279.72" x2="44.90" y2="279.72" stroke="#262626" stroke-width="0.8"/>
<line x1="43.70" y1="272.00" x2="44.90" y2="272.00" stroke="#262626" stroke-width="0.8"/>
<line x1="43.70" y1="264.28" x2="44.90" y2="264.28" stroke="#262626" stroke-width="0.8"/>
<line x1="43.70" y1="256.56" x2="44.90" y2="256.56" stroke="#262626" stroke-width="0.8"/>
<line x1="43.70" y1="248.84" x2="44.90" y2="248.84" stroke="#262626" stroke-width="0.8"/>
<line x1="43.70" y1="241.12" x2="44.90" y2="241.12" stroke="#262626" stroke-width="0.8"/>
<line x1="43.70" y1="233.40" x2="44.90" y2="233.40" stroke="#262626" stroke-width="0.8"/>
<line x1="43.70" y1="225.68" x2="44.90" y2="225.68" stroke="#262626" stroke-width="0.8"/>
<line x1="43.70" y1="217.96" x2="44.90" y2="217.96" stroke="#262626" stroke-width="0.8"/>
<line x1="43.70" y1="210.24" x2="44.90" y2="210.24" stroke="#262626" stroke-width="0.8"/>
<line x1="220.70" y1="206.60" x2="220.70" y2="291.80" stroke="#262626" stroke-width="1.1"/>
<line x1="220.70" y1="291.30" x2="223.50" y2="291.30" stroke="#262626" stroke-width="0.9"/>
<line x1="220.70" y1="289.11" x2="222.20" y2="289.11" stroke="#262626" stroke-width="0.7"/>
<line x1="220.70" y1="286.93" x2="222.20" y2="286.93" stroke="#262626" stroke-width="0.7"/>
<line x1="220.70" y1="284.74" x2="222.20" y2="284.74" stroke="#262626" stroke-width="0.7"/>
<line x1="220.70" y1="282.56" x2="222.20" y2="282.56" stroke="#262626" stroke-width="0.7"/>
<line x1="220.70" y1="280.37" x2="223.50" y2="280.37" stroke="#262626" stroke-width="0.9"/>
<line x1="220.70" y1="278.18" x2="222.20" y2="278.18" stroke="#262626" stroke-width="0.7"/>
<line x1="220.70" y1="276.00" x2="222.20" y2="276.00" stroke="#262626" stroke-width="0.7"/>
<line x1="220.70" y1="273.81" x2="222.20" y2="273.81" stroke="#262626" stroke-width="0.7"/>
<line x1="220.70" y1="271.63" x2="222.20" y2="271.63" stroke="#262626" stroke-width="0.7"/>
<line x1="220.70" y1="269.44" x2="223.50" y2="269.44" stroke="#262626" stroke-width="0.9"/>
<line x1="220.70" y1="267.25" x2="222.20" y2="267.25" stroke="#262626" stroke-width="0.7"/>
<line x1="220.70" y1="265.07" x2="222.20" y2="265.07" stroke="#262626" stroke-width="0.7"/>
<line x1="220.70" y1="262.88" x2="222.20" y2="262.88" stroke="#262626" stroke-width="0.7"/>
<line x1="220.70" y1="260.70" x2="222.20" y2="260.70" stroke="#262626" stroke-width="0.7"/>
<line x1="220.70" y1="258.51" x2="223.50" y2="258.51" stroke="#262626" stroke-width="0.9"/>
<line x1="220.70" y1="256.32" x2="222.20" y2="256.32" stroke="#262626" stroke-width="0.7"/>
<line x1="220.70" y1="254.14" x2="222.20" y2="254.14" stroke="#262626" stroke-width="0.7"/>
<line x1="220.70" y1="251.95" x2="222.20" y2="251.95" stroke="#262626" stroke-width="0.7"/>
<line x1="220.70" y1="249.77" x2="222.20" y2="249.77" stroke="#262626" stroke-width="0.7"/>
<line x1="220.70" y1="247.58" x2="223.50" y2="247.58" stroke="#262626" stroke-width="0.9"/>
<line x1="220.70" y1="245.39" x2="222.20" y2="245.39" stroke="#262626" stroke-width="0.7"/>
<line x1="220.70" y1="243.21" x2="222.20" y2="243.21" stroke="#262626" stroke-width="0.7"/>
<line x1="220.70" y1="241.02" x2="222.20" y2="241.02" stroke="#262626" stroke-width="0.7"/>
<line x1="220.70" y1="238.84" x2="222.20" y2="238.84" stroke="#262626" stroke-width="0.7"/>
<line x1="220.70" y1="236.65" x2="223.50" y2="236.65" stroke="#262626" stroke-width="0.9"/>
<line x1="220.70" y1="234.46" x2="222.20" y2="234.46" stroke="#262626" stroke-width="0.7"/>
<line x1="220.70" y1="232.28" x2="222.20" y2="232.28" stroke="#262626" stroke-width="0.7"/>
<line x1="220.70" y1="230.09" x2="222.20" y2="230.09" stroke="#262626" stroke-width="0.7"/>
<line x1="220.70" y1="227.91" x2="222.20" y2="227.91" stroke="#262626" stroke-width="0.7"/>
<line x1="220.70" y1="225.72" x2="223.50" y2="225.72" stroke="#262626" stroke-width="0.9"/>
<line x1="220.70" y1="223.53" x2="222.20" y2="223.53" stroke="#262626" stroke-width="0.7"/>
<line x1="220.70" y1="221.35" x2="222.20" y2="221.35" stroke="#262626" stroke-width="0.7"/>
<line x1="220.70" y1="219.16" x2="222.20" y2="219.16" stroke="#262626" stroke-width="0.7"/>
<line x1="220.70" y1="216.98" x2="222.20" y2="216.98" stroke="#262626" stroke-width="0.7"/>
<line x1="220.70" y1="214.79" x2="223.50" y2="214.79" stroke="#262626" stroke-width="0.9"/>
<line x1="220.70" y1="212.60" x2="222.20" y2="212.60" stroke="#262626" stroke-width="0.7"/>
<line x1="220.70" y1="210.42" x2="222.20" y2="210.42" stroke="#262626" stroke-width="0.7"/>
<line x1="220.70" y1="208.23" x2="222.20" y2="208.23" stroke="#262626" stroke-width="0.7"/>
<text x="226.40" y="293.85" font-size="7.4" fill="#262626" stroke="#262626" stroke-width="0.15" textLength="4.32" lengthAdjust="spacingAndGlyphs">0</text>
<text x="226.40" y="282.92" font-size="7.4" fill="#262626" stroke="#262626" stroke-width="0.15" textLength="8.64" lengthAdjust="spacingAndGlyphs">50</text>
<text x="226.40" y="271.99" font-size="7.4" fill="#262626" stroke="#262626" stroke-width="0.15" textLength="12.96" lengthAdjust="spacingAndGlyphs">100</text>
<text x="226.40" y="261.06" font-size="7.4" fill="#262626" stroke="#262626" stroke-width="0.15" textLength="12.96" lengthAdjust="spacingAndGlyphs">150</text>
<text x="226.40" y="250.13" font-size="7.4" fill="#262626" stroke="#262626" stroke-width="0.15" textLength="12.96" lengthAdjust="spacingAndGlyphs">200</text>
<text x="226.40" y="239.20" font-size="7.4" fill="#262626" stroke="#262626" stroke-width="0.15" textLength="12.96" lengthAdjust="spacingAndGlyphs">250</text>
<text x="226.40" y="228.27" font-size="7.4" fill="#262626" stroke="#262626" stroke-width="0.15" textLength="12.96" lengthAdjust="spacingAndGlyphs">300</text>
<text x="226.40" y="217.34" font-size="7.4" fill="#262626" stroke="#262626" stroke-width="0.15" textLength="12.96" lengthAdjust="spacingAndGlyphs">350</text>
<line x1="44.40" y1="291.30" x2="221.20" y2="291.30" stroke="#262626" stroke-width="1.1"/>
<line x1="54.60" y1="291.30" x2="54.60" y2="293.80" stroke="#262626" stroke-width="0.9"/>
<line x1="68.80" y1="291.30" x2="68.80" y2="293.80" stroke="#262626" stroke-width="0.9"/>
<line x1="83.00" y1="291.30" x2="83.00" y2="293.80" stroke="#262626" stroke-width="0.9"/>
<line x1="97.20" y1="291.30" x2="97.20" y2="293.80" stroke="#262626" stroke-width="0.9"/>
<line x1="111.40" y1="291.30" x2="111.40" y2="293.80" stroke="#262626" stroke-width="0.9"/>
<line x1="125.60" y1="291.30" x2="125.60" y2="293.80" stroke="#262626" stroke-width="0.9"/>
<line x1="139.80" y1="291.30" x2="139.80" y2="293.80" stroke="#262626" stroke-width="0.9"/>
<line x1="154.00" y1="291.30" x2="154.00" y2="293.80" stroke="#262626" stroke-width="0.9"/>
<line x1="168.20" y1="291.30" x2="168.20" y2="293.80" stroke="#262626" stroke-width="0.9"/>
<line x1="182.40" y1="291.30" x2="182.40" y2="293.80" stroke="#262626" stroke-width="0.9"/>
<line x1="196.60" y1="291.30" x2="196.60" y2="293.80" stroke="#262626" stroke-width="0.9"/>
<line x1="210.80" y1="291.30" x2="210.80" y2="293.80" stroke="#262626" stroke-width="0.9"/>
<text transform="translate(54.10,297.60) rotate(-90)" x="0" y="2.61" font-size="7.6" fill="#262626" stroke="#262626" stroke-width="0.15" text-anchor="end" textLength="19.88" lengthAdjust="spacingAndGlyphs">No Ab</text>
<text transform="translate(64.10,297.60) rotate(-90)" x="0" y="2.61" font-size="7.6" fill="#262626" stroke="#262626" stroke-width="0.15" text-anchor="end" textLength="31.2" lengthAdjust="spacingAndGlyphs">TPP-26870</text>
<text transform="translate(72.80,297.60) rotate(-90)" x="0" y="2.61" font-size="7.6" fill="#262626" stroke="#262626" stroke-width="0.15" text-anchor="end" textLength="30.4" lengthAdjust="spacingAndGlyphs">(Parental)</text>
<text transform="translate(82.50,297.60) rotate(-90)" x="0" y="2.61" font-size="7.6" fill="#262626" stroke="#262626" stroke-width="0.15" text-anchor="end" textLength="17.44" lengthAdjust="spacingAndGlyphs">S53T</text>
<text transform="translate(96.70,297.60) rotate(-90)" x="0" y="2.61" font-size="7.6" fill="#262626" stroke="#262626" stroke-width="0.15" text-anchor="end" textLength="17.44" lengthAdjust="spacingAndGlyphs">Y32F</text>
<text transform="translate(110.90,297.60) rotate(-90)" x="0" y="2.61" font-size="7.6" fill="#262626" stroke="#262626" stroke-width="0.15" text-anchor="end" textLength="18.25" lengthAdjust="spacingAndGlyphs">S56R</text>
<text transform="translate(125.10,297.60) rotate(-90)" x="0" y="2.61" font-size="7.6" fill="#262626" stroke="#262626" stroke-width="0.15" text-anchor="end" textLength="17.44" lengthAdjust="spacingAndGlyphs">T57P</text>
<text transform="translate(139.30,297.60) rotate(-90)" x="0" y="2.61" font-size="7.6" fill="#262626" stroke="#262626" stroke-width="0.15" text-anchor="end" textLength="18.25" lengthAdjust="spacingAndGlyphs">S54R</text>
<text transform="translate(153.50,297.60) rotate(-90)" x="0" y="2.61" font-size="7.6" fill="#262626" stroke="#262626" stroke-width="0.15" text-anchor="end" textLength="22.71" lengthAdjust="spacingAndGlyphs">F103M</text>
<text transform="translate(167.70,297.60) rotate(-90)" x="0" y="2.61" font-size="7.6" fill="#262626" stroke="#262626" stroke-width="0.15" text-anchor="end" textLength="15.41" lengthAdjust="spacingAndGlyphs">N31I</text>
<text transform="translate(181.90,297.60) rotate(-90)" x="0" y="2.61" font-size="7.6" fill="#262626" stroke="#262626" stroke-width="0.15" text-anchor="end" textLength="18.25" lengthAdjust="spacingAndGlyphs">N31P</text>
<text transform="translate(196.10,297.60) rotate(-90)" x="0" y="2.61" font-size="7.6" fill="#262626" stroke="#262626" stroke-width="0.15" text-anchor="end" textLength="18.65" lengthAdjust="spacingAndGlyphs">M34F</text>
<text transform="translate(210.30,297.60) rotate(-90)" x="0" y="2.61" font-size="7.6" fill="#262626" stroke="#262626" stroke-width="0.15" text-anchor="end" textLength="17.84" lengthAdjust="spacingAndGlyphs">N31F</text>
<line x1="78.30" y1="323.60" x2="215.60" y2="323.60" stroke="#505050" stroke-width="1.0"/>
<text x="102.90" y="333.00" font-size="7.6" fill="#262626">V<tspan font-size="5.2" dy="1.8">H</tspan><tspan dy="-1.8" textLength="80.10" lengthAdjust="spacingAndGlyphs"> Amino Acid Substitution</tspan></text>
<text transform="translate(11.90,247.00) rotate(-90)" x="0" y="2.92" font-size="8.5" fill="#262626" font-weight="bold" text-anchor="middle" textLength="36" lengthAdjust="spacingAndGlyphs">APC half-life</text>
<text transform="translate(22.00,247.00) rotate(-90)" x="0" y="2.75" font-size="8.0" fill="#262626" font-weight="bold" text-anchor="middle" textLength="98.3" lengthAdjust="spacingAndGlyphs">(fold over plasma control +/- SEM)</text>
<text transform="translate(247.90,247.80) rotate(90)" x="0" y="2.82" font-size="8.2" fill="#262626" font-weight="bold" text-anchor="middle" textLength="51.4" lengthAdjust="spacingAndGlyphs">APC half-life (min)</text>
<rect x="332.15" y="266.90" width="149.05" height="24.40" fill="#e3e1ee"/>
<rect x="310.40" y="283.58" width="8.60" height="7.72" fill="#1a1a1a"/>
<line x1="327.85" y1="266.13" x2="327.85" y2="262.66" stroke="#1e4f8c" stroke-width="0.9"/>
<line x1="325.55" y1="262.66" x2="330.15" y2="262.66" stroke="#1e4f8c" stroke-width="0.9"/>
<rect x="323.55" y="266.13" width="8.60" height="25.17" fill="#1e4f8c"/>
<line x1="341.00" y1="271.85" x2="341.00" y2="271.46" stroke="#c8102e" stroke-width="0.9"/>
<line x1="338.70" y1="271.46" x2="343.30" y2="271.46" stroke="#c8102e" stroke-width="0.9"/>
<rect x="336.70" y="271.85" width="8.60" height="19.45" fill="#c8102e"/>
<line x1="354.15" y1="270.46" x2="354.15" y2="270.07" stroke="#c8102e" stroke-width="0.9"/>
<line x1="351.85" y1="270.07" x2="356.45" y2="270.07" stroke="#c8102e" stroke-width="0.9"/>
<rect x="349.85" y="270.46" width="8.60" height="20.84" fill="#c8102e"/>
<line x1="367.30" y1="270.46" x2="367.30" y2="270.07" stroke="#c8102e" stroke-width="0.9"/>
<line x1="365.00" y1="270.07" x2="369.60" y2="270.07" stroke="#c8102e" stroke-width="0.9"/>
<rect x="363.00" y="270.46" width="8.60" height="20.84" fill="#c8102e"/>
<line x1="380.45" y1="266.60" x2="380.45" y2="266.21" stroke="#c8102e" stroke-width="0.9"/>
<line x1="378.15" y1="266.21" x2="382.75" y2="266.21" stroke="#c8102e" stroke-width="0.9"/>
<rect x="376.15" y="266.60" width="8.60" height="24.70" fill="#c8102e"/>
<line x1="393.60" y1="261.66" x2="393.60" y2="258.88" stroke="#c8102e" stroke-width="0.9"/>
<line x1="391.30" y1="258.88" x2="395.90" y2="258.88" stroke="#c8102e" stroke-width="0.9"/>
<rect x="389.30" y="261.66" width="8.60" height="29.64" fill="#c8102e"/>
<line x1="406.75" y1="260.81" x2="406.75" y2="258.49" stroke="#c8102e" stroke-width="0.9"/>
<line x1="404.45" y1="258.49" x2="409.05" y2="258.49" stroke="#c8102e" stroke-width="0.9"/>
<rect x="402.45" y="260.81" width="8.60" height="30.49" fill="#c8102e"/>
<line x1="419.90" y1="260.03" x2="419.90" y2="258.88" stroke="#c8102e" stroke-width="0.9"/>
<line x1="417.60" y1="258.88" x2="422.20" y2="258.88" stroke="#c8102e" stroke-width="0.9"/>
<rect x="415.60" y="260.03" width="8.60" height="31.27" fill="#c8102e"/>
<line x1="433.05" y1="258.64" x2="433.05" y2="257.87" stroke="#c8102e" stroke-width="0.9"/>
<line x1="430.75" y1="257.87" x2="435.35" y2="257.87" stroke="#c8102e" stroke-width="0.9"/>
<rect x="428.75" y="258.64" width="8.60" height="32.66" fill="#c8102e"/>
<line x1="446.20" y1="250.77" x2="446.20" y2="248.30" stroke="#c8102e" stroke-width="0.9"/>
<line x1="443.90" y1="248.30" x2="448.50" y2="248.30" stroke="#c8102e" stroke-width="0.9"/>
<rect x="441.90" y="250.77" width="8.60" height="40.53" fill="#c8102e"/>
<line x1="459.35" y1="248.99" x2="459.35" y2="245.75" stroke="#c8102e" stroke-width="0.9"/>
<line x1="457.05" y1="245.75" x2="461.65" y2="245.75" stroke="#c8102e" stroke-width="0.9"/>
<rect x="455.05" y="248.99" width="8.60" height="42.31" fill="#c8102e"/>
<line x1="472.50" y1="248.30" x2="472.50" y2="245.06" stroke="#c8102e" stroke-width="0.9"/>
<line x1="470.20" y1="245.06" x2="474.80" y2="245.06" stroke="#c8102e" stroke-width="0.9"/>
<rect x="468.20" y="248.30" width="8.60" height="43.00" fill="#c8102e"/>
<line x1="305.40" y1="204.30" x2="305.40" y2="291.80" stroke="#262626" stroke-width="1.1"/>
<line x1="302.60" y1="291.30" x2="305.40" y2="291.30" stroke="#262626" stroke-width="0.9"/>
<text x="299.50" y="293.71" font-size="7.0" fill="#262626" stroke="#262626" stroke-width="0.15" text-anchor="end" textLength="3.7" lengthAdjust="spacingAndGlyphs">0</text>
<line x1="302.60" y1="283.58" x2="305.40" y2="283.58" stroke="#262626" stroke-width="0.9"/>
<text x="299.50" y="285.99" font-size="7.0" fill="#262626" stroke="#262626" stroke-width="0.15" text-anchor="end" textLength="3.7" lengthAdjust="spacingAndGlyphs">1</text>
<line x1="302.60" y1="275.86" x2="305.40" y2="275.86" stroke="#262626" stroke-width="0.9"/>
<text x="299.50" y="278.27" font-size="7.0" fill="#262626" stroke="#262626" stroke-width="0.15" text-anchor="end" textLength="3.7" lengthAdjust="spacingAndGlyphs">2</text>
<line x1="302.60" y1="268.14" x2="305.40" y2="268.14" stroke="#262626" stroke-width="0.9"/>
<text x="299.50" y="270.55" font-size="7.0" fill="#262626" stroke="#262626" stroke-width="0.15" text-anchor="end" textLength="3.7" lengthAdjust="spacingAndGlyphs">3</text>
<line x1="302.60" y1="260.42" x2="305.40" y2="260.42" stroke="#262626" stroke-width="0.9"/>
<text x="299.50" y="262.83" font-size="7.0" fill="#262626" stroke="#262626" stroke-width="0.15" text-anchor="end" textLength="3.7" lengthAdjust="spacingAndGlyphs">4</text>
<line x1="302.60" y1="252.70" x2="305.40" y2="252.70" stroke="#262626" stroke-width="0.9"/>
<text x="299.50" y="255.11" font-size="7.0" fill="#262626" stroke="#262626" stroke-width="0.15" text-anchor="end" textLength="3.7" lengthAdjust="spacingAndGlyphs">5</text>
<line x1="302.60" y1="244.98" x2="305.40" y2="244.98" stroke="#262626" stroke-width="0.9"/>
<text x="299.50" y="247.39" font-size="7.0" fill="#262626" stroke="#262626" stroke-width="0.15" text-anchor="end" textLength="3.7" lengthAdjust="spacingAndGlyphs">6</text>
<line x1="302.60" y1="237.26" x2="305.40" y2="237.26" stroke="#262626" stroke-width="0.9"/>
<text x="299.50" y="239.67" font-size="7.0" fill="#262626" stroke="#262626" stroke-width="0.15" text-anchor="end" textLength="3.7" lengthAdjust="spacingAndGlyphs">7</text>
<line x1="302.60" y1="229.54" x2="305.40" y2="229.54" stroke="#262626" stroke-width="0.9"/>
<text x="299.50" y="231.95" font-size="7.0" fill="#262626" stroke="#262626" stroke-width="0.15" text-anchor="end" textLength="3.7" lengthAdjust="spacingAndGlyphs">8</text>
<line x1="302.60" y1="221.82" x2="305.40" y2="221.82" stroke="#262626" stroke-width="0.9"/>
<text x="299.50" y="224.23" font-size="7.0" fill="#262626" stroke="#262626" stroke-width="0.15" text-anchor="end" textLength="3.7" lengthAdjust="spacingAndGlyphs">9</text>
<line x1="302.60" y1="214.10" x2="305.40" y2="214.10" stroke="#262626" stroke-width="0.9"/>
<text x="299.50" y="216.51" font-size="7.0" fill="#262626" stroke="#262626" stroke-width="0.15" text-anchor="end" textLength="7.4" lengthAdjust="spacingAndGlyphs">10</text>
<line x1="302.60" y1="206.38" x2="305.40" y2="206.38" stroke="#262626" stroke-width="0.9"/>
<text x="299.50" y="208.79" font-size="7.0" fill="#262626" stroke="#262626" stroke-width="0.15" text-anchor="end" textLength="6.9" lengthAdjust="spacingAndGlyphs">11</text>
<line x1="304.20" y1="287.44" x2="305.40" y2="287.44" stroke="#262626" stroke-width="0.8"/>
<line x1="304.20" y1="279.72" x2="305.40" y2="279.72" stroke="#262626" stroke-width="0.8"/>
<line x1="304.20" y1="272.00" x2="305.40" y2="272.00" stroke="#262626" stroke-width="0.8"/>
<line x1="304.20" y1="264.28" x2="305.40" y2="264.28" stroke="#262626" stroke-width="0.8"/>
<line x1="304.20" y1="256.56" x2="305.40" y2="256.56" stroke="#262626" stroke-width="0.8"/>
<line x1="304.20" y1="248.84" x2="305.40" y2="248.84" stroke="#262626" stroke-width="0.8"/>
<line x1="304.20" y1="241.12" x2="305.40" y2="241.12" stroke="#262626" stroke-width="0.8"/>
<line x1="304.20" y1="233.40" x2="305.40" y2="233.40" stroke="#262626" stroke-width="0.8"/>
<line x1="304.20" y1="225.68" x2="305.40" y2="225.68" stroke="#262626" stroke-width="0.8"/>
<line x1="304.20" y1="217.96" x2="305.40" y2="217.96" stroke="#262626" stroke-width="0.8"/>
<line x1="304.20" y1="210.24" x2="305.40" y2="210.24" stroke="#262626" stroke-width="0.8"/>
<line x1="481.20" y1="206.60" x2="481.20" y2="291.80" stroke="#262626" stroke-width="1.1"/>
<line x1="481.20" y1="291.30" x2="484.00" y2="291.30" stroke="#262626" stroke-width="0.9"/>
<line x1="481.20" y1="289.11" x2="482.70" y2="289.11" stroke="#262626" stroke-width="0.7"/>
<line x1="481.20" y1="286.93" x2="482.70" y2="286.93" stroke="#262626" stroke-width="0.7"/>
<line x1="481.20" y1="284.74" x2="482.70" y2="284.74" stroke="#262626" stroke-width="0.7"/>
<line x1="481.20" y1="282.56" x2="482.70" y2="282.56" stroke="#262626" stroke-width="0.7"/>
<line x1="481.20" y1="280.37" x2="484.00" y2="280.37" stroke="#262626" stroke-width="0.9"/>
<line x1="481.20" y1="278.18" x2="482.70" y2="278.18" stroke="#262626" stroke-width="0.7"/>
<line x1="481.20" y1="276.00" x2="482.70" y2="276.00" stroke="#262626" stroke-width="0.7"/>
<line x1="481.20" y1="273.81" x2="482.70" y2="273.81" stroke="#262626" stroke-width="0.7"/>
<line x1="481.20" y1="271.63" x2="482.70" y2="271.63" stroke="#262626" stroke-width="0.7"/>
<line x1="481.20" y1="269.44" x2="484.00" y2="269.44" stroke="#262626" stroke-width="0.9"/>
<line x1="481.20" y1="267.25" x2="482.70" y2="267.25" stroke="#262626" stroke-width="0.7"/>
<line x1="481.20" y1="265.07" x2="482.70" y2="265.07" stroke="#262626" stroke-width="0.7"/>
<line x1="481.20" y1="262.88" x2="482.70" y2="262.88" stroke="#262626" stroke-width="0.7"/>
<line x1="481.20" y1="260.70" x2="482.70" y2="260.70" stroke="#262626" stroke-width="0.7"/>
<line x1="481.20" y1="258.51" x2="484.00" y2="258.51" stroke="#262626" stroke-width="0.9"/>
<line x1="481.20" y1="256.32" x2="482.70" y2="256.32" stroke="#262626" stroke-width="0.7"/>
<line x1="481.20" y1="254.14" x2="482.70" y2="254.14" stroke="#262626" stroke-width="0.7"/>
<line x1="481.20" y1="251.95" x2="482.70" y2="251.95" stroke="#262626" stroke-width="0.7"/>
<line x1="481.20" y1="249.77" x2="482.70" y2="249.77" stroke="#262626" stroke-width="0.7"/>
<line x1="481.20" y1="247.58" x2="484.00" y2="247.58" stroke="#262626" stroke-width="0.9"/>
<line x1="481.20" y1="245.39" x2="482.70" y2="245.39" stroke="#262626" stroke-width="0.7"/>
<line x1="481.20" y1="243.21" x2="482.70" y2="243.21" stroke="#262626" stroke-width="0.7"/>
<line x1="481.20" y1="241.02" x2="482.70" y2="241.02" stroke="#262626" stroke-width="0.7"/>
<line x1="481.20" y1="238.84" x2="482.70" y2="238.84" stroke="#262626" stroke-width="0.7"/>
<line x1="481.20" y1="236.65" x2="484.00" y2="236.65" stroke="#262626" stroke-width="0.9"/>
<line x1="481.20" y1="234.46" x2="482.70" y2="234.46" stroke="#262626" stroke-width="0.7"/>
<line x1="481.20" y1="232.28" x2="482.70" y2="232.28" stroke="#262626" stroke-width="0.7"/>
<line x1="481.20" y1="230.09" x2="482.70" y2="230.09" stroke="#262626" stroke-width="0.7"/>
<line x1="481.20" y1="227.91" x2="482.70" y2="227.91" stroke="#262626" stroke-width="0.7"/>
<line x1="481.20" y1="225.72" x2="484.00" y2="225.72" stroke="#262626" stroke-width="0.9"/>
<line x1="481.20" y1="223.53" x2="482.70" y2="223.53" stroke="#262626" stroke-width="0.7"/>
<line x1="481.20" y1="221.35" x2="482.70" y2="221.35" stroke="#262626" stroke-width="0.7"/>
<line x1="481.20" y1="219.16" x2="482.70" y2="219.16" stroke="#262626" stroke-width="0.7"/>
<line x1="481.20" y1="216.98" x2="482.70" y2="216.98" stroke="#262626" stroke-width="0.7"/>
<line x1="481.20" y1="214.79" x2="484.00" y2="214.79" stroke="#262626" stroke-width="0.9"/>
<line x1="481.20" y1="212.60" x2="482.70" y2="212.60" stroke="#262626" stroke-width="0.7"/>
<line x1="481.20" y1="210.42" x2="482.70" y2="210.42" stroke="#262626" stroke-width="0.7"/>
<line x1="481.20" y1="208.23" x2="482.70" y2="208.23" stroke="#262626" stroke-width="0.7"/>
<text x="486.90" y="293.85" font-size="7.4" fill="#262626" stroke="#262626" stroke-width="0.15" textLength="4.32" lengthAdjust="spacingAndGlyphs">0</text>
<text x="486.90" y="282.92" font-size="7.4" fill="#262626" stroke="#262626" stroke-width="0.15" textLength="8.64" lengthAdjust="spacingAndGlyphs">50</text>
<text x="486.90" y="271.99" font-size="7.4" fill="#262626" stroke="#262626" stroke-width="0.15" textLength="12.96" lengthAdjust="spacingAndGlyphs">100</text>
<text x="486.90" y="261.06" font-size="7.4" fill="#262626" stroke="#262626" stroke-width="0.15" textLength="12.96" lengthAdjust="spacingAndGlyphs">150</text>
<text x="486.90" y="250.13" font-size="7.4" fill="#262626" stroke="#262626" stroke-width="0.15" textLength="12.96" lengthAdjust="spacingAndGlyphs">200</text>
<text x="486.90" y="239.20" font-size="7.4" fill="#262626" stroke="#262626" stroke-width="0.15" textLength="12.96" lengthAdjust="spacingAndGlyphs">250</text>
<text x="486.90" y="228.27" font-size="7.4" fill="#262626" stroke="#262626" stroke-width="0.15" textLength="12.96" lengthAdjust="spacingAndGlyphs">300</text>
<text x="486.90" y="217.34" font-size="7.4" fill="#262626" stroke="#262626" stroke-width="0.15" textLength="12.96" lengthAdjust="spacingAndGlyphs">350</text>
<line x1="304.90" y1="291.30" x2="481.70" y2="291.30" stroke="#262626" stroke-width="1.1"/>
<line x1="314.70" y1="291.30" x2="314.70" y2="293.80" stroke="#262626" stroke-width="0.9"/>
<line x1="327.85" y1="291.30" x2="327.85" y2="293.80" stroke="#262626" stroke-width="0.9"/>
<line x1="341.00" y1="291.30" x2="341.00" y2="293.80" stroke="#262626" stroke-width="0.9"/>
<line x1="354.15" y1="291.30" x2="354.15" y2="293.80" stroke="#262626" stroke-width="0.9"/>
<line x1="367.30" y1="291.30" x2="367.30" y2="293.80" stroke="#262626" stroke-width="0.9"/>
<line x1="380.45" y1="291.30" x2="380.45" y2="293.80" stroke="#262626" stroke-width="0.9"/>
<line x1="393.60" y1="291.30" x2="393.60" y2="293.80" stroke="#262626" stroke-width="0.9"/>
<line x1="406.75" y1="291.30" x2="406.75" y2="293.80" stroke="#262626" stroke-width="0.9"/>
<line x1="419.90" y1="291.30" x2="419.90" y2="293.80" stroke="#262626" stroke-width="0.9"/>
<line x1="433.05" y1="291.30" x2="433.05" y2="293.80" stroke="#262626" stroke-width="0.9"/>
<line x1="446.20" y1="291.30" x2="446.20" y2="293.80" stroke="#262626" stroke-width="0.9"/>
<line x1="459.35" y1="291.30" x2="459.35" y2="293.80" stroke="#262626" stroke-width="0.9"/>
<line x1="472.50" y1="291.30" x2="472.50" y2="293.80" stroke="#262626" stroke-width="0.9"/>
<text transform="translate(314.20,297.60) rotate(-90)" x="0" y="2.61" font-size="7.6" fill="#262626" stroke="#262626" stroke-width="0.15" text-anchor="end" textLength="19.88" lengthAdjust="spacingAndGlyphs">No Ab</text>
<text transform="translate(321.85,297.60) rotate(-90)" x="0" y="2.61" font-size="7.6" fill="#262626" stroke="#262626" stroke-width="0.15" text-anchor="end" textLength="31.2" lengthAdjust="spacingAndGlyphs">TPP-26870</text>
<text transform="translate(332.25,297.60) rotate(-90)" x="0" y="2.61" font-size="7.6" fill="#262626" stroke="#262626" stroke-width="0.15" text-anchor="end" textLength="30.4" lengthAdjust="spacingAndGlyphs">(Parental)</text>
<text transform="translate(340.50,297.60) rotate(-90)" x="0" y="2.61" font-size="7.6" fill="#262626" stroke="#262626" stroke-width="0.15" text-anchor="end" textLength="18.25" lengthAdjust="spacingAndGlyphs">Q93T</text>
<text transform="translate(353.65,297.60) rotate(-90)" x="0" y="2.61" font-size="7.6" fill="#262626" stroke="#262626" stroke-width="0.15" text-anchor="end" textLength="18.25" lengthAdjust="spacingAndGlyphs">S56R</text>
<text transform="translate(366.80,297.60) rotate(-90)" x="0" y="2.61" font-size="7.6" fill="#262626" stroke="#262626" stroke-width="0.15" text-anchor="end" textLength="18.25" lengthAdjust="spacingAndGlyphs">S28R</text>
<text transform="translate(379.95,297.60) rotate(-90)" x="0" y="2.61" font-size="7.6" fill="#262626" stroke="#262626" stroke-width="0.15" text-anchor="end" textLength="18.65" lengthAdjust="spacingAndGlyphs">N57H</text>
<text transform="translate(393.10,297.60) rotate(-90)" x="0" y="2.61" font-size="7.6" fill="#262626" stroke="#262626" stroke-width="0.15" text-anchor="end" textLength="21.5" lengthAdjust="spacingAndGlyphs">Y100F</text>
<text transform="translate(406.25,297.60) rotate(-90)" x="0" y="2.61" font-size="7.6" fill="#262626" stroke="#262626" stroke-width="0.15" text-anchor="end" textLength="18.66" lengthAdjust="spacingAndGlyphs">Q27E</text>
<text transform="translate(419.40,297.60) rotate(-90)" x="0" y="2.61" font-size="7.6" fill="#262626" stroke="#262626" stroke-width="0.15" text-anchor="end" textLength="18.65" lengthAdjust="spacingAndGlyphs">N57R</text>
<text transform="translate(432.55,297.60) rotate(-90)" x="0" y="2.61" font-size="7.6" fill="#262626" stroke="#262626" stroke-width="0.15" text-anchor="end" textLength="17.85" lengthAdjust="spacingAndGlyphs">A55K</text>
<text transform="translate(445.70,297.60) rotate(-90)" x="0" y="2.61" font-size="7.6" fill="#262626" stroke="#262626" stroke-width="0.15" text-anchor="end" textLength="24.92" lengthAdjust="spacingAndGlyphs">Y100W</text>
<text transform="translate(458.85,297.60) rotate(-90)" x="0" y="2.61" font-size="7.6" fill="#262626" stroke="#262626" stroke-width="0.15" text-anchor="end" textLength="20.7" lengthAdjust="spacingAndGlyphs">S56W</text>
<text transform="translate(472.00,297.60) rotate(-90)" x="0" y="2.61" font-size="7.6" fill="#262626" stroke="#262626" stroke-width="0.15" text-anchor="end" textLength="21.12" lengthAdjust="spacingAndGlyphs">N57W</text>
<line x1="338.50" y1="325.80" x2="476.50" y2="325.80" stroke="#505050" stroke-width="1.0"/>
<text x="364.40" y="334.90" font-size="7.6" fill="#262626">V<tspan font-size="5.2" dy="1.8">L</tspan><tspan dy="-1.8" textLength="78.70" lengthAdjust="spacingAndGlyphs"> Amino Acid Substitution</tspan></text>
<text transform="translate(272.40,247.00) rotate(-90)" x="0" y="2.92" font-size="8.5" fill="#262626" font-weight="bold" text-anchor="middle" textLength="36" lengthAdjust="spacingAndGlyphs">APC half-life</text>
<text transform="translate(282.50,247.00) rotate(-90)" x="0" y="2.75" font-size="8.0" fill="#262626" font-weight="bold" text-anchor="middle" textLength="98.3" lengthAdjust="spacingAndGlyphs">(fold over plasma control +/- SEM)</text>
<text transform="translate(508.40,247.80) rotate(90)" x="0" y="2.82" font-size="8.2" fill="#262626" font-weight="bold" text-anchor="middle" textLength="51.4" lengthAdjust="spacingAndGlyphs">APC half-life (min)</text>
<text x="160.60" y="363.4" font-size="9" fill="#262626" text-anchor="middle">V<tspan font-size="6.6" dy="1.5">H</tspan><tspan dy="-1.5"> Amino Acid Substitutions</tspan></text>
<text x="160.60" y="373.90" font-size="9" fill="#262626" stroke="#262626" stroke-width="0.15" text-anchor="middle" textLength="68.6" lengthAdjust="spacingAndGlyphs">in Different CDRs</text>
<line x1="71.30" y1="379.00" x2="71.30" y2="505.90" stroke="#262626" stroke-width="1.1"/>
<line x1="68.30" y1="505.40" x2="71.30" y2="505.40" stroke="#262626" stroke-width="0.9"/>
<text x="66.10" y="508.01" font-size="7.6" fill="#262626" stroke="#262626" stroke-width="0.15" text-anchor="end" textLength="3.9" lengthAdjust="spacingAndGlyphs">0</text>
<line x1="68.30" y1="493.02" x2="71.30" y2="493.02" stroke="#262626" stroke-width="0.9"/>
<text x="66.10" y="495.63" font-size="7.6" fill="#262626" stroke="#262626" stroke-width="0.15" text-anchor="end" textLength="3.9" lengthAdjust="spacingAndGlyphs">1</text>
<line x1="68.30" y1="480.64" x2="71.30" y2="480.64" stroke="#262626" stroke-width="0.9"/>
<text x="66.10" y="483.25" font-size="7.6" fill="#262626" stroke="#262626" stroke-width="0.15" text-anchor="end" textLength="3.9" lengthAdjust="spacingAndGlyphs">2</text>
<line x1="68.30" y1="468.26" x2="71.30" y2="468.26" stroke="#262626" stroke-width="0.9"/>
<text x="66.10" y="470.87" font-size="7.6" fill="#262626" stroke="#262626" stroke-width="0.15" text-anchor="end" textLength="3.9" lengthAdjust="spacingAndGlyphs">3</text>
<line x1="68.30" y1="455.88" x2="71.30" y2="455.88" stroke="#262626" stroke-width="0.9"/>
<text x="66.10" y="458.49" font-size="7.6" fill="#262626" stroke="#262626" stroke-width="0.15" text-anchor="end" textLength="3.9" lengthAdjust="spacingAndGlyphs">4</text>
<line x1="68.30" y1="443.50" x2="71.30" y2="443.50" stroke="#262626" stroke-width="0.9"/>
<text x="66.10" y="446.11" font-size="7.6" fill="#262626" stroke="#262626" stroke-width="0.15" text-anchor="end" textLength="3.9" lengthAdjust="spacingAndGlyphs">5</text>
<line x1="68.30" y1="431.12" x2="71.30" y2="431.12" stroke="#262626" stroke-width="0.9"/>
<text x="66.10" y="433.73" font-size="7.6" fill="#262626" stroke="#262626" stroke-width="0.15" text-anchor="end" textLength="3.9" lengthAdjust="spacingAndGlyphs">6</text>
<line x1="68.30" y1="418.74" x2="71.30" y2="418.74" stroke="#262626" stroke-width="0.9"/>
<text x="66.10" y="421.35" font-size="7.6" fill="#262626" stroke="#262626" stroke-width="0.15" text-anchor="end" textLength="3.9" lengthAdjust="spacingAndGlyphs">7</text>
<line x1="68.30" y1="406.36" x2="71.30" y2="406.36" stroke="#262626" stroke-width="0.9"/>
<text x="66.10" y="408.97" font-size="7.6" fill="#262626" stroke="#262626" stroke-width="0.15" text-anchor="end" textLength="3.9" lengthAdjust="spacingAndGlyphs">8</text>
<line x1="68.30" y1="393.98" x2="71.30" y2="393.98" stroke="#262626" stroke-width="0.9"/>
<text x="66.10" y="396.59" font-size="7.6" fill="#262626" stroke="#262626" stroke-width="0.15" text-anchor="end" textLength="3.9" lengthAdjust="spacingAndGlyphs">9</text>
<line x1="68.30" y1="381.60" x2="71.30" y2="381.60" stroke="#262626" stroke-width="0.9"/>
<text x="66.10" y="384.21" font-size="7.6" fill="#262626" stroke="#262626" stroke-width="0.15" text-anchor="end" textLength="8.2" lengthAdjust="spacingAndGlyphs">10</text>
<line x1="70.10" y1="502.92" x2="71.30" y2="502.92" stroke="#262626" stroke-width="0.6"/>
<line x1="70.10" y1="500.45" x2="71.30" y2="500.45" stroke="#262626" stroke-width="0.6"/>
<line x1="70.10" y1="497.97" x2="71.30" y2="497.97" stroke="#262626" stroke-width="0.6"/>
<line x1="70.10" y1="495.50" x2="71.30" y2="495.50" stroke="#262626" stroke-width="0.6"/>
<line x1="70.10" y1="490.54" x2="71.30" y2="490.54" stroke="#262626" stroke-width="0.6"/>
<line x1="70.10" y1="488.07" x2="71.30" y2="488.07" stroke="#262626" stroke-width="0.6"/>
<line x1="70.10" y1="485.59" x2="71.30" y2="485.59" stroke="#262626" stroke-width="0.6"/>
<line x1="70.10" y1="483.12" x2="71.30" y2="483.12" stroke="#262626" stroke-width="0.6"/>
<line x1="70.10" y1="478.16" x2="71.30" y2="478.16" stroke="#262626" stroke-width="0.6"/>
<line x1="70.10" y1="475.69" x2="71.30" y2="475.69" stroke="#262626" stroke-width="0.6"/>
<line x1="70.10" y1="473.21" x2="71.30" y2="473.21" stroke="#262626" stroke-width="0.6"/>
<line x1="70.10" y1="470.74" x2="71.30" y2="470.74" stroke="#262626" stroke-width="0.6"/>
<line x1="70.10" y1="465.78" x2="71.30" y2="465.78" stroke="#262626" stroke-width="0.6"/>
<line x1="70.10" y1="463.31" x2="71.30" y2="463.31" stroke="#262626" stroke-width="0.6"/>
<line x1="70.10" y1="460.83" x2="71.30" y2="460.83" stroke="#262626" stroke-width="0.6"/>
<line x1="70.10" y1="458.36" x2="71.30" y2="458.36" stroke="#262626" stroke-width="0.6"/>
<line x1="70.10" y1="453.40" x2="71.30" y2="453.40" stroke="#262626" stroke-width="0.6"/>
<line x1="70.10" y1="450.93" x2="71.30" y2="450.93" stroke="#262626" stroke-width="0.6"/>
<line x1="70.10" y1="448.45" x2="71.30" y2="448.45" stroke="#262626" stroke-width="0.6"/>
<line x1="70.10" y1="445.98" x2="71.30" y2="445.98" stroke="#262626" stroke-width="0.6"/>
<line x1="70.10" y1="441.02" x2="71.30" y2="441.02" stroke="#262626" stroke-width="0.6"/>
<line x1="70.10" y1="438.55" x2="71.30" y2="438.55" stroke="#262626" stroke-width="0.6"/>
<line x1="70.10" y1="436.07" x2="71.30" y2="436.07" stroke="#262626" stroke-width="0.6"/>
<line x1="70.10" y1="433.60" x2="71.30" y2="433.60" stroke="#262626" stroke-width="0.6"/>
<line x1="70.10" y1="428.64" x2="71.30" y2="428.64" stroke="#262626" stroke-width="0.6"/>
<line x1="70.10" y1="426.17" x2="71.30" y2="426.17" stroke="#262626" stroke-width="0.6"/>
<line x1="70.10" y1="423.69" x2="71.30" y2="423.69" stroke="#262626" stroke-width="0.6"/>
<line x1="70.10" y1="421.22" x2="71.30" y2="421.22" stroke="#262626" stroke-width="0.6"/>
<line x1="70.10" y1="416.26" x2="71.30" y2="416.26" stroke="#262626" stroke-width="0.6"/>
<line x1="70.10" y1="413.79" x2="71.30" y2="413.79" stroke="#262626" stroke-width="0.6"/>
<line x1="70.10" y1="411.31" x2="71.30" y2="411.31" stroke="#262626" stroke-width="0.6"/>
<line x1="70.10" y1="408.84" x2="71.30" y2="408.84" stroke="#262626" stroke-width="0.6"/>
<line x1="70.10" y1="403.88" x2="71.30" y2="403.88" stroke="#262626" stroke-width="0.6"/>
<line x1="70.10" y1="401.41" x2="71.30" y2="401.41" stroke="#262626" stroke-width="0.6"/>
<line x1="70.10" y1="398.93" x2="71.30" y2="398.93" stroke="#262626" stroke-width="0.6"/>
<line x1="70.10" y1="396.46" x2="71.30" y2="396.46" stroke="#262626" stroke-width="0.6"/>
<line x1="70.10" y1="391.50" x2="71.30" y2="391.50" stroke="#262626" stroke-width="0.6"/>
<line x1="70.10" y1="389.03" x2="71.30" y2="389.03" stroke="#262626" stroke-width="0.6"/>
<line x1="70.10" y1="386.55" x2="71.30" y2="386.55" stroke="#262626" stroke-width="0.6"/>
<line x1="70.10" y1="384.08" x2="71.30" y2="384.08" stroke="#262626" stroke-width="0.6"/>
<line x1="70.80" y1="505.40" x2="88.30" y2="505.40" stroke="#262626" stroke-width="1.1"/>
<line x1="88.30" y1="502.90" x2="88.30" y2="507.90" stroke="#262626" stroke-width="1.0"/>
<line x1="71.30" y1="505.40" x2="71.30" y2="508.20" stroke="#262626" stroke-width="0.9"/>
<line x1="97.40" y1="505.40" x2="248.88" y2="505.40" stroke="#262626" stroke-width="1.1"/>
<line x1="97.40" y1="502.90" x2="97.40" y2="507.90" stroke="#262626" stroke-width="1.0"/>
<line x1="103.80" y1="505.40" x2="103.80" y2="506.90" stroke="#262626" stroke-width="0.7"/>
<line x1="110.00" y1="505.40" x2="110.00" y2="508.20" stroke="#262626" stroke-width="0.9"/>
<line x1="116.20" y1="505.40" x2="116.20" y2="506.90" stroke="#262626" stroke-width="0.7"/>
<line x1="122.40" y1="505.40" x2="122.40" y2="506.90" stroke="#262626" stroke-width="0.7"/>
<line x1="128.60" y1="505.40" x2="128.60" y2="506.90" stroke="#262626" stroke-width="0.7"/>
<line x1="134.80" y1="505.40" x2="134.80" y2="506.90" stroke="#262626" stroke-width="0.7"/>
<line x1="141.00" y1="505.40" x2="141.00" y2="508.20" stroke="#262626" stroke-width="0.9"/>
<line x1="147.20" y1="505.40" x2="147.20" y2="506.90" stroke="#262626" stroke-width="0.7"/>
<line x1="153.40" y1="505.40" x2="153.40" y2="506.90" stroke="#262626" stroke-width="0.7"/>
<line x1="159.60" y1="505.40" x2="159.60" y2="506.90" stroke="#262626" stroke-width="0.7"/>
<line x1="165.80" y1="505.40" x2="165.80" y2="506.90" stroke="#262626" stroke-width="0.7"/>
<line x1="172.00" y1="505.40" x2="172.00" y2="508.20" stroke="#262626" stroke-width="0.9"/>
<line x1="178.20" y1="505.40" x2="178.20" y2="506.90" stroke="#262626" stroke-width="0.7"/>
<line x1="184.40" y1="505.40" x2="184.40" y2="506.90" stroke="#262626" stroke-width="0.7"/>
<line x1="190.60" y1="505.40" x2="190.60" y2="506.90" stroke="#262626" stroke-width="0.7"/>
<line x1="196.80" y1="505.40" x2="196.80" y2="506.90" stroke="#262626" stroke-width="0.7"/>
<line x1="203.00" y1="505.40" x2="203.00" y2="508.20" stroke="#262626" stroke-width="0.9"/>
<line x1="209.20" y1="505.40" x2="209.20" y2="506.90" stroke="#262626" stroke-width="0.7"/>
<line x1="215.40" y1="505.40" x2="215.40" y2="506.90" stroke="#262626" stroke-width="0.7"/>
<line x1="221.60" y1="505.40" x2="221.60" y2="506.90" stroke="#262626" stroke-width="0.7"/>
<line x1="227.80" y1="505.40" x2="227.80" y2="506.90" stroke="#262626" stroke-width="0.7"/>
<line x1="234.00" y1="505.40" x2="234.00" y2="508.20" stroke="#262626" stroke-width="0.9"/>
<line x1="240.20" y1="505.40" x2="240.20" y2="506.90" stroke="#262626" stroke-width="0.7"/>
<line x1="246.40" y1="505.40" x2="246.40" y2="506.90" stroke="#262626" stroke-width="0.7"/>
<text x="71.70" y="518.01" font-size="7.6" fill="#262626" stroke="#262626" stroke-width="0.15" text-anchor="middle">0</text>
<text x="88.30" y="518.01" font-size="7.6" fill="#262626" stroke="#262626" stroke-width="0.15" text-anchor="middle" textLength="8.2" lengthAdjust="spacingAndGlyphs">50</text>
<text x="110.00" y="518.01" font-size="7.6" fill="#262626" stroke="#262626" stroke-width="0.15" text-anchor="middle" textLength="8.2" lengthAdjust="spacingAndGlyphs">75</text>
<text x="141.00" y="518.01" font-size="7.6" fill="#262626" stroke="#262626" stroke-width="0.15" text-anchor="middle" textLength="12.1" lengthAdjust="spacingAndGlyphs">100</text>
<text x="172.00" y="518.01" font-size="7.6" fill="#262626" stroke="#262626" stroke-width="0.15" text-anchor="middle" textLength="12.1" lengthAdjust="spacingAndGlyphs">125</text>
<text x="203.00" y="518.01" font-size="7.6" fill="#262626" stroke="#262626" stroke-width="0.15" text-anchor="middle" textLength="12.1" lengthAdjust="spacingAndGlyphs">150</text>
<text x="234.00" y="518.01" font-size="7.6" fill="#262626" stroke="#262626" stroke-width="0.15" text-anchor="middle" textLength="12.1" lengthAdjust="spacingAndGlyphs">175</text>
<text x="160.10" y="529.85" font-size="8.0" fill="#262626" font-weight="bold" text-anchor="middle" textLength="63.5" lengthAdjust="spacingAndGlyphs">% Histone H3 cleavage</text>
<text transform="translate(38.00,442.00) rotate(-90)" x="0" y="2.96" font-size="8.6" fill="#262626" font-weight="bold" text-anchor="middle" textLength="55.8" lengthAdjust="spacingAndGlyphs">APC plasma half-life</text>
<text transform="translate(48.70,441.40) rotate(-90)" x="0" y="2.75" font-size="8.0" fill="#262626" font-weight="bold" text-anchor="middle" textLength="101.2" lengthAdjust="spacingAndGlyphs">(fold over control with no antibodies)</text>
<line x1="142.10" y1="381.70" x2="142.10" y2="505.40" stroke="#222" stroke-width="1.15" stroke-dasharray="1.2,1.9"/>
<line x1="71.90" y1="464.79" x2="246.30" y2="464.79" stroke="#222" stroke-width="1.15" stroke-dasharray="1.2,1.9"/>
<line x1="150.40" y1="416.40" x2="150.40" y2="440.00" stroke="#6a6a6a" stroke-width="0.9"/>
<line x1="120.50" y1="447.60" x2="139.60" y2="462.60" stroke="#6a6a6a" stroke-width="0.9"/>
<line x1="155.30" y1="459.60" x2="217.60" y2="461.10" stroke="#6a6a6a" stroke-width="0.9"/>
<line x1="146.90" y1="466.50" x2="146.90" y2="494.00" stroke="#6a6a6a" stroke-width="0.9"/>
<line x1="151.50" y1="469.00" x2="151.50" y2="486.50" stroke="#6a6a6a" stroke-width="0.9"/>
<line x1="160.70" y1="467.80" x2="160.70" y2="479.00" stroke="#6a6a6a" stroke-width="0.9"/>
<circle cx="186.20" cy="388.20" r="1.95" fill="#f08c28" stroke="#c87818" stroke-width="0.5"/>
<circle cx="150.40" cy="442.00" r="1.95" fill="#f08c28" stroke="#c87818" stroke-width="0.5"/>
<circle cx="160.30" cy="443.30" r="1.95" fill="#f08c28" stroke="#c87818" stroke-width="0.5"/>
<circle cx="177.00" cy="454.70" r="1.95" fill="#f08c28" stroke="#c87818" stroke-width="0.5"/>
<circle cx="170.20" cy="466.80" r="1.95" fill="#f08c28" stroke="#c87818" stroke-width="0.5"/>
<circle cx="155.30" cy="459.60" r="1.95" fill="#52aa3e" stroke="#2e8a30" stroke-width="0.5"/>
<circle cx="134.20" cy="465.60" r="1.95" fill="#4a1656" stroke="#3a0e46" stroke-width="0.5"/>
<circle cx="146.90" cy="464.20" r="1.95" fill="#4a1656" stroke="#3a0e46" stroke-width="0.5"/>
<circle cx="151.50" cy="466.80" r="1.95" fill="#4a1656" stroke="#3a0e46" stroke-width="0.5"/>
<circle cx="160.70" cy="465.60" r="1.95" fill="#4a1656" stroke="#3a0e46" stroke-width="0.5"/>
<path d="M142.30,490.70 A2.5,2.5 0 0 0 142.30,495.70 Z" fill="#3f8cc2"/>
<path d="M138.50,464.60 L141.50,461.60 L144.50,464.60 L141.50,467.60 Z" fill="#5aa8da" stroke="#1a3c66" stroke-width="1.1" stroke-linejoin="miter"/>
<text x="188.90" y="384.68" font-size="7.8" fill="#262626" stroke="#262626" stroke-width="0.15" textLength="17" lengthAdjust="spacingAndGlyphs">N31F</text>
<text x="147.70" y="414.68" font-size="7.8" fill="#262626" stroke="#262626" stroke-width="0.15" textLength="18.6" lengthAdjust="spacingAndGlyphs">M34F</text>
<text x="157.70" y="441.08" font-size="7.8" fill="#262626" stroke="#262626" stroke-width="0.15" textLength="17.5" lengthAdjust="spacingAndGlyphs">N31P</text>
<text x="176.60" y="453.08" font-size="7.8" fill="#262626" stroke="#262626" stroke-width="0.15" textLength="16.4" lengthAdjust="spacingAndGlyphs">N31I</text>
<text x="91.10" y="435.58" font-size="7.8" fill="#262626" stroke="#262626" stroke-width="0.15" textLength="36.3" lengthAdjust="spacingAndGlyphs">TPP-26870</text>
<text x="91.10" y="444.68" font-size="7.8" fill="#262626" stroke="#262626" stroke-width="0.15" textLength="30.2" lengthAdjust="spacingAndGlyphs">(Parental)</text>
<text x="218.10" y="463.78" font-size="7.8" fill="#262626" stroke="#262626" stroke-width="0.15" textLength="23.7" lengthAdjust="spacingAndGlyphs">F103M</text>
<text x="114.30" y="474.68" font-size="7.8" fill="#262626" stroke="#262626" stroke-width="0.15" textLength="19.1" lengthAdjust="spacingAndGlyphs">S56R</text>
<text x="173.70" y="474.38" font-size="7.8" fill="#262626" stroke="#262626" stroke-width="0.15" textLength="17.6" lengthAdjust="spacingAndGlyphs">Y32F</text>
<text x="159.30" y="485.08" font-size="7.8" fill="#262626" stroke="#262626" stroke-width="0.15" textLength="17.3" lengthAdjust="spacingAndGlyphs">T57P</text>
<text x="151.00" y="492.88" font-size="7.8" fill="#262626" stroke="#262626" stroke-width="0.15" textLength="17" lengthAdjust="spacingAndGlyphs">S53T</text>
<text x="145.50" y="500.28" font-size="7.8" fill="#262626" stroke="#262626" stroke-width="0.15" textLength="18.2" lengthAdjust="spacingAndGlyphs">S54R</text>
<text x="116.90" y="495.48" font-size="7.8" fill="#262626" stroke="#262626" stroke-width="0.15" textLength="20.8" lengthAdjust="spacingAndGlyphs">No Ab</text>
<circle cx="221.60" cy="476.90" r="2.9" fill="#f08c28" stroke="none" stroke-width="1"/>
<text x="227.50" y="479.51" font-size="7.6" fill="#262626" stroke="#262626" stroke-width="0.15" textLength="19" lengthAdjust="spacingAndGlyphs">CDR1</text>
<circle cx="221.60" cy="487.60" r="2.9" fill="#4a1656" stroke="none" stroke-width="1"/>
<text x="227.50" y="490.21" font-size="7.6" fill="#262626" stroke="#262626" stroke-width="0.15" textLength="19" lengthAdjust="spacingAndGlyphs">CDR2</text>
<circle cx="221.60" cy="498.30" r="2.9" fill="#52aa3e" stroke="none" stroke-width="1"/>
<text x="227.50" y="500.91" font-size="7.6" fill="#262626" stroke="#262626" stroke-width="0.15" textLength="19" lengthAdjust="spacingAndGlyphs">CDR3</text>
<text x="400.50" y="363.4" font-size="9" fill="#262626" text-anchor="middle">V<tspan font-size="6.6" dy="1.5">L</tspan><tspan dy="-1.5"> Amino Acid Substitutions</tspan></text>
<text x="400.50" y="373.90" font-size="9" fill="#262626" stroke="#262626" stroke-width="0.15" text-anchor="middle" textLength="68.6" lengthAdjust="spacingAndGlyphs">in Different CDRs</text>
<line x1="311.70" y1="379.00" x2="311.70" y2="505.90" stroke="#262626" stroke-width="1.1"/>
<line x1="308.70" y1="505.40" x2="311.70" y2="505.40" stroke="#262626" stroke-width="0.9"/>
<text x="306.50" y="508.01" font-size="7.6" fill="#262626" stroke="#262626" stroke-width="0.15" text-anchor="end" textLength="3.9" lengthAdjust="spacingAndGlyphs">0</text>
<line x1="308.70" y1="493.02" x2="311.70" y2="493.02" stroke="#262626" stroke-width="0.9"/>
<text x="306.50" y="495.63" font-size="7.6" fill="#262626" stroke="#262626" stroke-width="0.15" text-anchor="end" textLength="3.9" lengthAdjust="spacingAndGlyphs">1</text>
<line x1="308.70" y1="480.64" x2="311.70" y2="480.64" stroke="#262626" stroke-width="0.9"/>
<text x="306.50" y="483.25" font-size="7.6" fill="#262626" stroke="#262626" stroke-width="0.15" text-anchor="end" textLength="3.9" lengthAdjust="spacingAndGlyphs">2</text>
<line x1="308.70" y1="468.26" x2="311.70" y2="468.26" stroke="#262626" stroke-width="0.9"/>
<text x="306.50" y="470.87" font-size="7.6" fill="#262626" stroke="#262626" stroke-width="0.15" text-anchor="end" textLength="3.9" lengthAdjust="spacingAndGlyphs">3</text>
<line x1="308.70" y1="455.88" x2="311.70" y2="455.88" stroke="#262626" stroke-width="0.9"/>
<text x="306.50" y="458.49" font-size="7.6" fill="#262626" stroke="#262626" stroke-width="0.15" text-anchor="end" textLength="3.9" lengthAdjust="spacingAndGlyphs">4</text>
<line x1="308.70" y1="443.50" x2="311.70" y2="443.50" stroke="#262626" stroke-width="0.9"/>
<text x="306.50" y="446.11" font-size="7.6" fill="#262626" stroke="#262626" stroke-width="0.15" text-anchor="end" textLength="3.9" lengthAdjust="spacingAndGlyphs">5</text>
<line x1="308.70" y1="431.12" x2="311.70" y2="431.12" stroke="#262626" stroke-width="0.9"/>
<text x="306.50" y="433.73" font-size="7.6" fill="#262626" stroke="#262626" stroke-width="0.15" text-anchor="end" textLength="3.9" lengthAdjust="spacingAndGlyphs">6</text>
<line x1="308.70" y1="418.74" x2="311.70" y2="418.74" stroke="#262626" stroke-width="0.9"/>
<text x="306.50" y="421.35" font-size="7.6" fill="#262626" stroke="#262626" stroke-width="0.15" text-anchor="end" textLength="3.9" lengthAdjust="spacingAndGlyphs">7</text>
<line x1="308.70" y1="406.36" x2="311.70" y2="406.36" stroke="#262626" stroke-width="0.9"/>
<text x="306.50" y="408.97" font-size="7.6" fill="#262626" stroke="#262626" stroke-width="0.15" text-anchor="end" textLength="3.9" lengthAdjust="spacingAndGlyphs">8</text>
<line x1="308.70" y1="393.98" x2="311.70" y2="393.98" stroke="#262626" stroke-width="0.9"/>
<text x="306.50" y="396.59" font-size="7.6" fill="#262626" stroke="#262626" stroke-width="0.15" text-anchor="end" textLength="3.9" lengthAdjust="spacingAndGlyphs">9</text>
<line x1="308.70" y1="381.60" x2="311.70" y2="381.60" stroke="#262626" stroke-width="0.9"/>
<text x="306.50" y="384.21" font-size="7.6" fill="#262626" stroke="#262626" stroke-width="0.15" text-anchor="end" textLength="8.2" lengthAdjust="spacingAndGlyphs">10</text>
<line x1="310.50" y1="502.92" x2="311.70" y2="502.92" stroke="#262626" stroke-width="0.6"/>
<line x1="310.50" y1="500.45" x2="311.70" y2="500.45" stroke="#262626" stroke-width="0.6"/>
<line x1="310.50" y1="497.97" x2="311.70" y2="497.97" stroke="#262626" stroke-width="0.6"/>
<line x1="310.50" y1="495.50" x2="311.70" y2="495.50" stroke="#262626" stroke-width="0.6"/>
<line x1="310.50" y1="490.54" x2="311.70" y2="490.54" stroke="#262626" stroke-width="0.6"/>
<line x1="310.50" y1="488.07" x2="311.70" y2="488.07" stroke="#262626" stroke-width="0.6"/>
<line x1="310.50" y1="485.59" x2="311.70" y2="485.59" stroke="#262626" stroke-width="0.6"/>
<line x1="310.50" y1="483.12" x2="311.70" y2="483.12" stroke="#262626" stroke-width="0.6"/>
<line x1="310.50" y1="478.16" x2="311.70" y2="478.16" stroke="#262626" stroke-width="0.6"/>
<line x1="310.50" y1="475.69" x2="311.70" y2="475.69" stroke="#262626" stroke-width="0.6"/>
<line x1="310.50" y1="473.21" x2="311.70" y2="473.21" stroke="#262626" stroke-width="0.6"/>
<line x1="310.50" y1="470.74" x2="311.70" y2="470.74" stroke="#262626" stroke-width="0.6"/>
<line x1="310.50" y1="465.78" x2="311.70" y2="465.78" stroke="#262626" stroke-width="0.6"/>
<line x1="310.50" y1="463.31" x2="311.70" y2="463.31" stroke="#262626" stroke-width="0.6"/>
<line x1="310.50" y1="460.83" x2="311.70" y2="460.83" stroke="#262626" stroke-width="0.6"/>
<line x1="310.50" y1="458.36" x2="311.70" y2="458.36" stroke="#262626" stroke-width="0.6"/>
<line x1="310.50" y1="453.40" x2="311.70" y2="453.40" stroke="#262626" stroke-width="0.6"/>
<line x1="310.50" y1="450.93" x2="311.70" y2="450.93" stroke="#262626" stroke-width="0.6"/>
<line x1="310.50" y1="448.45" x2="311.70" y2="448.45" stroke="#262626" stroke-width="0.6"/>
<line x1="310.50" y1="445.98" x2="311.70" y2="445.98" stroke="#262626" stroke-width="0.6"/>
<line x1="310.50" y1="441.02" x2="311.70" y2="441.02" stroke="#262626" stroke-width="0.6"/>
<line x1="310.50" y1="438.55" x2="311.70" y2="438.55" stroke="#262626" stroke-width="0.6"/>
<line x1="310.50" y1="436.07" x2="311.70" y2="436.07" stroke="#262626" stroke-width="0.6"/>
<line x1="310.50" y1="433.60" x2="311.70" y2="433.60" stroke="#262626" stroke-width="0.6"/>
<line x1="310.50" y1="428.64" x2="311.70" y2="428.64" stroke="#262626" stroke-width="0.6"/>
<line x1="310.50" y1="426.17" x2="311.70" y2="426.17" stroke="#262626" stroke-width="0.6"/>
<line x1="310.50" y1="423.69" x2="311.70" y2="423.69" stroke="#262626" stroke-width="0.6"/>
<line x1="310.50" y1="421.22" x2="311.70" y2="421.22" stroke="#262626" stroke-width="0.6"/>
<line x1="310.50" y1="416.26" x2="311.70" y2="416.26" stroke="#262626" stroke-width="0.6"/>
<line x1="310.50" y1="413.79" x2="311.70" y2="413.79" stroke="#262626" stroke-width="0.6"/>
<line x1="310.50" y1="411.31" x2="311.70" y2="411.31" stroke="#262626" stroke-width="0.6"/>
<line x1="310.50" y1="408.84" x2="311.70" y2="408.84" stroke="#262626" stroke-width="0.6"/>
<line x1="310.50" y1="403.88" x2="311.70" y2="403.88" stroke="#262626" stroke-width="0.6"/>
<line x1="310.50" y1="401.41" x2="311.70" y2="401.41" stroke="#262626" stroke-width="0.6"/>
<line x1="310.50" y1="398.93" x2="311.70" y2="398.93" stroke="#262626" stroke-width="0.6"/>
<line x1="310.50" y1="396.46" x2="311.70" y2="396.46" stroke="#262626" stroke-width="0.6"/>
<line x1="310.50" y1="391.50" x2="311.70" y2="391.50" stroke="#262626" stroke-width="0.6"/>
<line x1="310.50" y1="389.03" x2="311.70" y2="389.03" stroke="#262626" stroke-width="0.6"/>
<line x1="310.50" y1="386.55" x2="311.70" y2="386.55" stroke="#262626" stroke-width="0.6"/>
<line x1="310.50" y1="384.08" x2="311.70" y2="384.08" stroke="#262626" stroke-width="0.6"/>
<line x1="311.20" y1="505.40" x2="328.70" y2="505.40" stroke="#262626" stroke-width="1.1"/>
<line x1="328.70" y1="502.90" x2="328.70" y2="507.90" stroke="#262626" stroke-width="1.0"/>
<line x1="311.70" y1="505.40" x2="311.70" y2="508.20" stroke="#262626" stroke-width="0.9"/>
<line x1="337.80" y1="505.40" x2="489.78" y2="505.40" stroke="#262626" stroke-width="1.1"/>
<line x1="337.80" y1="502.90" x2="337.80" y2="507.90" stroke="#262626" stroke-width="1.0"/>
<line x1="344.70" y1="505.40" x2="344.70" y2="506.90" stroke="#262626" stroke-width="0.7"/>
<line x1="350.90" y1="505.40" x2="350.90" y2="508.20" stroke="#262626" stroke-width="0.9"/>
<line x1="357.10" y1="505.40" x2="357.10" y2="506.90" stroke="#262626" stroke-width="0.7"/>
<line x1="363.30" y1="505.40" x2="363.30" y2="506.90" stroke="#262626" stroke-width="0.7"/>
<line x1="369.50" y1="505.40" x2="369.50" y2="506.90" stroke="#262626" stroke-width="0.7"/>
<line x1="375.70" y1="505.40" x2="375.70" y2="506.90" stroke="#262626" stroke-width="0.7"/>
<line x1="381.90" y1="505.40" x2="381.90" y2="508.20" stroke="#262626" stroke-width="0.9"/>
<line x1="388.10" y1="505.40" x2="388.10" y2="506.90" stroke="#262626" stroke-width="0.7"/>
<line x1="394.30" y1="505.40" x2="394.30" y2="506.90" stroke="#262626" stroke-width="0.7"/>
<line x1="400.50" y1="505.40" x2="400.50" y2="506.90" stroke="#262626" stroke-width="0.7"/>
<line x1="406.70" y1="505.40" x2="406.70" y2="506.90" stroke="#262626" stroke-width="0.7"/>
<line x1="412.90" y1="505.40" x2="412.90" y2="508.20" stroke="#262626" stroke-width="0.9"/>
<line x1="419.10" y1="505.40" x2="419.10" y2="506.90" stroke="#262626" stroke-width="0.7"/>
<line x1="425.30" y1="505.40" x2="425.30" y2="506.90" stroke="#262626" stroke-width="0.7"/>
<line x1="431.50" y1="505.40" x2="431.50" y2="506.90" stroke="#262626" stroke-width="0.7"/>
<line x1="437.70" y1="505.40" x2="437.70" y2="506.90" stroke="#262626" stroke-width="0.7"/>
<line x1="443.90" y1="505.40" x2="443.90" y2="508.20" stroke="#262626" stroke-width="0.9"/>
<line x1="450.10" y1="505.40" x2="450.10" y2="506.90" stroke="#262626" stroke-width="0.7"/>
<line x1="456.30" y1="505.40" x2="456.30" y2="506.90" stroke="#262626" stroke-width="0.7"/>
<line x1="462.50" y1="505.40" x2="462.50" y2="506.90" stroke="#262626" stroke-width="0.7"/>
<line x1="468.70" y1="505.40" x2="468.70" y2="506.90" stroke="#262626" stroke-width="0.7"/>
<line x1="474.90" y1="505.40" x2="474.90" y2="508.20" stroke="#262626" stroke-width="0.9"/>
<line x1="481.10" y1="505.40" x2="481.10" y2="506.90" stroke="#262626" stroke-width="0.7"/>
<line x1="487.30" y1="505.40" x2="487.30" y2="506.90" stroke="#262626" stroke-width="0.7"/>
<text x="312.10" y="518.01" font-size="7.6" fill="#262626" stroke="#262626" stroke-width="0.15" text-anchor="middle">0</text>
<text x="328.70" y="518.01" font-size="7.6" fill="#262626" stroke="#262626" stroke-width="0.15" text-anchor="middle" textLength="8.2" lengthAdjust="spacingAndGlyphs">50</text>
<text x="350.90" y="518.01" font-size="7.6" fill="#262626" stroke="#262626" stroke-width="0.15" text-anchor="middle" textLength="8.2" lengthAdjust="spacingAndGlyphs">75</text>
<text x="381.90" y="518.01" font-size="7.6" fill="#262626" stroke="#262626" stroke-width="0.15" text-anchor="middle" textLength="12.1" lengthAdjust="spacingAndGlyphs">100</text>
<text x="412.90" y="518.01" font-size="7.6" fill="#262626" stroke="#262626" stroke-width="0.15" text-anchor="middle" textLength="12.1" lengthAdjust="spacingAndGlyphs">125</text>
<text x="443.90" y="518.01" font-size="7.6" fill="#262626" stroke="#262626" stroke-width="0.15" text-anchor="middle" textLength="12.1" lengthAdjust="spacingAndGlyphs">150</text>
<text x="474.90" y="518.01" font-size="7.6" fill="#262626" stroke="#262626" stroke-width="0.15" text-anchor="middle" textLength="12.1" lengthAdjust="spacingAndGlyphs">175</text>
<text x="401.00" y="529.85" font-size="8.0" fill="#262626" font-weight="bold" text-anchor="middle" textLength="63.5" lengthAdjust="spacingAndGlyphs">% Histone H3 cleavage</text>
<text transform="translate(278.40,442.00) rotate(-90)" x="0" y="2.96" font-size="8.6" fill="#262626" font-weight="bold" text-anchor="middle" textLength="55.8" lengthAdjust="spacingAndGlyphs">APC plasma half-life</text>
<text transform="translate(289.10,441.40) rotate(-90)" x="0" y="2.75" font-size="8.0" fill="#262626" font-weight="bold" text-anchor="middle" textLength="101.2" lengthAdjust="spacingAndGlyphs">(fold over control with no antibodies)</text>
<line x1="383.00" y1="381.70" x2="383.00" y2="505.40" stroke="#222" stroke-width="1.15" stroke-dasharray="1.2,1.9"/>
<line x1="312.30" y1="464.79" x2="486.70" y2="464.79" stroke="#222" stroke-width="1.15" stroke-dasharray="1.2,1.9"/>
<line x1="382.80" y1="464.70" x2="428.80" y2="460.30" stroke="#6a6a6a" stroke-width="0.9"/>
<circle cx="361.70" cy="439.60" r="1.95" fill="#52aa3e" stroke="#2e8a30" stroke-width="0.5"/>
<circle cx="365.80" cy="452.00" r="1.95" fill="#4a1656" stroke="#3a0e46" stroke-width="0.5"/>
<circle cx="366.00" cy="455.10" r="1.95" fill="#4a1656" stroke="#3a0e46" stroke-width="0.5"/>
<circle cx="375.90" cy="465.50" r="1.95" fill="#4a1656" stroke="#3a0e46" stroke-width="0.5"/>
<circle cx="358.60" cy="471.60" r="1.95" fill="#4a1656" stroke="#3a0e46" stroke-width="0.5"/>
<circle cx="395.40" cy="456.90" r="1.95" fill="#52aa3e" stroke="#2e8a30" stroke-width="0.5"/>
<circle cx="389.20" cy="471.60" r="1.95" fill="#f08c28" stroke="#c87818" stroke-width="0.5"/>
<circle cx="415.30" cy="474.50" r="1.95" fill="#52aa3e" stroke="#2e8a30" stroke-width="0.5"/>
<circle cx="427.20" cy="437.70" r="1.95" fill="#4a1656" stroke="#3a0e46" stroke-width="0.5"/>
<circle cx="428.80" cy="435.80" r="1.95" fill="#4a1656" stroke="#3a0e46" stroke-width="0.5"/>
<circle cx="480.80" cy="455.70" r="1.95" fill="#f08c28" stroke="#c87818" stroke-width="0.5"/>
<path d="M383.40,490.80 A2.5,2.5 0 0 0 383.40,495.80 Z" fill="#3f8cc2"/>
<path d="M379.80,464.70 L382.80,461.70 L385.80,464.70 L382.80,467.70 Z" fill="#5aa8da" stroke="#1a3c66" stroke-width="1.1" stroke-linejoin="miter"/>
<text x="336.00" y="438.28" font-size="7.8" fill="#262626" stroke="#262626" stroke-width="0.15" textLength="24.8" lengthAdjust="spacingAndGlyphs">Y100W</text>
<text x="344.70" y="451.28" font-size="7.8" fill="#262626" stroke="#262626" stroke-width="0.15" textLength="18.2" lengthAdjust="spacingAndGlyphs">A55K</text>
<text x="345.60" y="461.08" font-size="7.8" fill="#262626" stroke="#262626" stroke-width="0.15" textLength="18.7" lengthAdjust="spacingAndGlyphs">N57R</text>
<text x="362.00" y="474.28" font-size="7.8" fill="#262626" stroke="#262626" stroke-width="0.15" textLength="19" lengthAdjust="spacingAndGlyphs">N57H</text>
<text x="338.70" y="480.28" font-size="7.8" fill="#262626" stroke="#262626" stroke-width="0.15" textLength="19" lengthAdjust="spacingAndGlyphs">S56R</text>
<text x="429.50" y="453.08" font-size="7.8" fill="#262626" stroke="#262626" stroke-width="0.15" textLength="37.4" lengthAdjust="spacingAndGlyphs">TPP-26870</text>
<text x="429.50" y="461.88" font-size="7.8" fill="#262626" stroke="#262626" stroke-width="0.15" textLength="31" lengthAdjust="spacingAndGlyphs">(Parental)</text>
<text x="393.70" y="454.68" font-size="7.8" fill="#262626" stroke="#262626" stroke-width="0.15" textLength="22" lengthAdjust="spacingAndGlyphs">Y100F</text>
<text x="389.70" y="480.28" font-size="7.8" fill="#262626" stroke="#262626" stroke-width="0.15" textLength="19" lengthAdjust="spacingAndGlyphs">S28R</text>
<text x="416.60" y="481.88" font-size="7.8" fill="#262626" stroke="#262626" stroke-width="0.15" textLength="21.4" lengthAdjust="spacingAndGlyphs">Q93T</text>
<text x="403.50" y="441.48" font-size="7.8" fill="#262626" stroke="#262626" stroke-width="0.15" textLength="21.4" lengthAdjust="spacingAndGlyphs">S56W</text>
<text x="430.00" y="434.58" font-size="7.8" fill="#262626" stroke="#262626" stroke-width="0.15" textLength="20.8" lengthAdjust="spacingAndGlyphs">N57W</text>
<text x="478.00" y="453.78" font-size="7.8" fill="#262626" stroke="#262626" stroke-width="0.15" textLength="19" lengthAdjust="spacingAndGlyphs">Q27E</text>
<text x="357.50" y="495.28" font-size="7.8" fill="#262626" stroke="#262626" stroke-width="0.15" textLength="20.8" lengthAdjust="spacingAndGlyphs">No Ab</text>
<circle cx="461.90" cy="477.10" r="2.9" fill="#f08c28" stroke="none" stroke-width="1"/>
<text x="467.80" y="479.71" font-size="7.6" fill="#262626" stroke="#262626" stroke-width="0.15" textLength="19" lengthAdjust="spacingAndGlyphs">CDR1</text>
<circle cx="461.90" cy="487.80" r="2.9" fill="#4a1656" stroke="none" stroke-width="1"/>
<text x="467.80" y="490.41" font-size="7.6" fill="#262626" stroke="#262626" stroke-width="0.15" textLength="19" lengthAdjust="spacingAndGlyphs">CDR2</text>
<circle cx="461.90" cy="498.50" r="2.9" fill="#52aa3e" stroke="none" stroke-width="1"/>
<text x="467.80" y="501.11" font-size="7.6" fill="#262626" stroke="#262626" stroke-width="0.15" textLength="19" lengthAdjust="spacingAndGlyphs">CDR3</text>
<rect x="0" y="0" width="520" height="1.05" fill="#555"/>
<rect x="0" y="0" width="1.45" height="539" fill="#555"/>
<rect x="518.6" y="0" width="1.4" height="539" fill="#484848"/>
<rect x="0" y="537.65" width="520" height="1.35" fill="#3c3c3c"/>
</svg>
</body></html>
